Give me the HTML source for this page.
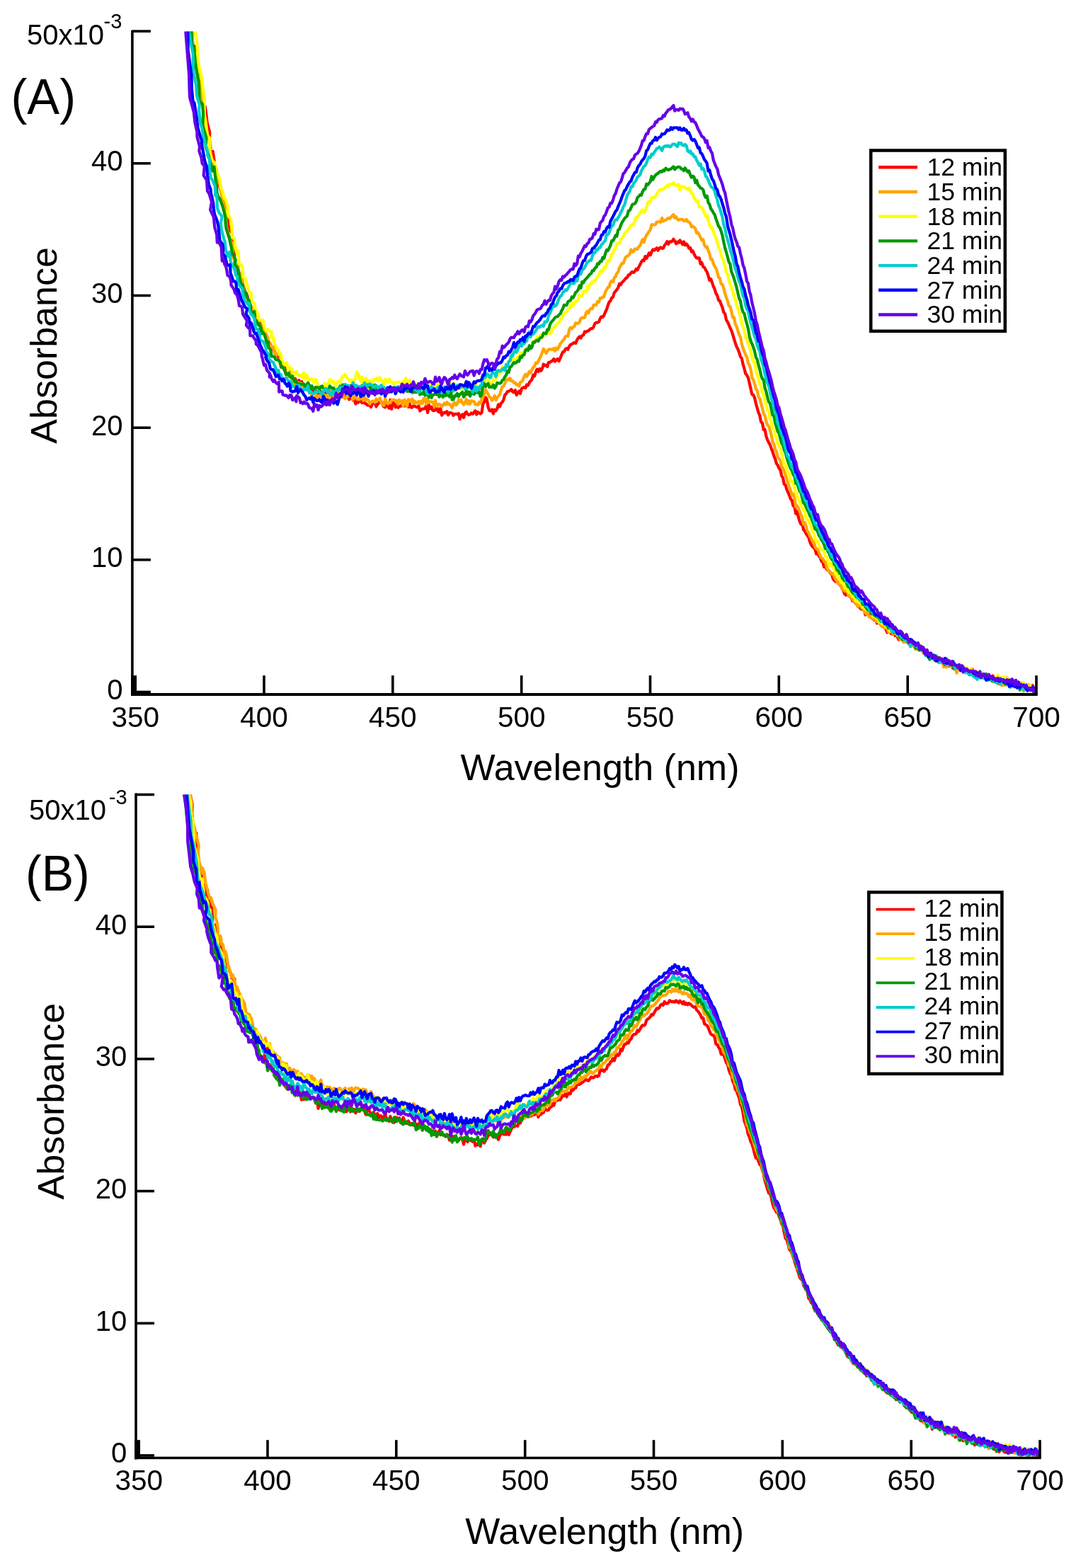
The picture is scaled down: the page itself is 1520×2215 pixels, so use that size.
<!DOCTYPE html>
<html><head><meta charset="utf-8"><title>Absorbance spectra</title>
<style>html,body{margin:0;padding:0;background:#fff;}svg{display:block;}</style>
</head><body>
<svg width="1520" height="2215" viewBox="0 0 1520 2215" font-family="'Liberation Sans', Arial, Helvetica, sans-serif" fill="#000">
<rect width="1520" height="2215" fill="#fff"/>
<clipPath id="clipA"><rect x="188" y="44.5" width="1278" height="937"/></clipPath>
<g clip-path="url(#clipA)" fill="none" stroke-width="4.2" stroke-linejoin="round" stroke-linecap="round">
<path d="M256.4 -20.3 L257.7 -14.1 L258.6 -13.0 L259.9 -14.8 L262.4 -20.1 L264.0 -12.9 L265.7 10.0 L267.0 23.8 L269.9 33.5 L270.5 46.8 L272.8 64.9 L277.0 66.1 L276.7 80.7 L279.9 98.0 L280.7 99.5 L282.7 118.3 L284.3 122.9 L288.2 137.5 L288.1 148.1 L289.8 150.4 L291.5 163.4 L292.7 173.9 L296.2 186.6 L296.0 196.2 L297.1 213.1 L300.7 213.8 L302.7 227.6 L302.9 230.8 L306.2 241.9 L307.7 249.3 L307.9 255.3 L309.2 260.7 L313.5 273.4 L315.0 282.3 L317.7 292.8 L317.3 301.0 L321.6 306.3 L322.4 318.3 L324.6 324.4 L327.9 330.3 L327.7 345.4 L329.4 349.8 L330.9 357.2 L331.7 373.0 L335.0 374.8 L335.4 377.9 L337.6 389.9 L338.6 395.9 L342.9 403.0 L344.0 404.6 L346.9 416.0 L347.7 413.7 L349.2 417.4 L350.7 423.7 L352.2 433.7 L356.6 438.2 L355.9 443.4 L359.2 442.0 L361.1 448.2 L362.2 447.4 L364.2 449.5 L367.5 457.6 L367.7 465.8 L369.5 466.5 L370.9 465.3 L374.2 474.2 L374.5 474.0 L377.9 480.4 L378.5 483.3 L380.7 484.0 L382.0 486.7 L383.8 490.6 L385.8 492.0 L386.2 493.5 L389.9 500.0 L390.5 500.2 L393.2 504.4 L394.0 505.4 L397.2 514.1 L399.3 515.9 L400.5 519.4 L402.0 518.8 L404.4 529.3 L406.0 528.6 L407.8 531.7 L409.4 527.5 L412.2 534.8 L412.6 534.6 L415.0 541.3 L417.1 534.8 L418.8 540.0 L420.7 543.2 L422.3 537.1 L424.2 542.4 L426.0 538.9 L427.8 543.0 L428.9 542.8 L431.4 547.6 L433.2 543.6 L435.0 542.0 L436.8 547.9 L438.7 546.9 L440.5 551.8 L442.3 550.3 L444.1 553.6 L445.9 551.7 L447.7 553.5 L449.6 556.5 L451.4 552.5 L453.2 553.0 L455.0 556.8 L456.8 555.5 L458.7 554.8 L460.5 554.7 L462.3 555.4 L464.1 557.7 L465.9 562.0 L467.7 552.6 L469.6 562.0 L471.4 559.5 L473.2 560.9 L475.0 557.9 L476.8 556.3 L478.7 556.2 L480.5 555.4 L482.3 555.1 L484.1 557.2 L485.9 561.1 L487.7 557.6 L489.6 561.4 L491.4 555.8 L493.2 564.4 L495.0 561.0 L496.8 560.4 L498.7 565.3 L500.5 562.9 L502.3 570.5 L504.1 567.7 L505.9 568.7 L507.8 566.1 L509.6 566.6 L511.4 569.1 L513.2 567.1 L515.0 569.4 L516.8 570.0 L518.7 572.2 L520.5 572.6 L522.3 570.7 L524.1 575.1 L525.9 570.5 L527.8 568.9 L529.6 569.4 L531.4 574.4 L533.2 571.3 L535.0 569.5 L536.8 566.0 L538.7 567.5 L540.5 571.6 L542.3 574.6 L544.1 575.4 L545.9 569.0 L547.8 573.4 L549.6 576.6 L551.4 564.7 L553.2 577.9 L555.0 568.6 L556.8 567.7 L558.7 575.4 L560.5 573.5 L562.3 575.8 L564.1 573.6 L565.9 573.9 L567.8 572.0 L569.6 570.7 L571.4 573.5 L573.2 566.9 L575.0 573.8 L576.8 574.8 L578.7 570.5 L580.5 575.5 L582.3 575.6 L584.1 573.3 L585.9 573.8 L587.8 574.9 L589.6 575.4 L591.4 573.3 L593.2 580.5 L595.0 578.8 L596.8 577.4 L598.7 577.7 L600.5 576.9 L602.3 572.3 L604.1 582.9 L605.9 571.9 L607.8 577.4 L609.6 574.8 L611.4 579.9 L613.2 580.2 L615.0 579.1 L616.9 573.4 L618.7 581.2 L620.5 582.3 L622.3 576.6 L624.1 586.7 L625.9 583.8 L627.8 582.4 L629.6 583.6 L631.4 581.1 L633.2 586.3 L635.0 583.2 L636.9 583.2 L638.7 583.7 L640.5 586.9 L642.3 584.8 L644.1 584.9 L645.9 585.1 L647.8 584.1 L649.6 592.2 L651.4 586.7 L653.2 585.5 L655.0 590.1 L656.9 583.6 L658.7 581.7 L660.5 585.0 L662.3 586.1 L664.1 585.3 L665.9 583.5 L667.8 584.8 L669.6 582.4 L671.4 580.2 L673.2 585.5 L675.0 582.0 L676.9 583.4 L678.7 584.6 L680.5 582.8 L682.3 570.7 L684.1 567.8 L685.9 561.4 L687.8 564.6 L689.6 575.3 L691.4 580.0 L693.2 580.6 L695.0 578.4 L696.9 584.5 L698.7 578.7 L700.5 580.3 L702.3 577.0 L704.1 571.3 L706.0 574.4 L707.8 569.8 L709.6 568.1 L711.4 564.6 L713.2 557.9 L715.0 556.2 L716.9 553.0 L718.7 552.7 L720.5 551.7 L722.3 550.0 L724.1 553.3 L726.0 554.3 L727.8 551.1 L729.6 558.1 L731.4 555.3 L733.2 552.5 L735.0 556.0 L736.9 548.9 L738.7 547.7 L740.5 547.1 L742.3 548.1 L744.1 543.4 L746.0 544.5 L747.8 540.3 L749.6 538.0 L751.4 536.3 L753.2 529.6 L755.0 531.5 L756.9 525.4 L758.7 521.8 L760.5 524.9 L762.3 520.9 L764.1 523.8 L766.0 520.8 L767.8 514.4 L769.6 516.4 L771.4 515.6 L773.2 518.1 L775.0 511.9 L776.9 511.8 L778.7 510.3 L780.5 509.7 L782.3 507.0 L784.1 510.6 L786.0 508.3 L787.8 507.0 L789.6 510.1 L791.4 506.0 L793.2 501.4 L795.0 497.3 L796.9 496.7 L798.7 493.2 L800.5 492.0 L802.3 493.8 L804.1 489.5 L806.0 486.8 L807.8 486.4 L809.6 484.9 L811.4 483.9 L813.2 485.1 L815.1 480.2 L816.9 477.3 L818.7 475.5 L820.5 477.6 L822.3 473.9 L824.1 473.4 L826.0 468.4 L827.8 469.1 L829.6 467.5 L831.4 467.5 L833.2 465.3 L835.1 464.0 L836.9 464.1 L838.7 461.3 L840.5 456.9 L842.3 455.5 L844.1 455.6 L846.0 454.6 L847.8 449.9 L849.6 447.3 L851.4 448.0 L853.2 445.5 L855.1 440.7 L856.9 437.3 L858.7 431.6 L860.5 426.8 L862.3 425.1 L864.1 420.8 L866.0 419.7 L867.8 413.3 L869.6 411.3 L871.4 409.2 L873.2 406.3 L875.1 400.8 L876.9 402.2 L878.7 398.6 L880.5 397.6 L882.3 395.2 L884.1 393.1 L886.0 391.9 L887.8 388.4 L889.6 388.2 L891.4 385.3 L893.2 384.0 L895.1 385.1 L896.9 383.3 L898.7 379.9 L900.5 381.3 L902.3 377.2 L904.2 373.8 L906.0 369.9 L907.8 367.4 L909.6 368.3 L911.4 362.1 L913.2 365.1 L915.1 361.5 L916.9 357.4 L918.7 360.4 L920.5 355.7 L922.3 352.5 L924.2 353.6 L926.0 351.9 L927.8 350.3 L929.6 353.7 L931.4 350.7 L933.2 349.3 L935.1 350.9 L936.9 350.6 L938.7 346.6 L940.5 344.5 L942.3 341.2 L944.2 344.8 L946.0 341.3 L947.8 341.6 L949.6 340.6 L951.4 337.8 L953.2 340.6 L955.1 344.4 L956.9 341.6 L958.7 343.0 L960.5 339.4 L962.3 342.1 L964.2 345.4 L966.0 341.4 L967.8 346.4 L969.6 344.6 L971.4 346.7 L973.2 350.7 L975.1 350.0 L976.9 355.7 L978.7 354.5 L980.5 358.6 L982.3 362.4 L984.2 364.7 L986.0 364.4 L987.8 364.3 L989.6 372.9 L991.4 371.1 L993.3 377.1 L995.1 377.7 L996.9 381.3 L998.7 384.2 L1000.5 389.4 L1002.3 395.9 L1004.2 394.3 L1006.0 399.2 L1007.8 404.7 L1009.6 408.7 L1011.4 414.4 L1013.3 417.5 L1015.1 424.3 L1016.9 425.0 L1018.7 430.0 L1020.5 434.4 L1022.3 441.1 L1024.2 443.2 L1026.0 452.1 L1027.8 454.7 L1029.6 458.7 L1031.4 463.2 L1033.3 467.2 L1035.1 472.4 L1036.9 478.6 L1038.7 484.5 L1040.5 489.6 L1042.3 493.1 L1044.2 497.9 L1046.0 504.0 L1047.8 506.1 L1049.6 514.7 L1051.4 520.7 L1053.3 527.9 L1055.1 530.0 L1056.9 533.4 L1058.7 541.2 L1060.5 549.0 L1062.3 557.0 L1064.2 557.8 L1066.0 561.9 L1067.8 569.8 L1069.6 576.1 L1071.4 582.7 L1073.3 587.0 L1075.1 596.3 L1076.9 597.5 L1078.7 607.0 L1080.5 606.6 L1082.3 616.2 L1084.2 621.5 L1086.0 625.2 L1087.8 628.2 L1089.6 633.4 L1091.4 638.0 L1093.3 643.9 L1095.1 648.6 L1096.9 654.8 L1098.7 657.3 L1100.5 661.3 L1102.4 663.9 L1104.2 672.4 L1106.0 675.0 L1107.8 684.0 L1109.6 685.3 L1111.4 691.7 L1113.3 695.6 L1115.1 699.9 L1116.9 704.8 L1118.7 706.8 L1120.5 714.5 L1122.4 715.6 L1124.2 725.6 L1126.0 722.4 L1127.8 730.2 L1129.6 736.3 L1131.4 740.5 L1133.3 739.8 L1135.1 748.2 L1136.9 750.3 L1138.7 753.9 L1140.5 756.7 L1142.4 759.4 L1144.2 765.6 L1146.0 769.6 L1147.8 772.5 L1149.6 773.6 L1151.4 776.0 L1153.3 782.6 L1155.1 779.6 L1156.9 785.6 L1158.7 787.7 L1160.5 792.8 L1162.4 794.6 L1164.2 800.8 L1166.0 800.5 L1167.8 804.0 L1169.6 805.7 L1171.4 806.8 L1173.3 809.8 L1175.1 811.7 L1176.9 817.8 L1178.7 820.1 L1180.5 821.6 L1182.4 822.2 L1184.2 822.4 L1186.0 825.7 L1187.8 827.9 L1189.6 829.8 L1191.5 834.7 L1193.3 839.3 L1195.1 840.6 L1196.9 838.4 L1198.7 841.2 L1200.5 843.2 L1202.4 843.4 L1204.2 849.0 L1206.0 848.9 L1207.8 851.0 L1209.6 853.1 L1211.5 853.4 L1213.3 855.3 L1215.1 859.3 L1216.9 860.4 L1218.7 861.1 L1220.5 859.9 L1222.4 868.6 L1224.2 866.7 L1226.0 868.4 L1227.8 867.5 L1229.6 870.9 L1231.5 872.9 L1233.3 874.2 L1235.1 876.1 L1236.9 873.9 L1238.7 880.4 L1240.5 878.9 L1242.4 880.0 L1244.2 882.3 L1246.0 884.1 L1247.8 885.5 L1249.6 885.6 L1251.5 889.0 L1253.3 893.5 L1255.1 891.9 L1256.9 891.2 L1258.7 895.1 L1260.5 895.6 L1262.4 894.4 L1264.2 897.9 L1266.0 895.5 L1267.8 899.9 L1269.6 903.6 L1271.5 898.9 L1273.3 900.6 L1275.1 901.2 L1276.9 906.9 L1278.7 903.7 L1280.5 905.7 L1282.4 906.4 L1284.2 909.9 L1286.0 910.8 L1287.8 908.3 L1289.6 906.5 L1291.5 912.2 L1293.3 913.1 L1295.1 914.5 L1296.9 911.3 L1298.7 915.7 L1300.6 918.4 L1302.4 913.7 L1304.2 918.0 L1306.0 917.7 L1307.8 923.8 L1309.6 923.0 L1311.5 922.9 L1313.3 922.5 L1315.1 926.0 L1316.9 927.1 L1318.7 926.7 L1320.6 931.3 L1322.4 928.1 L1324.2 932.7 L1326.0 934.9 L1327.8 931.9 L1329.6 934.4 L1331.5 937.1 L1333.3 932.2 L1335.1 934.4 L1336.9 934.1 L1338.7 938.0 L1340.6 941.1 L1342.4 935.3 L1344.2 938.0 L1346.0 943.9 L1347.8 939.2 L1349.6 942.1 L1351.5 943.1 L1353.3 940.0 L1355.1 944.7 L1356.9 944.2 L1358.7 943.7 L1360.6 943.1 L1362.4 948.6 L1364.2 947.9 L1366.0 946.3 L1367.8 946.8 L1369.6 949.7 L1371.5 951.2 L1373.3 945.2 L1375.1 952.8 L1376.9 949.3 L1378.7 948.7 L1380.6 953.3 L1382.4 954.8 L1384.2 956.1 L1386.0 952.1 L1387.8 954.6 L1389.7 957.2 L1391.5 955.7 L1393.3 959.5 L1395.1 959.7 L1396.9 953.9 L1398.7 955.9 L1400.6 960.2 L1402.4 954.4 L1404.2 960.8 L1406.0 960.2 L1407.8 957.2 L1409.7 965.0 L1411.5 958.5 L1413.3 960.2 L1415.1 961.5 L1416.9 959.8 L1418.7 962.5 L1420.6 963.6 L1422.4 957.1 L1424.2 964.6 L1426.0 966.8 L1427.8 966.4 L1429.7 965.9 L1431.5 961.2 L1433.3 967.7 L1435.1 964.5 L1436.9 964.6 L1438.7 966.0 L1440.6 967.8 L1442.4 965.4 L1444.2 965.0 L1446.0 970.2 L1447.8 971.4 L1449.7 967.5 L1451.5 970.5 L1453.3 970.3 L1455.1 974.8 L1456.9 971.9 L1458.7 968.2 L1460.6 972.4 L1462.4 978.5" stroke="#ff0000"/>
<path d="M255.3 -18.9 L257.7 -23.4 L257.4 -13.7 L260.1 -14.0 L262.2 -17.5 L263.4 -15.6 L265.4 17.8 L270.2 28.9 L269.2 36.9 L272.0 48.5 L271.7 55.9 L274.3 74.7 L277.7 76.3 L279.7 91.8 L278.8 104.5 L284.4 112.4 L284.5 127.7 L285.1 147.5 L288.2 150.4 L288.9 160.1 L289.9 175.1 L293.4 191.6 L295.9 197.9 L297.9 208.4 L296.9 211.8 L299.5 226.5 L302.1 231.3 L305.2 244.4 L307.3 253.0 L307.6 257.8 L308.7 255.2 L312.0 265.0 L312.7 273.6 L315.4 287.1 L317.9 294.6 L319.3 308.6 L319.4 315.2 L321.0 325.8 L322.5 334.2 L326.6 341.7 L328.9 344.1 L328.5 363.5 L330.8 365.6 L332.4 373.8 L335.0 374.4 L336.0 374.1 L337.7 383.9 L341.8 390.5 L343.2 401.3 L344.1 409.7 L347.1 415.4 L347.3 420.5 L349.8 422.0 L350.8 426.8 L352.7 428.5 L355.6 433.8 L355.6 434.8 L358.2 444.1 L360.1 447.8 L362.0 447.0 L364.1 449.7 L365.9 455.5 L367.1 461.2 L370.0 459.5 L372.1 463.6 L372.6 464.9 L375.3 470.2 L376.9 474.1 L378.2 476.5 L379.0 480.6 L382.2 488.1 L384.1 491.2 L386.7 489.8 L387.8 498.9 L389.3 498.6 L391.3 501.4 L393.2 499.7 L395.9 502.8 L395.5 514.5 L398.8 515.3 L401.3 521.7 L401.5 523.0 L405.2 526.9 L405.7 532.0 L407.6 531.1 L409.5 524.8 L411.7 531.8 L413.6 540.2 L415.1 545.9 L418.3 541.4 L418.3 540.2 L420.2 540.0 L422.2 544.9 L424.0 540.8 L425.5 542.0 L427.6 547.0 L429.6 546.1 L431.4 547.8 L433.2 551.1 L435.0 547.1 L436.8 551.2 L438.7 555.0 L440.5 559.2 L442.3 561.3 L444.1 564.9 L445.9 558.3 L447.7 562.3 L449.6 559.3 L451.4 560.9 L453.2 558.8 L455.0 559.7 L456.8 564.6 L458.7 558.0 L460.5 564.1 L462.3 557.7 L464.1 557.4 L465.9 562.6 L467.7 552.3 L469.6 556.0 L471.4 559.7 L473.2 560.9 L475.0 560.5 L476.8 558.7 L478.7 554.1 L480.5 560.9 L482.3 561.3 L484.1 555.0 L485.9 561.0 L487.7 563.2 L489.6 561.2 L491.4 556.4 L493.2 560.0 L495.0 559.7 L496.8 560.2 L498.7 564.4 L500.5 559.9 L502.3 559.4 L504.1 563.8 L505.9 563.3 L507.8 564.4 L509.6 559.2 L511.4 559.6 L513.2 565.9 L515.0 560.8 L516.8 565.1 L518.7 564.2 L520.5 565.4 L522.3 570.6 L524.1 568.3 L525.9 566.5 L527.8 566.9 L529.6 568.4 L531.4 563.4 L533.2 565.8 L535.0 564.4 L536.8 562.3 L538.7 569.5 L540.5 571.3 L542.3 572.9 L544.1 563.0 L545.9 568.4 L547.8 570.4 L549.6 568.1 L551.4 569.2 L553.2 565.2 L555.0 565.0 L556.8 564.6 L558.7 567.1 L560.5 565.7 L562.3 571.0 L564.1 564.8 L565.9 567.5 L567.8 566.1 L569.6 573.8 L571.4 564.7 L573.2 568.1 L575.0 573.9 L576.8 564.2 L578.7 565.7 L580.5 566.7 L582.3 563.6 L584.1 570.1 L585.9 566.6 L587.8 569.6 L589.6 568.3 L591.4 567.1 L593.2 570.5 L595.0 566.7 L596.8 569.9 L598.7 562.8 L600.5 563.6 L602.3 570.9 L604.1 562.5 L605.9 568.6 L607.8 567.3 L609.6 567.7 L611.4 567.8 L613.2 573.7 L615.0 565.6 L616.9 574.1 L618.7 571.1 L620.5 571.1 L622.3 572.0 L624.1 574.6 L625.9 572.3 L627.8 569.5 L629.6 571.7 L631.4 568.1 L633.2 571.3 L635.0 570.6 L636.9 573.1 L638.7 576.3 L640.5 569.9 L642.3 568.6 L644.1 572.3 L645.9 570.4 L647.8 564.7 L649.6 567.5 L651.4 564.7 L653.2 569.0 L655.0 571.5 L656.9 568.3 L658.7 564.0 L660.5 570.8 L662.3 566.2 L664.1 570.5 L665.9 566.2 L667.8 566.8 L669.6 567.1 L671.4 571.3 L673.2 570.7 L675.0 572.2 L676.9 567.9 L678.7 569.9 L680.5 564.1 L682.3 560.8 L684.1 557.1 L685.9 550.4 L687.8 553.7 L689.6 556.9 L691.4 561.1 L693.2 561.8 L695.0 565.8 L696.9 562.6 L698.7 558.9 L700.5 565.3 L702.3 561.6 L704.1 559.5 L706.0 557.0 L707.8 551.2 L709.6 546.5 L711.4 545.4 L713.2 541.9 L715.0 537.1 L716.9 535.5 L718.7 537.0 L720.5 534.1 L722.3 538.2 L724.1 537.9 L726.0 540.9 L727.8 540.4 L729.6 543.6 L731.4 543.1 L733.2 545.5 L735.0 540.0 L736.9 539.3 L738.7 536.6 L740.5 531.6 L742.3 528.8 L744.1 532.0 L746.0 528.3 L747.8 524.7 L749.6 526.7 L751.4 522.2 L753.2 518.9 L755.0 517.6 L756.9 512.4 L758.7 513.2 L760.5 509.9 L762.3 506.5 L764.1 502.6 L766.0 498.0 L767.8 492.8 L769.6 495.3 L771.4 499.1 L773.2 496.2 L775.0 493.5 L776.9 493.2 L778.7 493.5 L780.5 494.1 L782.3 492.1 L784.1 495.7 L786.0 491.4 L787.8 493.5 L789.6 489.8 L791.4 485.7 L793.2 483.5 L795.0 481.4 L796.9 479.2 L798.7 475.4 L800.5 474.6 L802.3 475.1 L804.1 465.6 L806.0 462.7 L807.8 464.3 L809.6 461.9 L811.4 461.2 L813.2 456.1 L815.1 456.9 L816.9 456.6 L818.7 455.0 L820.5 449.9 L822.3 448.6 L824.1 448.8 L826.0 448.6 L827.8 442.3 L829.6 439.7 L831.4 442.0 L833.2 437.5 L835.1 435.6 L836.9 436.2 L838.7 430.7 L840.5 431.0 L842.3 430.7 L844.1 426.0 L846.0 426.6 L847.8 421.1 L849.6 421.5 L851.4 419.3 L853.2 419.4 L855.1 412.3 L856.9 409.2 L858.7 406.1 L860.5 405.6 L862.3 398.8 L864.1 396.8 L866.0 398.4 L867.8 392.4 L869.6 390.7 L871.4 386.0 L873.2 384.4 L875.1 378.2 L876.9 375.3 L878.7 371.8 L880.5 372.2 L882.3 366.8 L884.1 363.0 L886.0 362.1 L887.8 360.7 L889.6 358.8 L891.4 352.6 L893.2 356.1 L895.1 355.0 L896.9 351.5 L898.7 351.6 L900.5 352.0 L902.3 348.5 L904.2 346.9 L906.0 342.3 L907.8 338.1 L909.6 342.3 L911.4 336.3 L913.2 332.5 L915.1 329.6 L916.9 326.9 L918.7 324.4 L920.5 317.4 L922.3 317.4 L924.2 317.5 L926.0 317.3 L927.8 313.5 L929.6 313.3 L931.4 313.0 L933.2 314.0 L935.1 307.8 L936.9 312.6 L938.7 311.4 L940.5 311.0 L942.3 309.2 L944.2 307.8 L946.0 309.0 L947.8 306.8 L949.6 304.8 L951.4 303.1 L953.2 307.9 L955.1 306.2 L956.9 309.5 L958.7 310.8 L960.5 309.9 L962.3 310.0 L964.2 309.9 L966.0 312.2 L967.8 311.9 L969.6 310.0 L971.4 313.0 L973.2 313.5 L975.1 315.7 L976.9 320.5 L978.7 319.7 L980.5 321.1 L982.3 322.8 L984.2 329.4 L986.0 328.5 L987.8 331.8 L989.6 335.6 L991.4 339.3 L993.3 338.5 L995.1 346.4 L996.9 349.0 L998.7 348.4 L1000.5 353.8 L1002.3 358.6 L1004.2 366.4 L1006.0 366.1 L1007.8 372.6 L1009.6 376.4 L1011.4 378.9 L1013.3 384.6 L1015.1 391.9 L1016.9 393.2 L1018.7 401.3 L1020.5 401.7 L1022.3 406.9 L1024.2 414.5 L1026.0 420.2 L1027.8 425.1 L1029.6 432.1 L1031.4 432.8 L1033.3 440.0 L1035.1 448.6 L1036.9 448.2 L1038.7 457.8 L1040.5 461.1 L1042.3 467.1 L1044.2 472.8 L1046.0 476.2 L1047.8 486.1 L1049.6 491.5 L1051.4 496.5 L1053.3 501.2 L1055.1 504.6 L1056.9 512.6 L1058.7 516.1 L1060.5 521.8 L1062.3 533.5 L1064.2 536.4 L1066.0 541.9 L1067.8 549.1 L1069.6 551.9 L1071.4 560.0 L1073.3 563.2 L1075.1 570.3 L1076.9 576.5 L1078.7 584.0 L1080.5 586.9 L1082.3 595.6 L1084.2 600.2 L1086.0 602.0 L1087.8 607.8 L1089.6 614.4 L1091.4 624.2 L1093.3 627.3 L1095.1 634.7 L1096.9 638.3 L1098.7 646.1 L1100.5 647.7 L1102.4 651.0 L1104.2 658.8 L1106.0 661.1 L1107.8 665.7 L1109.6 671.0 L1111.4 676.5 L1113.3 683.1 L1115.1 688.1 L1116.9 693.1 L1118.7 699.5 L1120.5 697.4 L1122.4 704.5 L1124.2 715.8 L1126.0 714.3 L1127.8 717.5 L1129.6 722.6 L1131.4 726.7 L1133.3 731.7 L1135.1 740.7 L1136.9 738.0 L1138.7 742.9 L1140.5 750.7 L1142.4 752.6 L1144.2 757.6 L1146.0 760.2 L1147.8 765.0 L1149.6 765.1 L1151.4 772.4 L1153.3 775.3 L1155.1 775.7 L1156.9 780.3 L1158.7 785.1 L1160.5 788.4 L1162.4 789.1 L1164.2 793.5 L1166.0 793.9 L1167.8 801.0 L1169.6 805.5 L1171.4 807.6 L1173.3 808.3 L1175.1 811.1 L1176.9 810.1 L1178.7 815.3 L1180.5 818.3 L1182.4 821.0 L1184.2 824.7 L1186.0 824.7 L1187.8 827.2 L1189.6 832.8 L1191.5 833.2 L1193.3 835.1 L1195.1 833.8 L1196.9 836.5 L1198.7 840.8 L1200.5 843.3 L1202.4 841.7 L1204.2 847.0 L1206.0 848.9 L1207.8 850.3 L1209.6 852.6 L1211.5 856.9 L1213.3 854.8 L1215.1 854.6 L1216.9 858.4 L1218.7 859.6 L1220.5 862.5 L1222.4 865.9 L1224.2 867.6 L1226.0 867.5 L1227.8 871.7 L1229.6 870.7 L1231.5 873.7 L1233.3 874.3 L1235.1 874.6 L1236.9 876.0 L1238.7 878.4 L1240.5 878.6 L1242.4 880.4 L1244.2 882.4 L1246.0 885.3 L1247.8 884.7 L1249.6 887.3 L1251.5 885.9 L1253.3 888.0 L1255.1 892.9 L1256.9 892.6 L1258.7 889.9 L1260.5 894.1 L1262.4 895.6 L1264.2 893.7 L1266.0 895.3 L1267.8 897.8 L1269.6 898.7 L1271.5 903.2 L1273.3 903.4 L1275.1 904.9 L1276.9 907.4 L1278.7 902.0 L1280.5 906.6 L1282.4 907.7 L1284.2 908.1 L1286.0 909.6 L1287.8 910.2 L1289.6 912.6 L1291.5 912.0 L1293.3 917.4 L1295.1 916.0 L1296.9 915.0 L1298.7 917.7 L1300.6 915.9 L1302.4 919.1 L1304.2 922.3 L1306.0 924.1 L1307.8 920.9 L1309.6 921.6 L1311.5 928.5 L1313.3 928.4 L1315.1 928.5 L1316.9 927.0 L1318.7 930.7 L1320.6 932.0 L1322.4 931.7 L1324.2 934.3 L1326.0 931.8 L1327.8 935.0 L1329.6 930.4 L1331.5 935.3 L1333.3 942.4 L1335.1 939.3 L1336.9 942.5 L1338.7 940.2 L1340.6 939.7 L1342.4 940.8 L1344.2 939.2 L1346.0 941.8 L1347.8 941.1 L1349.6 943.0 L1351.5 950.8 L1353.3 944.2 L1355.1 943.9 L1356.9 947.7 L1358.7 946.9 L1360.6 945.2 L1362.4 945.5 L1364.2 949.2 L1366.0 949.0 L1367.8 950.0 L1369.6 951.9 L1371.5 952.9 L1373.3 948.3 L1375.1 954.1 L1376.9 955.0 L1378.7 951.6 L1380.6 956.9 L1382.4 956.1 L1384.2 957.1 L1386.0 954.5 L1387.8 957.1 L1389.7 956.8 L1391.5 955.5 L1393.3 960.6 L1395.1 960.1 L1396.9 960.5 L1398.7 958.1 L1400.6 957.9 L1402.4 959.8 L1404.2 956.9 L1406.0 961.6 L1407.8 962.7 L1409.7 966.0 L1411.5 965.8 L1413.3 967.3 L1415.1 967.9 L1416.9 968.2 L1418.7 964.8 L1420.6 967.8 L1422.4 966.8 L1424.2 959.4 L1426.0 967.8 L1427.8 967.6 L1429.7 968.8 L1431.5 966.5 L1433.3 967.5 L1435.1 967.5 L1436.9 971.7 L1438.7 970.0 L1440.6 972.8 L1442.4 967.9 L1444.2 973.0 L1446.0 976.3 L1447.8 970.2 L1449.7 972.0 L1451.5 969.5 L1453.3 967.1 L1455.1 971.8 L1456.9 974.4 L1458.7 975.7 L1460.6 976.3 L1462.4 980.3" stroke="#ffa500"/>
<path d="M256.0 -13.2 L256.8 -6.7 L258.5 -12.3 L260.3 -21.2 L261.9 -18.7 L264.2 -13.7 L265.2 -15.8 L266.1 -9.2 L266.9 2.0 L271.3 30.0 L273.8 43.1 L275.3 42.7 L278.3 59.0 L278.6 68.5 L279.4 82.7 L282.5 101.2 L284.2 106.0 L286.0 119.6 L288.7 140.3 L288.6 161.4 L290.5 171.5 L293.1 191.4 L296.1 194.8 L296.0 214.6 L299.9 227.1 L300.7 227.6 L302.2 228.7 L303.4 229.9 L305.8 242.3 L306.2 241.7 L311.0 255.1 L311.5 265.3 L313.7 268.9 L314.3 270.7 L317.0 280.6 L318.5 281.6 L322.0 293.3 L321.2 302.4 L324.7 308.2 L325.9 308.3 L327.7 326.7 L327.8 335.4 L331.2 337.8 L332.7 350.4 L335.2 359.9 L336.3 353.9 L338.0 373.0 L340.9 374.2 L342.5 377.9 L343.6 391.1 L346.0 393.1 L348.2 398.1 L349.3 403.6 L351.2 410.9 L354.7 413.9 L354.9 421.8 L355.4 424.5 L359.4 429.1 L361.7 441.1 L362.7 439.9 L365.0 445.4 L364.6 451.7 L367.7 452.2 L369.6 451.9 L371.4 452.1 L373.1 460.3 L374.1 463.1 L376.7 467.7 L378.6 465.2 L380.7 468.2 L383.8 468.3 L382.9 476.5 L385.9 476.1 L386.7 482.9 L390.3 490.4 L391.4 492.4 L393.4 494.9 L395.0 500.1 L396.3 498.5 L397.8 508.3 L400.2 512.9 L402.3 515.6 L404.9 512.2 L406.7 520.5 L407.7 521.5 L409.7 519.0 L411.5 520.5 L413.2 524.4 L415.0 530.7 L416.3 528.5 L418.6 524.7 L420.0 528.7 L422.2 531.1 L424.1 530.3 L425.5 529.4 L427.7 533.7 L429.2 526.4 L431.4 535.8 L433.2 529.9 L435.0 533.7 L436.8 536.9 L438.7 535.5 L440.5 535.3 L442.3 538.7 L444.1 539.9 L445.9 535.6 L447.7 539.4 L449.6 545.0 L451.4 547.4 L453.2 546.2 L455.0 545.7 L456.8 547.7 L458.7 541.4 L460.5 546.7 L462.3 543.0 L464.1 542.4 L465.9 536.1 L467.7 537.2 L469.6 540.7 L471.4 538.7 L473.2 541.7 L475.0 545.6 L476.8 540.0 L478.7 537.9 L480.5 540.4 L482.3 535.4 L484.1 531.3 L485.9 531.8 L487.7 528.5 L489.6 533.1 L491.4 535.5 L493.2 536.7 L495.0 539.3 L496.8 536.6 L498.7 538.2 L500.5 539.6 L502.3 532.5 L504.1 525.2 L505.9 528.5 L507.8 534.7 L509.6 538.9 L511.4 532.0 L513.2 539.4 L515.0 539.6 L516.8 534.1 L518.7 541.0 L520.5 547.1 L522.3 537.5 L524.1 538.6 L525.9 540.3 L527.8 535.5 L529.6 535.8 L531.4 537.6 L533.2 533.6 L535.0 538.5 L536.8 533.8 L538.7 536.6 L540.5 539.4 L542.3 544.0 L544.1 535.5 L545.9 538.1 L547.8 539.6 L549.6 535.2 L551.4 537.4 L553.2 539.6 L555.0 540.3 L556.8 543.3 L558.7 540.8 L560.5 539.8 L562.3 540.0 L564.1 539.6 L565.9 542.3 L567.8 544.5 L569.6 538.1 L571.4 540.3 L573.2 534.0 L575.0 538.5 L576.8 541.9 L578.7 536.8 L580.5 543.3 L582.3 545.8 L584.1 540.2 L585.9 541.9 L587.8 543.2 L589.6 542.2 L591.4 543.8 L593.2 543.3 L595.0 547.3 L596.8 545.7 L598.7 544.0 L600.5 537.6 L602.3 544.1 L604.1 546.3 L605.9 547.2 L607.8 544.4 L609.6 548.1 L611.4 549.0 L613.2 545.4 L615.0 547.9 L616.9 547.4 L618.7 542.6 L620.5 547.5 L622.3 551.0 L624.1 549.0 L625.9 549.1 L627.8 551.0 L629.6 548.4 L631.4 546.6 L633.2 543.6 L635.0 540.1 L636.9 543.5 L638.7 553.0 L640.5 548.1 L642.3 541.7 L644.1 550.0 L645.9 544.0 L647.8 547.9 L649.6 550.0 L651.4 546.3 L653.2 548.1 L655.0 549.4 L656.9 541.7 L658.7 545.2 L660.5 548.5 L662.3 545.2 L664.1 543.2 L665.9 549.2 L667.8 546.1 L669.6 543.4 L671.4 542.5 L673.2 545.7 L675.0 548.8 L676.9 546.6 L678.7 549.2 L680.5 548.4 L682.3 541.1 L684.1 539.8 L685.9 536.4 L687.8 535.1 L689.6 535.1 L691.4 542.3 L693.2 544.9 L695.0 541.0 L696.9 536.5 L698.7 537.4 L700.5 535.9 L702.3 530.8 L704.1 527.5 L706.0 527.4 L707.8 526.2 L709.6 518.1 L711.4 523.0 L713.2 519.0 L715.0 518.1 L716.9 514.3 L718.7 510.8 L720.5 510.7 L722.3 508.9 L724.1 507.4 L726.0 507.0 L727.8 508.2 L729.6 505.1 L731.4 505.7 L733.2 503.0 L735.0 498.4 L736.9 500.1 L738.7 498.3 L740.5 498.7 L742.3 493.4 L744.1 495.5 L746.0 490.9 L747.8 489.0 L749.6 490.6 L751.4 487.6 L753.2 482.5 L755.0 480.6 L756.9 480.1 L758.7 476.3 L760.5 482.0 L762.3 474.7 L764.1 472.9 L766.0 477.7 L767.8 470.1 L769.6 471.0 L771.4 472.8 L773.2 470.2 L775.0 469.4 L776.9 471.3 L778.7 470.0 L780.5 464.8 L782.3 462.4 L784.1 461.5 L786.0 458.7 L787.8 456.7 L789.6 455.5 L791.4 451.6 L793.2 450.6 L795.0 446.6 L796.9 443.2 L798.7 442.2 L800.5 440.9 L802.3 437.6 L804.1 435.1 L806.0 434.3 L807.8 429.1 L809.6 432.2 L811.4 427.0 L813.2 425.6 L815.1 425.7 L816.9 422.8 L818.7 416.8 L820.5 419.0 L822.3 418.0 L824.1 412.3 L826.0 411.1 L827.8 412.3 L829.6 404.9 L831.4 408.6 L833.2 401.0 L835.1 400.9 L836.9 398.1 L838.7 396.9 L840.5 397.3 L842.3 393.5 L844.1 390.7 L846.0 389.0 L847.8 383.6 L849.6 382.3 L851.4 383.4 L853.2 378.1 L855.1 378.4 L856.9 373.2 L858.7 368.5 L860.5 369.0 L862.3 364.8 L864.1 359.3 L866.0 357.4 L867.8 352.3 L869.6 350.4 L871.4 344.6 L873.2 343.4 L875.1 343.7 L876.9 338.8 L878.7 336.4 L880.5 334.3 L882.3 330.3 L884.1 327.6 L886.0 326.0 L887.8 323.3 L889.6 321.3 L891.4 317.8 L893.2 317.4 L895.1 317.1 L896.9 312.3 L898.7 307.0 L900.5 307.4 L902.3 303.7 L904.2 301.1 L906.0 298.3 L907.8 296.5 L909.6 300.0 L911.4 298.3 L913.2 293.1 L915.1 286.2 L916.9 284.6 L918.7 284.9 L920.5 279.0 L922.3 278.7 L924.2 278.8 L926.0 277.7 L927.8 273.8 L929.6 271.1 L931.4 269.4 L933.2 267.7 L935.1 267.8 L936.9 267.1 L938.7 266.2 L940.5 263.9 L942.3 261.8 L944.2 264.1 L946.0 260.1 L947.8 260.4 L949.6 260.6 L951.4 258.3 L953.2 260.9 L955.1 262.1 L956.9 261.7 L958.7 260.5 L960.5 268.2 L962.3 263.2 L964.2 263.9 L966.0 264.4 L967.8 264.5 L969.6 266.2 L971.4 267.8 L973.2 265.6 L975.1 268.7 L976.9 272.9 L978.7 274.0 L980.5 279.7 L982.3 281.6 L984.2 285.4 L986.0 284.5 L987.8 292.6 L989.6 292.0 L991.4 293.0 L993.3 296.5 L995.1 301.0 L996.9 305.8 L998.7 303.7 L1000.5 311.0 L1002.3 317.5 L1004.2 321.8 L1006.0 321.1 L1007.8 327.2 L1009.6 331.3 L1011.4 337.6 L1013.3 340.9 L1015.1 349.8 L1016.9 352.6 L1018.7 359.6 L1020.5 365.2 L1022.3 368.9 L1024.2 375.6 L1026.0 385.2 L1027.8 387.3 L1029.6 396.2 L1031.4 401.5 L1033.3 406.2 L1035.1 411.6 L1036.9 418.3 L1038.7 423.0 L1040.5 430.2 L1042.3 436.3 L1044.2 441.5 L1046.0 447.8 L1047.8 456.5 L1049.6 461.8 L1051.4 466.2 L1053.3 476.6 L1055.1 479.2 L1056.9 486.0 L1058.7 490.7 L1060.5 495.7 L1062.3 505.4 L1064.2 511.0 L1066.0 511.6 L1067.8 523.3 L1069.6 529.4 L1071.4 535.3 L1073.3 542.1 L1075.1 546.1 L1076.9 554.3 L1078.7 557.6 L1080.5 565.8 L1082.3 571.9 L1084.2 579.4 L1086.0 582.1 L1087.8 591.3 L1089.6 596.5 L1091.4 605.1 L1093.3 607.2 L1095.1 614.3 L1096.9 619.1 L1098.7 627.3 L1100.5 629.5 L1102.4 634.4 L1104.2 640.6 L1106.0 649.1 L1107.8 654.8 L1109.6 656.9 L1111.4 661.9 L1113.3 668.0 L1115.1 669.0 L1116.9 680.2 L1118.7 679.4 L1120.5 683.5 L1122.4 689.5 L1124.2 695.0 L1126.0 700.4 L1127.8 705.8 L1129.6 708.5 L1131.4 713.8 L1133.3 716.9 L1135.1 720.5 L1136.9 723.7 L1138.7 732.9 L1140.5 733.9 L1142.4 735.0 L1144.2 741.3 L1146.0 745.7 L1147.8 751.2 L1149.6 753.7 L1151.4 760.2 L1153.3 765.6 L1155.1 764.6 L1156.9 770.0 L1158.7 773.6 L1160.5 775.5 L1162.4 777.9 L1164.2 779.3 L1166.0 785.9 L1167.8 786.7 L1169.6 793.2 L1171.4 799.5 L1173.3 795.7 L1175.1 799.9 L1176.9 801.4 L1178.7 805.0 L1180.5 811.1 L1182.4 810.1 L1184.2 816.0 L1186.0 817.7 L1187.8 822.6 L1189.6 820.5 L1191.5 824.6 L1193.3 831.1 L1195.1 827.6 L1196.9 832.9 L1198.7 837.1 L1200.5 834.5 L1202.4 837.2 L1204.2 842.9 L1206.0 840.7 L1207.8 847.2 L1209.6 849.3 L1211.5 849.5 L1213.3 850.9 L1215.1 852.4 L1216.9 853.1 L1218.7 857.7 L1220.5 859.1 L1222.4 860.1 L1224.2 862.2 L1226.0 860.2 L1227.8 863.4 L1229.6 862.1 L1231.5 866.8 L1233.3 870.9 L1235.1 870.4 L1236.9 871.9 L1238.7 873.6 L1240.5 874.9 L1242.4 878.7 L1244.2 876.4 L1246.0 881.5 L1247.8 882.1 L1249.6 880.0 L1251.5 885.3 L1253.3 886.1 L1255.1 886.3 L1256.9 891.5 L1258.7 888.0 L1260.5 889.9 L1262.4 892.9 L1264.2 893.3 L1266.0 894.6 L1267.8 897.7 L1269.6 896.1 L1271.5 899.4 L1273.3 898.6 L1275.1 900.3 L1276.9 900.1 L1278.7 902.6 L1280.5 900.8 L1282.4 900.8 L1284.2 905.8 L1286.0 909.2 L1287.8 906.5 L1289.6 910.0 L1291.5 913.4 L1293.3 912.8 L1295.1 913.3 L1296.9 911.1 L1298.7 910.6 L1300.6 913.5 L1302.4 915.9 L1304.2 915.0 L1306.0 920.4 L1307.8 918.4 L1309.6 923.4 L1311.5 924.1 L1313.3 925.4 L1315.1 925.5 L1316.9 925.3 L1318.7 929.3 L1320.6 925.0 L1322.4 927.3 L1324.2 929.8 L1326.0 930.8 L1327.8 929.2 L1329.6 933.5 L1331.5 932.3 L1333.3 935.4 L1335.1 933.4 L1336.9 934.6 L1338.7 936.4 L1340.6 935.1 L1342.4 935.8 L1344.2 937.5 L1346.0 938.7 L1347.8 938.9 L1349.6 940.6 L1351.5 939.0 L1353.3 940.8 L1355.1 939.9 L1356.9 942.9 L1358.7 940.6 L1360.6 943.0 L1362.4 946.8 L1364.2 946.6 L1366.0 943.2 L1367.8 949.8 L1369.6 946.5 L1371.5 944.4 L1373.3 951.0 L1375.1 948.3 L1376.9 952.2 L1378.7 952.0 L1380.6 956.8 L1382.4 956.3 L1384.2 949.1 L1386.0 954.3 L1387.8 951.9 L1389.7 953.5 L1391.5 954.2 L1393.3 955.4 L1395.1 954.4 L1396.9 957.3 L1398.7 958.2 L1400.6 958.8 L1402.4 962.4 L1404.2 957.4 L1406.0 957.4 L1407.8 958.1 L1409.7 953.4 L1411.5 958.6 L1413.3 957.6 L1415.1 958.4 L1416.9 956.4 L1418.7 957.3 L1420.6 961.9 L1422.4 957.2 L1424.2 958.5 L1426.0 963.1 L1427.8 962.4 L1429.7 966.2 L1431.5 963.3 L1433.3 969.0 L1435.1 966.0 L1436.9 963.4 L1438.7 964.3 L1440.6 968.6 L1442.4 963.7 L1444.2 964.3 L1446.0 964.0 L1447.8 968.0 L1449.7 969.9 L1451.5 971.7 L1453.3 969.1 L1455.1 968.2 L1456.9 971.1 L1458.7 971.2 L1460.6 975.3 L1462.4 975.6" stroke="#ffff00"/>
<path d="M255.1 -11.3 L256.6 -20.4 L258.7 -13.5 L260.6 -21.7 L262.8 -12.1 L262.6 3.3 L266.4 20.2 L269.4 34.6 L270.2 38.5 L271.0 61.8 L273.6 66.1 L275.1 78.9 L276.6 93.5 L279.3 109.4 L280.9 117.4 L281.7 142.6 L286.1 146.9 L287.1 161.7 L286.2 176.6 L289.5 188.0 L291.4 194.5 L290.7 207.6 L293.9 217.3 L298.0 232.1 L298.7 234.4 L300.5 241.6 L302.6 235.6 L304.3 251.7 L305.6 259.8 L306.6 273.0 L308.3 277.6 L310.7 281.4 L314.2 290.5 L316.1 297.2 L318.3 306.0 L318.6 315.3 L319.7 323.6 L323.9 335.5 L325.3 343.1 L326.6 348.2 L328.3 359.4 L329.3 358.7 L332.7 367.2 L331.8 375.4 L334.7 376.4 L337.6 386.7 L338.8 395.2 L341.6 403.0 L342.8 402.1 L343.5 412.1 L345.9 415.9 L346.2 412.0 L350.9 423.9 L351.6 424.0 L354.0 432.8 L354.2 439.4 L356.8 441.7 L359.4 439.9 L360.1 454.3 L362.3 452.7 L364.8 459.0 L366.1 457.3 L368.3 462.2 L369.9 471.3 L371.3 469.5 L374.0 473.2 L375.4 478.8 L377.8 487.2 L378.9 482.7 L379.1 490.6 L382.2 494.0 L383.5 503.4 L386.0 503.7 L387.8 503.9 L389.2 507.7 L391.4 508.2 L393.6 509.0 L396.0 511.8 L397.1 519.0 L398.7 518.0 L400.0 519.1 L402.1 523.2 L404.1 529.2 L405.8 528.8 L407.8 527.1 L409.0 530.9 L411.4 533.5 L413.1 531.3 L414.4 535.7 L416.6 539.4 L418.5 538.1 L420.6 545.4 L422.4 542.1 L424.0 542.2 L425.9 543.2 L427.7 542.6 L429.5 542.5 L431.4 548.5 L433.2 545.2 L435.0 540.6 L436.8 544.0 L438.7 548.6 L440.5 545.1 L442.3 549.2 L444.1 550.0 L445.9 546.8 L447.7 547.4 L449.6 547.4 L451.4 550.6 L453.2 546.0 L455.0 545.4 L456.8 548.7 L458.7 551.3 L460.5 548.9 L462.3 552.1 L464.1 550.2 L465.9 545.3 L467.7 547.4 L469.6 548.6 L471.4 548.2 L473.2 551.3 L475.0 551.2 L476.8 549.9 L478.7 549.4 L480.5 545.5 L482.3 550.5 L484.1 543.4 L485.9 547.9 L487.7 543.2 L489.6 552.0 L491.4 546.2 L493.2 550.8 L495.0 544.8 L496.8 547.3 L498.7 551.4 L500.5 549.7 L502.3 548.6 L504.1 548.3 L505.9 547.9 L507.8 546.3 L509.6 547.0 L511.4 550.4 L513.2 548.1 L515.0 547.6 L516.8 548.5 L518.7 543.7 L520.5 545.8 L522.3 544.6 L524.1 553.9 L525.9 547.8 L527.8 549.9 L529.6 543.7 L531.4 547.4 L533.2 549.4 L535.0 547.5 L536.8 552.1 L538.7 547.6 L540.5 549.0 L542.3 554.7 L544.1 554.1 L545.9 550.6 L547.8 550.1 L549.6 551.7 L551.4 553.2 L553.2 548.6 L555.0 548.6 L556.8 547.8 L558.7 555.5 L560.5 553.3 L562.3 550.1 L564.1 549.9 L565.9 553.0 L567.8 550.9 L569.6 550.0 L571.4 549.7 L573.2 551.4 L575.0 552.8 L576.8 552.7 L578.7 552.7 L580.5 551.5 L582.3 554.3 L584.1 554.5 L585.9 549.2 L587.8 554.3 L589.6 552.7 L591.4 551.6 L593.2 557.4 L595.0 555.8 L596.8 556.5 L598.7 553.0 L600.5 558.5 L602.3 557.6 L604.1 555.1 L605.9 561.1 L607.8 555.0 L609.6 561.9 L611.4 557.7 L613.2 557.4 L615.0 556.2 L616.9 557.5 L618.7 555.4 L620.5 560.7 L622.3 559.2 L624.1 555.4 L625.9 561.1 L627.8 556.2 L629.6 558.9 L631.4 555.8 L633.2 558.6 L635.0 560.5 L636.9 552.8 L638.7 564.6 L640.5 564.5 L642.3 558.8 L644.1 559.4 L645.9 555.8 L647.8 560.2 L649.6 557.0 L651.4 555.8 L653.2 553.8 L655.0 560.8 L656.9 558.5 L658.7 551.8 L660.5 557.2 L662.3 553.5 L664.1 559.7 L665.9 553.5 L667.8 555.9 L669.6 557.1 L671.4 555.1 L673.2 553.4 L675.0 554.8 L676.9 553.9 L678.7 560.1 L680.5 557.3 L682.3 543.1 L684.1 541.7 L685.9 546.3 L687.8 543.1 L689.6 541.8 L691.4 547.1 L693.2 546.6 L695.0 546.8 L696.9 543.7 L698.7 548.5 L700.5 545.9 L702.3 540.8 L704.1 541.4 L706.0 541.5 L707.8 540.8 L709.6 537.2 L711.4 536.2 L713.2 532.2 L715.0 530.2 L716.9 523.9 L718.7 526.0 L720.5 518.5 L722.3 517.6 L724.1 514.9 L726.0 511.9 L727.8 513.2 L729.6 511.8 L731.4 509.7 L733.2 510.5 L735.0 503.6 L736.9 505.0 L738.7 501.6 L740.5 501.2 L742.3 494.6 L744.1 493.3 L746.0 495.1 L747.8 488.2 L749.6 492.4 L751.4 490.8 L753.2 483.5 L755.0 484.0 L756.9 481.6 L758.7 480.5 L760.5 482.0 L762.3 478.0 L764.1 477.0 L766.0 475.6 L767.8 470.7 L769.6 470.8 L771.4 471.4 L773.2 465.6 L775.0 465.8 L776.9 458.4 L778.7 455.1 L780.5 453.1 L782.3 451.2 L784.1 448.5 L786.0 447.5 L787.8 447.1 L789.6 444.8 L791.4 443.6 L793.2 439.1 L795.0 436.1 L796.9 430.8 L798.7 431.3 L800.5 431.1 L802.3 426.2 L804.1 425.2 L806.0 424.4 L807.8 419.5 L809.6 420.7 L811.4 417.1 L813.2 413.1 L815.1 411.6 L816.9 409.0 L818.7 403.4 L820.5 406.8 L822.3 398.1 L824.1 399.4 L826.0 395.8 L827.8 393.9 L829.6 392.0 L831.4 389.7 L833.2 387.5 L835.1 386.5 L836.9 382.0 L838.7 382.4 L840.5 378.4 L842.3 377.7 L844.1 372.4 L846.0 372.9 L847.8 369.2 L849.6 369.4 L851.4 363.6 L853.2 365.2 L855.1 358.4 L856.9 353.1 L858.7 354.0 L860.5 350.5 L862.3 347.1 L864.1 340.2 L866.0 340.3 L867.8 336.7 L869.6 332.4 L871.4 333.7 L873.2 324.8 L875.1 323.7 L876.9 318.3 L878.7 314.2 L880.5 311.5 L882.3 308.5 L884.1 306.8 L886.0 305.1 L887.8 297.7 L889.6 297.3 L891.4 293.5 L893.2 288.9 L895.1 288.3 L896.9 287.5 L898.7 284.8 L900.5 279.0 L902.3 277.5 L904.2 275.2 L906.0 275.8 L907.8 270.5 L909.6 267.6 L911.4 267.0 L913.2 259.9 L915.1 261.1 L916.9 258.8 L918.7 256.4 L920.5 249.0 L922.3 253.8 L924.2 250.2 L926.0 247.5 L927.8 245.7 L929.6 245.0 L931.4 243.0 L933.2 241.8 L935.1 242.8 L936.9 240.2 L938.7 241.4 L940.5 237.6 L942.3 239.2 L944.2 240.3 L946.0 239.0 L947.8 238.6 L949.6 237.0 L951.4 235.4 L953.2 239.3 L955.1 237.3 L956.9 236.1 L958.7 235.7 L960.5 236.2 L962.3 238.6 L964.2 238.8 L966.0 241.1 L967.8 237.3 L969.6 240.1 L971.4 242.9 L973.2 241.5 L975.1 247.2 L976.9 250.7 L978.7 248.6 L980.5 250.1 L982.3 258.2 L984.2 254.6 L986.0 261.3 L987.8 263.1 L989.6 265.7 L991.4 266.1 L993.3 268.1 L995.1 275.5 L996.9 278.9 L998.7 276.7 L1000.5 286.2 L1002.3 288.6 L1004.2 295.2 L1006.0 297.2 L1007.8 300.7 L1009.6 303.1 L1011.4 309.1 L1013.3 314.4 L1015.1 319.7 L1016.9 321.7 L1018.7 326.6 L1020.5 332.7 L1022.3 341.9 L1024.2 350.4 L1026.0 356.3 L1027.8 362.8 L1029.6 370.0 L1031.4 372.7 L1033.3 384.0 L1035.1 388.2 L1036.9 393.5 L1038.7 399.5 L1040.5 405.6 L1042.3 413.6 L1044.2 421.5 L1046.0 425.3 L1047.8 435.1 L1049.6 440.8 L1051.4 442.9 L1053.3 451.1 L1055.1 457.4 L1056.9 464.3 L1058.7 475.2 L1060.5 481.6 L1062.3 485.6 L1064.2 490.6 L1066.0 495.8 L1067.8 504.7 L1069.6 507.6 L1071.4 515.2 L1073.3 522.0 L1075.1 530.1 L1076.9 535.1 L1078.7 536.7 L1080.5 547.8 L1082.3 553.0 L1084.2 561.0 L1086.0 567.8 L1087.8 569.7 L1089.6 577.8 L1091.4 586.4 L1093.3 587.5 L1095.1 597.7 L1096.9 603.5 L1098.7 609.4 L1100.5 611.9 L1102.4 619.8 L1104.2 626.0 L1106.0 628.8 L1107.8 635.3 L1109.6 639.5 L1111.4 646.4 L1113.3 652.3 L1115.1 657.4 L1116.9 662.0 L1118.7 664.8 L1120.5 670.2 L1122.4 673.1 L1124.2 682.9 L1126.0 683.2 L1127.8 688.2 L1129.6 694.1 L1131.4 695.5 L1133.3 703.7 L1135.1 710.6 L1136.9 712.1 L1138.7 716.2 L1140.5 720.4 L1142.4 723.6 L1144.2 728.8 L1146.0 731.1 L1147.8 736.5 L1149.6 741.1 L1151.4 747.3 L1153.3 748.4 L1155.1 751.0 L1156.9 756.8 L1158.7 758.1 L1160.5 762.9 L1162.4 765.3 L1164.2 769.4 L1166.0 775.2 L1167.8 773.6 L1169.6 779.2 L1171.4 781.8 L1173.3 787.2 L1175.1 790.6 L1176.9 790.8 L1178.7 797.9 L1180.5 798.1 L1182.4 805.4 L1184.2 806.0 L1186.0 809.9 L1187.8 809.6 L1189.6 816.2 L1191.5 818.6 L1193.3 820.5 L1195.1 820.4 L1196.9 826.5 L1198.7 829.4 L1200.5 829.8 L1202.4 834.3 L1204.2 837.0 L1206.0 838.9 L1207.8 838.6 L1209.6 843.1 L1211.5 844.6 L1213.3 845.0 L1215.1 848.1 L1216.9 848.8 L1218.7 853.9 L1220.5 853.6 L1222.4 856.8 L1224.2 859.3 L1226.0 862.0 L1227.8 862.7 L1229.6 860.5 L1231.5 867.2 L1233.3 867.0 L1235.1 869.1 L1236.9 870.4 L1238.7 871.3 L1240.5 870.9 L1242.4 875.0 L1244.2 877.7 L1246.0 876.6 L1247.8 878.5 L1249.6 879.6 L1251.5 882.4 L1253.3 883.6 L1255.1 887.2 L1256.9 886.6 L1258.7 888.8 L1260.5 887.9 L1262.4 893.5 L1264.2 891.8 L1266.0 892.0 L1267.8 894.0 L1269.6 896.8 L1271.5 900.6 L1273.3 899.2 L1275.1 903.7 L1276.9 903.4 L1278.7 902.0 L1280.5 903.2 L1282.4 908.0 L1284.2 905.8 L1286.0 907.3 L1287.8 908.2 L1289.6 908.0 L1291.5 912.0 L1293.3 915.3 L1295.1 911.7 L1296.9 916.8 L1298.7 918.6 L1300.6 915.7 L1302.4 914.6 L1304.2 918.4 L1306.0 921.0 L1307.8 923.3 L1309.6 922.5 L1311.5 927.6 L1313.3 931.7 L1315.1 924.8 L1316.9 926.0 L1318.7 930.2 L1320.6 932.8 L1322.4 926.7 L1324.2 930.3 L1326.0 928.7 L1327.8 934.4 L1329.6 933.3 L1331.5 932.6 L1333.3 936.1 L1335.1 938.8 L1336.9 930.5 L1338.7 934.0 L1340.6 935.9 L1342.4 938.7 L1344.2 939.3 L1346.0 939.1 L1347.8 944.9 L1349.6 941.5 L1351.5 940.7 L1353.3 939.8 L1355.1 938.9 L1356.9 943.5 L1358.7 945.6 L1360.6 941.7 L1362.4 948.2 L1364.2 945.2 L1366.0 949.8 L1367.8 947.9 L1369.6 953.2 L1371.5 951.4 L1373.3 949.3 L1375.1 950.6 L1376.9 950.1 L1378.7 951.9 L1380.6 952.5 L1382.4 951.4 L1384.2 957.4 L1386.0 957.5 L1387.8 957.3 L1389.7 957.0 L1391.5 953.6 L1393.3 951.9 L1395.1 960.4 L1396.9 959.2 L1398.7 959.9 L1400.6 961.3 L1402.4 962.3 L1404.2 958.7 L1406.0 963.3 L1407.8 961.8 L1409.7 965.0 L1411.5 963.4 L1413.3 963.7 L1415.1 964.3 L1416.9 960.5 L1418.7 962.4 L1420.6 966.5 L1422.4 960.1 L1424.2 962.0 L1426.0 968.2 L1427.8 965.0 L1429.7 963.3 L1431.5 967.7 L1433.3 969.7 L1435.1 968.7 L1436.9 970.0 L1438.7 965.2 L1440.6 974.7 L1442.4 968.4 L1444.2 968.4 L1446.0 973.0 L1447.8 973.2 L1449.7 971.6 L1451.5 973.3 L1453.3 974.5 L1455.1 975.5 L1456.9 972.2 L1458.7 975.2 L1460.6 977.6 L1462.4 979.1" stroke="#009900"/>
<path d="M254.9 -13.4 L257.0 -13.1 L258.8 -18.6 L260.2 -17.0 L261.7 3.5 L264.2 17.5 L265.0 41.8 L268.0 48.5 L269.5 60.8 L272.6 75.0 L272.9 97.1 L273.8 105.7 L277.0 120.1 L278.1 135.2 L281.8 148.5 L281.1 155.1 L283.2 174.6 L285.5 181.3 L287.3 192.7 L289.5 201.4 L293.7 215.4 L292.9 219.1 L296.3 225.7 L296.1 240.0 L297.9 251.7 L300.2 254.5 L303.8 263.2 L304.3 276.4 L306.2 275.1 L307.0 294.0 L309.3 300.4 L313.7 305.4 L311.8 315.6 L312.7 323.5 L316.5 338.8 L317.4 339.8 L318.9 352.2 L321.4 362.1 L324.2 356.1 L325.7 369.6 L327.3 373.8 L330.2 377.7 L332.3 384.4 L333.2 388.9 L335.4 390.6 L335.2 395.1 L338.8 404.0 L340.1 405.4 L342.0 407.1 L345.4 425.8 L345.9 425.6 L348.4 427.4 L349.6 429.6 L351.8 428.1 L351.8 437.0 L354.9 444.7 L357.0 445.6 L359.4 450.2 L360.3 457.9 L361.2 465.0 L364.3 465.0 L365.0 468.2 L366.8 470.8 L367.3 480.1 L371.3 482.1 L373.8 486.4 L375.7 491.7 L375.8 496.1 L379.0 500.5 L380.5 509.7 L382.3 509.1 L384.3 511.1 L386.1 512.1 L388.5 517.9 L388.6 517.3 L391.6 526.5 L393.2 523.0 L394.2 527.8 L396.9 529.2 L398.5 536.0 L400.4 534.4 L402.3 536.8 L404.1 533.9 L406.3 536.5 L407.6 538.1 L410.0 538.9 L411.7 541.3 L413.3 546.4 L415.0 546.2 L417.2 546.7 L418.6 544.3 L420.5 545.5 L422.3 544.1 L424.3 552.3 L425.9 549.5 L427.8 552.3 L430.1 550.1 L431.4 549.3 L433.2 550.3 L435.0 545.2 L436.8 554.8 L438.7 552.9 L440.5 554.7 L442.3 556.5 L444.1 555.0 L445.9 553.0 L447.7 554.5 L449.6 552.9 L451.4 553.4 L453.2 554.9 L455.0 557.2 L456.8 553.7 L458.7 549.6 L460.5 549.2 L462.3 553.5 L464.1 551.3 L465.9 556.0 L467.7 557.7 L469.6 553.0 L471.4 557.7 L473.2 557.0 L475.0 550.1 L476.8 551.2 L478.7 551.6 L480.5 547.4 L482.3 547.2 L484.1 548.5 L485.9 546.6 L487.7 543.1 L489.6 547.9 L491.4 544.3 L493.2 545.6 L495.0 547.8 L496.8 545.9 L498.7 540.6 L500.5 547.8 L502.3 544.1 L504.1 544.9 L505.9 546.5 L507.8 548.5 L509.6 547.9 L511.4 544.2 L513.2 546.3 L515.0 540.7 L516.8 546.4 L518.7 545.1 L520.5 543.9 L522.3 542.2 L524.1 543.6 L525.9 544.2 L527.8 547.3 L529.6 545.8 L531.4 544.4 L533.2 546.2 L535.0 550.0 L536.8 546.2 L538.7 544.0 L540.5 552.5 L542.3 547.0 L544.1 548.5 L545.9 549.4 L547.8 548.9 L549.6 549.0 L551.4 550.5 L553.2 548.8 L555.0 549.9 L556.8 547.2 L558.7 554.0 L560.5 546.8 L562.3 546.1 L564.1 546.5 L565.9 549.6 L567.8 548.5 L569.6 550.0 L571.4 547.2 L573.2 550.1 L575.0 547.8 L576.8 546.6 L578.7 549.9 L580.5 548.6 L582.3 548.1 L584.1 548.7 L585.9 549.4 L587.8 551.2 L589.6 552.6 L591.4 554.2 L593.2 552.5 L595.0 549.9 L596.8 548.7 L598.7 547.8 L600.5 545.8 L602.3 553.5 L604.1 556.3 L605.9 550.6 L607.8 552.0 L609.6 545.8 L611.4 551.1 L613.2 549.6 L615.0 550.0 L616.9 549.4 L618.7 546.9 L620.5 548.3 L622.3 548.3 L624.1 555.3 L625.9 552.6 L627.8 546.7 L629.6 547.3 L631.4 546.3 L633.2 554.7 L635.0 543.0 L636.9 550.1 L638.7 551.4 L640.5 552.5 L642.3 550.9 L644.1 548.3 L645.9 544.4 L647.8 545.7 L649.6 546.8 L651.4 547.2 L653.2 545.4 L655.0 544.9 L656.9 549.2 L658.7 547.3 L660.5 547.9 L662.3 547.2 L664.1 547.2 L665.9 544.9 L667.8 554.4 L669.6 546.7 L671.4 546.2 L673.2 552.8 L675.0 547.1 L676.9 549.8 L678.7 544.6 L680.5 543.8 L682.3 531.9 L684.1 534.0 L685.9 532.8 L687.8 528.2 L689.6 529.1 L691.4 532.8 L693.2 533.5 L695.0 526.9 L696.9 526.8 L698.7 527.1 L700.5 532.1 L702.3 524.2 L704.1 523.2 L706.0 524.6 L707.8 523.3 L709.6 521.3 L711.4 520.3 L713.2 523.3 L715.0 514.9 L716.9 517.5 L718.7 510.4 L720.5 510.1 L722.3 502.2 L724.1 503.0 L726.0 497.2 L727.8 494.6 L729.6 497.8 L731.4 493.8 L733.2 489.1 L735.0 484.5 L736.9 489.0 L738.7 484.8 L740.5 485.5 L742.3 482.3 L744.1 481.5 L746.0 473.3 L747.8 468.7 L749.6 476.2 L751.4 469.4 L753.2 472.0 L755.0 469.8 L756.9 467.3 L758.7 463.7 L760.5 461.3 L762.3 462.3 L764.1 460.7 L766.0 459.3 L767.8 460.9 L769.6 454.3 L771.4 455.1 L773.2 453.7 L775.0 445.5 L776.9 442.6 L778.7 437.9 L780.5 434.2 L782.3 429.4 L784.1 432.7 L786.0 431.1 L787.8 426.7 L789.6 421.8 L791.4 418.7 L793.2 417.7 L795.0 413.2 L796.9 411.8 L798.7 409.1 L800.5 410.3 L802.3 407.2 L804.1 404.0 L806.0 399.7 L807.8 398.9 L809.6 400.6 L811.4 400.0 L813.2 393.9 L815.1 397.0 L816.9 389.3 L818.7 387.7 L820.5 387.0 L822.3 381.9 L824.1 380.3 L826.0 377.6 L827.8 373.9 L829.6 370.3 L831.4 369.6 L833.2 367.7 L835.1 367.8 L836.9 361.1 L838.7 357.1 L840.5 357.2 L842.3 352.4 L844.1 353.1 L846.0 350.3 L847.8 349.7 L849.6 345.8 L851.4 344.4 L853.2 341.6 L855.1 340.0 L856.9 331.0 L858.7 331.5 L860.5 328.6 L862.3 323.3 L864.1 319.7 L866.0 318.3 L867.8 312.9 L869.6 310.3 L871.4 310.8 L873.2 307.1 L875.1 304.4 L876.9 300.1 L878.7 297.1 L880.5 292.1 L882.3 289.3 L884.1 282.7 L886.0 275.7 L887.8 272.9 L889.6 270.2 L891.4 263.7 L893.2 263.9 L895.1 258.9 L896.9 257.0 L898.7 254.6 L900.5 249.9 L902.3 248.7 L904.2 247.1 L906.0 241.5 L907.8 238.4 L909.6 234.8 L911.4 234.0 L913.2 230.5 L915.1 224.7 L916.9 221.6 L918.7 222.5 L920.5 217.7 L922.3 218.6 L924.2 215.2 L926.0 212.6 L927.8 210.0 L929.6 209.2 L931.4 207.6 L933.2 210.1 L935.1 212.7 L936.9 208.0 L938.7 206.7 L940.5 206.0 L942.3 206.8 L944.2 205.6 L946.0 207.7 L947.8 206.9 L949.6 204.2 L951.4 203.6 L953.2 203.6 L955.1 205.4 L956.9 207.1 L958.7 201.6 L960.5 203.2 L962.3 202.2 L964.2 205.1 L966.0 205.7 L967.8 203.9 L969.6 205.7 L971.4 213.0 L973.2 214.9 L975.1 213.2 L976.9 217.4 L978.7 217.3 L980.5 221.3 L982.3 221.4 L984.2 226.7 L986.0 229.6 L987.8 233.5 L989.6 231.6 L991.4 239.2 L993.3 238.0 L995.1 241.5 L996.9 248.9 L998.7 250.6 L1000.5 254.5 L1002.3 259.4 L1004.2 263.1 L1006.0 265.1 L1007.8 266.1 L1009.6 270.2 L1011.4 276.7 L1013.3 282.1 L1015.1 290.5 L1016.9 294.1 L1018.7 301.0 L1020.5 306.6 L1022.3 317.1 L1024.2 322.5 L1026.0 332.8 L1027.8 338.2 L1029.6 345.0 L1031.4 352.3 L1033.3 358.5 L1035.1 364.0 L1036.9 372.6 L1038.7 379.5 L1040.5 384.4 L1042.3 391.7 L1044.2 398.1 L1046.0 401.4 L1047.8 410.3 L1049.6 418.2 L1051.4 421.5 L1053.3 431.3 L1055.1 437.3 L1056.9 438.9 L1058.7 448.9 L1060.5 456.0 L1062.3 462.2 L1064.2 468.6 L1066.0 475.7 L1067.8 478.3 L1069.6 487.3 L1071.4 492.6 L1073.3 496.4 L1075.1 508.1 L1076.9 512.3 L1078.7 519.6 L1080.5 528.3 L1082.3 535.7 L1084.2 541.1 L1086.0 545.8 L1087.8 553.6 L1089.6 562.3 L1091.4 568.2 L1093.3 577.5 L1095.1 583.4 L1096.9 587.5 L1098.7 598.8 L1100.5 599.9 L1102.4 607.2 L1104.2 613.8 L1106.0 618.1 L1107.8 626.8 L1109.6 632.8 L1111.4 641.3 L1113.3 646.0 L1115.1 647.4 L1116.9 654.6 L1118.7 660.2 L1120.5 662.9 L1122.4 666.3 L1124.2 674.4 L1126.0 676.2 L1127.8 683.2 L1129.6 686.7 L1131.4 694.1 L1133.3 696.2 L1135.1 700.1 L1136.9 706.0 L1138.7 708.4 L1140.5 711.8 L1142.4 717.8 L1144.2 721.3 L1146.0 723.9 L1147.8 727.8 L1149.6 735.3 L1151.4 740.4 L1153.3 742.1 L1155.1 744.8 L1156.9 746.9 L1158.7 754.0 L1160.5 757.3 L1162.4 760.9 L1164.2 763.5 L1166.0 766.7 L1167.8 767.8 L1169.6 776.1 L1171.4 777.6 L1173.3 781.7 L1175.1 787.0 L1176.9 782.9 L1178.7 793.0 L1180.5 795.3 L1182.4 798.4 L1184.2 802.5 L1186.0 802.9 L1187.8 804.1 L1189.6 809.3 L1191.5 813.4 L1193.3 813.3 L1195.1 819.8 L1196.9 822.2 L1198.7 822.5 L1200.5 826.8 L1202.4 829.3 L1204.2 832.1 L1206.0 833.9 L1207.8 838.9 L1209.6 839.4 L1211.5 844.9 L1213.3 843.7 L1215.1 847.3 L1216.9 849.4 L1218.7 846.9 L1220.5 851.8 L1222.4 854.6 L1224.2 856.6 L1226.0 857.5 L1227.8 861.5 L1229.6 861.9 L1231.5 862.2 L1233.3 866.7 L1235.1 865.0 L1236.9 869.0 L1238.7 869.1 L1240.5 869.3 L1242.4 871.1 L1244.2 877.3 L1246.0 877.3 L1247.8 876.9 L1249.6 880.6 L1251.5 879.7 L1253.3 880.7 L1255.1 881.4 L1256.9 885.3 L1258.7 888.3 L1260.5 893.1 L1262.4 890.2 L1264.2 891.3 L1266.0 894.4 L1267.8 896.7 L1269.6 895.2 L1271.5 895.8 L1273.3 900.4 L1275.1 897.9 L1276.9 903.3 L1278.7 902.5 L1280.5 904.8 L1282.4 905.8 L1284.2 904.0 L1286.0 913.6 L1287.8 907.6 L1289.6 908.8 L1291.5 912.2 L1293.3 907.6 L1295.1 912.7 L1296.9 914.5 L1298.7 916.5 L1300.6 916.8 L1302.4 917.6 L1304.2 919.3 L1306.0 921.7 L1307.8 926.6 L1309.6 925.4 L1311.5 923.9 L1313.3 926.5 L1315.1 928.8 L1316.9 930.8 L1318.7 925.2 L1320.6 929.2 L1322.4 926.0 L1324.2 930.6 L1326.0 936.2 L1327.8 935.5 L1329.6 932.7 L1331.5 932.2 L1333.3 935.9 L1335.1 936.7 L1336.9 938.2 L1338.7 939.4 L1340.6 938.3 L1342.4 935.2 L1344.2 937.3 L1346.0 938.1 L1347.8 938.9 L1349.6 944.6 L1351.5 940.2 L1353.3 943.0 L1355.1 944.4 L1356.9 944.7 L1358.7 944.8 L1360.6 942.7 L1362.4 947.1 L1364.2 950.4 L1366.0 946.6 L1367.8 951.8 L1369.6 948.6 L1371.5 953.3 L1373.3 948.7 L1375.1 955.6 L1376.9 956.6 L1378.7 957.5 L1380.6 959.8 L1382.4 954.7 L1384.2 948.2 L1386.0 952.3 L1387.8 954.0 L1389.7 958.2 L1391.5 959.2 L1393.3 956.0 L1395.1 961.1 L1396.9 957.3 L1398.7 957.7 L1400.6 960.2 L1402.4 957.9 L1404.2 962.3 L1406.0 963.4 L1407.8 964.7 L1409.7 963.9 L1411.5 963.2 L1413.3 966.2 L1415.1 964.0 L1416.9 963.1 L1418.7 961.0 L1420.6 963.5 L1422.4 964.8 L1424.2 966.9 L1426.0 970.6 L1427.8 970.8 L1429.7 966.7 L1431.5 967.3 L1433.3 967.0 L1435.1 964.9 L1436.9 972.1 L1438.7 965.8 L1440.6 971.1 L1442.4 969.6 L1444.2 970.2 L1446.0 974.6 L1447.8 970.5 L1449.7 973.4 L1451.5 971.3 L1453.3 973.4 L1455.1 974.7 L1456.9 974.7 L1458.7 972.2 L1460.6 976.3 L1462.4 979.1" stroke="#00cccc"/>
<path d="M256.1 -16.0 L255.7 -10.3 L258.4 -8.2 L260.8 -17.1 L262.9 -32.8 L262.8 3.3 L265.3 32.6 L265.6 70.6 L270.4 105.9 L270.9 125.3 L272.7 144.9 L274.4 144.9 L278.3 168.8 L278.5 172.9 L279.5 180.6 L283.3 194.1 L284.7 197.6 L285.8 208.8 L286.8 213.3 L289.5 228.5 L291.8 234.2 L293.0 247.2 L294.9 260.4 L297.7 268.3 L297.8 271.9 L301.2 286.5 L301.9 294.4 L302.9 302.3 L306.7 311.7 L308.5 320.2 L308.8 323.5 L310.6 339.9 L314.3 344.8 L315.2 350.0 L315.1 358.6 L317.8 362.0 L320.9 374.2 L322.3 374.9 L325.1 373.9 L325.6 385.6 L328.3 393.3 L329.6 397.4 L331.5 397.3 L333.4 399.5 L335.1 417.1 L336.6 408.8 L339.9 419.4 L340.3 422.1 L341.3 424.2 L345.4 432.1 L345.7 433.3 L349.1 436.4 L347.5 443.5 L351.8 449.6 L353.2 460.7 L354.7 456.0 L358.0 465.7 L358.2 467.7 L360.5 471.3 L362.0 470.6 L364.9 479.4 L365.1 480.2 L368.0 488.5 L369.6 491.5 L369.4 492.0 L376.3 502.9 L375.2 504.6 L377.1 509.4 L379.0 511.4 L380.2 513.3 L381.9 521.0 L383.9 522.4 L385.7 522.2 L387.7 526.5 L389.8 532.1 L391.4 530.7 L393.3 529.8 L395.1 535.5 L396.9 535.4 L398.7 538.3 L400.5 535.8 L402.8 541.8 L403.6 541.8 L405.9 545.7 L407.9 541.1 L409.5 543.7 L410.6 552.4 L413.2 553.7 L415.0 552.5 L416.9 552.7 L419.1 546.1 L421.2 554.9 L422.1 551.8 L424.1 550.1 L426.8 553.2 L427.6 554.6 L430.0 558.6 L431.4 560.0 L433.2 565.0 L435.0 563.4 L436.8 562.2 L438.7 563.7 L440.5 560.7 L442.3 568.6 L444.1 563.0 L445.9 564.8 L447.7 566.2 L449.6 565.9 L451.4 564.3 L453.2 567.5 L455.0 568.6 L456.8 559.8 L458.7 563.6 L460.5 565.7 L462.3 564.9 L464.1 566.0 L465.9 569.1 L467.7 566.3 L469.6 567.2 L471.4 569.7 L473.2 567.9 L475.0 567.1 L476.8 571.4 L478.7 564.5 L480.5 556.1 L482.3 560.0 L484.1 549.4 L485.9 553.6 L487.7 545.9 L489.6 555.9 L491.4 547.5 L493.2 555.2 L495.0 559.5 L496.8 554.5 L498.7 556.0 L500.5 553.9 L502.3 554.8 L504.1 558.0 L505.9 549.8 L507.8 552.3 L509.6 560.3 L511.4 554.2 L513.2 558.7 L515.0 556.5 L516.8 552.3 L518.7 553.5 L520.5 559.7 L522.3 553.6 L524.1 555.1 L525.9 555.6 L527.8 551.8 L529.6 552.7 L531.4 554.4 L533.2 552.9 L535.0 552.9 L536.8 554.5 L538.7 556.5 L540.5 551.9 L542.3 552.6 L544.1 559.7 L545.9 554.0 L547.8 547.4 L549.6 552.0 L551.4 546.2 L553.2 553.5 L555.0 547.8 L556.8 548.5 L558.7 556.3 L560.5 549.3 L562.3 550.9 L564.1 550.9 L565.9 553.6 L567.8 552.6 L569.6 553.9 L571.4 547.0 L573.2 549.6 L575.0 545.9 L576.8 548.5 L578.7 548.5 L580.5 553.2 L582.3 548.7 L584.1 546.6 L585.9 547.5 L587.8 545.0 L589.6 546.0 L591.4 545.5 L593.2 548.2 L595.0 546.2 L596.8 547.4 L598.7 549.2 L600.5 542.7 L602.3 546.0 L604.1 545.0 L605.9 553.4 L607.8 553.8 L609.6 551.6 L611.4 551.2 L613.2 549.3 L615.0 553.8 L616.9 553.6 L618.7 552.2 L620.5 553.3 L622.3 545.0 L624.1 548.3 L625.9 551.9 L627.8 554.0 L629.6 547.0 L631.4 549.1 L633.2 549.4 L635.0 545.2 L636.9 550.1 L638.7 545.6 L640.5 542.4 L642.3 549.3 L644.1 550.3 L645.9 546.5 L647.8 548.3 L649.6 543.3 L651.4 543.3 L653.2 544.2 L655.0 545.2 L656.9 544.7 L658.7 538.8 L660.5 546.5 L662.3 540.2 L664.1 543.1 L665.9 548.6 L667.8 544.1 L669.6 539.3 L671.4 541.1 L673.2 538.8 L675.0 537.7 L676.9 538.0 L678.7 537.4 L680.5 535.9 L682.3 529.5 L684.1 529.8 L685.9 519.9 L687.8 519.4 L689.6 516.0 L691.4 523.7 L693.2 521.0 L695.0 523.2 L696.9 518.6 L698.7 521.8 L700.5 516.3 L702.3 515.0 L704.1 512.6 L706.0 512.8 L707.8 512.0 L709.6 509.2 L711.4 504.3 L713.2 505.4 L715.0 502.4 L716.9 501.7 L718.7 496.7 L720.5 497.7 L722.3 494.1 L724.1 490.6 L726.0 483.8 L727.8 490.8 L729.6 486.8 L731.4 483.1 L733.2 483.4 L735.0 479.7 L736.9 480.6 L738.7 476.8 L740.5 482.3 L742.3 474.6 L744.1 475.1 L746.0 471.2 L747.8 471.0 L749.6 471.9 L751.4 466.9 L753.2 461.2 L755.0 461.5 L756.9 458.1 L758.7 455.8 L760.5 454.5 L762.3 452.4 L764.1 449.6 L766.0 446.8 L767.8 445.9 L769.6 446.4 L771.4 442.8 L773.2 441.3 L775.0 436.9 L776.9 435.7 L778.7 430.2 L780.5 429.0 L782.3 423.9 L784.1 419.5 L786.0 417.7 L787.8 412.9 L789.6 411.4 L791.4 407.7 L793.2 408.0 L795.0 403.5 L796.9 400.6 L798.7 399.6 L800.5 399.4 L802.3 397.6 L804.1 397.9 L806.0 394.8 L807.8 395.1 L809.6 396.3 L811.4 391.5 L813.2 390.0 L815.1 389.9 L816.9 384.3 L818.7 379.9 L820.5 378.4 L822.3 372.6 L824.1 368.2 L826.0 367.9 L827.8 362.4 L829.6 359.3 L831.4 358.7 L833.2 357.7 L835.1 356.2 L836.9 351.0 L838.7 350.5 L840.5 348.1 L842.3 346.4 L844.1 342.9 L846.0 339.1 L847.8 338.8 L849.6 332.0 L851.4 331.6 L853.2 327.1 L855.1 327.4 L856.9 322.6 L858.7 320.1 L860.5 321.0 L862.3 312.8 L864.1 309.3 L866.0 305.8 L867.8 302.2 L869.6 298.5 L871.4 296.6 L873.2 291.7 L875.1 287.3 L876.9 283.1 L878.7 277.8 L880.5 273.7 L882.3 269.4 L884.1 267.7 L886.0 263.2 L887.8 260.2 L889.6 256.9 L891.4 255.8 L893.2 250.6 L895.1 247.1 L896.9 243.5 L898.7 243.5 L900.5 237.2 L902.3 234.1 L904.2 232.1 L906.0 228.3 L907.8 225.8 L909.6 224.0 L911.4 220.4 L913.2 212.8 L915.1 211.3 L916.9 206.6 L918.7 202.5 L920.5 202.7 L922.3 198.5 L924.2 198.1 L926.0 193.9 L927.8 198.0 L929.6 195.3 L931.4 193.7 L933.2 193.2 L935.1 189.2 L936.9 189.6 L938.7 189.1 L940.5 186.9 L942.3 183.4 L944.2 184.4 L946.0 183.7 L947.8 180.2 L949.6 182.9 L951.4 180.4 L953.2 180.6 L955.1 180.3 L956.9 180.3 L958.7 183.0 L960.5 180.4 L962.3 183.6 L964.2 183.8 L966.0 181.2 L967.8 184.0 L969.6 183.6 L971.4 188.4 L973.2 187.3 L975.1 191.8 L976.9 196.8 L978.7 198.3 L980.5 196.9 L982.3 199.2 L984.2 204.2 L986.0 209.0 L987.8 208.3 L989.6 216.1 L991.4 217.0 L993.3 221.2 L995.1 225.5 L996.9 227.7 L998.7 230.6 L1000.5 241.6 L1002.3 240.3 L1004.2 247.5 L1006.0 253.2 L1007.8 255.2 L1009.6 260.7 L1011.4 266.2 L1013.3 267.9 L1015.1 275.4 L1016.9 277.6 L1018.7 281.6 L1020.5 288.0 L1022.3 293.2 L1024.2 301.5 L1026.0 306.2 L1027.8 318.3 L1029.6 324.9 L1031.4 331.1 L1033.3 338.9 L1035.1 347.2 L1036.9 355.6 L1038.7 361.7 L1040.5 372.6 L1042.3 376.3 L1044.2 385.6 L1046.0 392.3 L1047.8 397.8 L1049.6 405.2 L1051.4 408.4 L1053.3 417.4 L1055.1 422.8 L1056.9 431.3 L1058.7 436.1 L1060.5 441.6 L1062.3 451.0 L1064.2 452.1 L1066.0 460.7 L1067.8 469.5 L1069.6 473.4 L1071.4 482.1 L1073.3 482.0 L1075.1 492.6 L1076.9 499.6 L1078.7 503.7 L1080.5 514.7 L1082.3 517.8 L1084.2 526.6 L1086.0 533.8 L1087.8 540.9 L1089.6 546.2 L1091.4 553.3 L1093.3 561.0 L1095.1 565.9 L1096.9 577.2 L1098.7 581.8 L1100.5 585.9 L1102.4 596.1 L1104.2 603.8 L1106.0 607.8 L1107.8 613.4 L1109.6 617.3 L1111.4 624.8 L1113.3 633.8 L1115.1 638.2 L1116.9 640.5 L1118.7 648.3 L1120.5 650.1 L1122.4 658.6 L1124.2 667.3 L1126.0 667.8 L1127.8 675.1 L1129.6 677.1 L1131.4 682.4 L1133.3 688.6 L1135.1 694.5 L1136.9 695.0 L1138.7 701.9 L1140.5 704.5 L1142.4 703.6 L1144.2 715.0 L1146.0 719.3 L1147.8 716.6 L1149.6 725.0 L1151.4 731.1 L1153.3 735.2 L1155.1 735.1 L1156.9 740.6 L1158.7 745.1 L1160.5 749.6 L1162.4 753.7 L1164.2 757.2 L1166.0 762.3 L1167.8 762.8 L1169.6 769.4 L1171.4 772.6 L1173.3 774.6 L1175.1 779.1 L1176.9 778.1 L1178.7 784.4 L1180.5 791.8 L1182.4 793.0 L1184.2 795.4 L1186.0 799.7 L1187.8 801.6 L1189.6 803.2 L1191.5 809.3 L1193.3 813.8 L1195.1 813.6 L1196.9 819.4 L1198.7 820.5 L1200.5 822.5 L1202.4 824.2 L1204.2 831.7 L1206.0 834.1 L1207.8 831.7 L1209.6 835.6 L1211.5 836.9 L1213.3 842.1 L1215.1 841.9 L1216.9 845.6 L1218.7 846.3 L1220.5 846.8 L1222.4 853.5 L1224.2 853.0 L1226.0 853.5 L1227.8 855.2 L1229.6 858.2 L1231.5 861.9 L1233.3 861.4 L1235.1 866.5 L1236.9 868.5 L1238.7 867.8 L1240.5 870.0 L1242.4 869.9 L1244.2 873.2 L1246.0 871.6 L1247.8 873.8 L1249.6 881.0 L1251.5 879.3 L1253.3 881.2 L1255.1 880.8 L1256.9 884.4 L1258.7 884.7 L1260.5 882.5 L1262.4 887.9 L1264.2 888.5 L1266.0 891.1 L1267.8 894.7 L1269.6 895.3 L1271.5 893.1 L1273.3 895.1 L1275.1 897.8 L1276.9 900.3 L1278.7 901.4 L1280.5 899.9 L1282.4 903.2 L1284.2 904.8 L1286.0 902.9 L1287.8 903.8 L1289.6 906.0 L1291.5 907.3 L1293.3 909.3 L1295.1 910.4 L1296.9 909.1 L1298.7 914.2 L1300.6 916.2 L1302.4 917.4 L1304.2 914.6 L1306.0 922.5 L1307.8 923.6 L1309.6 920.7 L1311.5 928.2 L1313.3 925.6 L1315.1 922.8 L1316.9 929.3 L1318.7 926.1 L1320.6 926.8 L1322.4 933.6 L1324.2 933.5 L1326.0 930.4 L1327.8 931.0 L1329.6 931.9 L1331.5 933.6 L1333.3 936.4 L1335.1 929.8 L1336.9 936.9 L1338.7 936.9 L1340.6 935.8 L1342.4 938.1 L1344.2 938.9 L1346.0 934.3 L1347.8 937.1 L1349.6 939.8 L1351.5 940.6 L1353.3 940.2 L1355.1 942.9 L1356.9 947.1 L1358.7 942.4 L1360.6 943.5 L1362.4 947.0 L1364.2 946.1 L1366.0 946.2 L1367.8 947.8 L1369.6 949.2 L1371.5 947.8 L1373.3 948.6 L1375.1 951.0 L1376.9 951.9 L1378.7 954.0 L1380.6 950.3 L1382.4 955.2 L1384.2 952.3 L1386.0 953.7 L1387.8 954.2 L1389.7 952.2 L1391.5 956.2 L1393.3 960.8 L1395.1 958.3 L1396.9 959.5 L1398.7 955.7 L1400.6 956.6 L1402.4 959.4 L1404.2 957.6 L1406.0 958.9 L1407.8 960.6 L1409.7 961.2 L1411.5 962.4 L1413.3 962.0 L1415.1 962.0 L1416.9 960.0 L1418.7 964.1 L1420.6 963.0 L1422.4 965.5 L1424.2 965.0 L1426.0 969.9 L1427.8 964.5 L1429.7 968.9 L1431.5 963.3 L1433.3 970.3 L1435.1 968.5 L1436.9 971.3 L1438.7 963.5 L1440.6 971.5 L1442.4 969.0 L1444.2 968.7 L1446.0 967.4 L1447.8 969.4 L1449.7 973.4 L1451.5 975.7 L1453.3 973.4 L1455.1 972.4 L1456.9 974.7 L1458.7 970.7 L1460.6 975.4 L1462.4 976.0" stroke="#0000ff"/>
<path d="M253.5 -12.2 L256.5 -46.4 L259.6 -17.5 L261.5 8.1 L262.1 42.2 L263.7 62.8 L267.1 105.9 L267.5 124.2 L268.1 137.8 L270.8 147.5 L273.8 158.3 L275.3 172.8 L278.4 186.6 L278.4 193.3 L282.0 206.8 L281.4 213.5 L284.3 222.0 L285.7 231.0 L288.7 234.7 L287.7 247.9 L292.0 254.6 L293.0 269.9 L295.5 273.7 L299.0 285.2 L297.1 296.3 L301.8 306.6 L302.1 309.2 L303.2 320.8 L306.2 331.3 L306.8 342.7 L309.1 341.6 L312.6 349.2 L313.8 368.7 L315.1 364.7 L317.4 373.6 L317.4 369.8 L320.3 381.6 L321.4 388.9 L324.4 390.8 L326.3 396.8 L326.5 402.7 L330.7 408.9 L332.2 414.1 L332.9 413.2 L335.7 419.1 L337.2 426.0 L338.0 432.0 L340.5 432.6 L342.0 434.8 L343.1 443.8 L346.5 449.2 L348.9 453.1 L347.9 459.6 L351.1 463.3 L353.0 461.5 L353.4 474.1 L357.2 474.3 L358.3 476.7 L361.6 481.3 L361.9 486.3 L364.0 487.6 L366.1 491.6 L369.3 497.8 L370.0 504.8 L369.9 503.1 L373.0 515.9 L375.0 514.8 L377.1 523.2 L380.9 527.4 L380.7 532.6 L382.1 530.1 L383.8 535.3 L385.9 538.9 L387.6 536.7 L389.4 540.2 L391.4 542.1 L393.9 539.8 L394.2 553.6 L397.1 552.3 L398.6 552.4 L399.5 557.5 L402.3 558.6 L404.1 558.4 L405.6 559.5 L407.8 562.0 L409.4 558.1 L411.6 558.4 L413.3 565.2 L415.0 563.8 L416.6 561.9 L418.4 567.3 L419.2 558.9 L422.9 562.0 L424.6 569.0 L425.9 568.2 L427.8 570.2 L429.5 567.6 L431.4 570.0 L433.2 569.5 L435.0 570.7 L436.8 575.7 L438.7 576.7 L440.5 576.8 L442.3 580.9 L444.1 570.0 L445.9 574.0 L447.7 572.0 L449.6 579.2 L451.4 572.9 L453.2 574.5 L455.0 573.7 L456.8 570.5 L458.7 568.0 L460.5 571.9 L462.3 571.7 L464.1 566.4 L465.9 572.0 L467.7 565.2 L469.6 567.3 L471.4 563.7 L473.2 563.7 L475.0 555.2 L476.8 562.0 L478.7 557.5 L480.5 557.3 L482.3 559.1 L484.1 554.4 L485.9 551.0 L487.7 550.2 L489.6 550.2 L491.4 549.7 L493.2 553.4 L495.0 554.7 L496.8 545.2 L498.7 548.1 L500.5 551.2 L502.3 551.1 L504.1 550.3 L505.9 548.5 L507.8 550.5 L509.6 552.6 L511.4 548.6 L513.2 554.7 L515.0 547.4 L516.8 551.8 L518.7 551.6 L520.5 555.3 L522.3 555.9 L524.1 553.4 L525.9 553.7 L527.8 554.9 L529.6 557.9 L531.4 551.7 L533.2 555.6 L535.0 553.8 L536.8 550.8 L538.7 553.2 L540.5 549.6 L542.3 554.0 L544.1 551.9 L545.9 556.4 L547.8 549.3 L549.6 554.0 L551.4 549.9 L553.2 549.6 L555.0 548.2 L556.8 551.4 L558.7 548.1 L560.5 550.7 L562.3 547.8 L564.1 548.9 L565.9 550.0 L567.8 542.6 L569.6 544.0 L571.4 544.9 L573.2 544.8 L575.0 542.8 L576.8 545.4 L578.7 547.0 L580.5 543.6 L582.3 543.4 L584.1 539.3 L585.9 545.9 L587.8 546.6 L589.6 548.8 L591.4 541.8 L593.2 546.9 L595.0 539.9 L596.8 541.8 L598.7 539.9 L600.5 534.8 L602.3 539.0 L604.1 540.5 L605.9 539.3 L607.8 538.6 L609.6 539.8 L611.4 542.1 L613.2 542.6 L615.0 532.6 L616.9 538.7 L618.7 537.5 L620.5 533.1 L622.3 539.9 L624.1 542.3 L625.9 536.1 L627.8 533.0 L629.6 534.8 L631.4 538.8 L633.2 544.3 L635.0 536.0 L636.9 535.4 L638.7 533.2 L640.5 534.5 L642.3 529.6 L644.1 533.4 L645.9 535.1 L647.8 531.6 L649.6 528.4 L651.4 530.6 L653.2 531.5 L655.0 532.5 L656.9 523.9 L658.7 528.3 L660.5 529.9 L662.3 527.1 L664.1 524.9 L665.9 524.2 L667.8 523.7 L669.6 530.5 L671.4 525.2 L673.2 524.3 L675.0 524.6 L676.9 527.7 L678.7 522.0 L680.5 522.1 L682.3 514.0 L684.1 508.1 L685.9 509.4 L687.8 508.1 L689.6 512.7 L691.4 516.4 L693.2 513.8 L695.0 512.8 L696.9 513.8 L698.7 520.2 L700.5 513.2 L702.3 507.1 L704.1 505.4 L706.0 496.7 L707.8 498.5 L709.6 488.6 L711.4 491.0 L713.2 489.6 L715.0 487.1 L716.9 485.4 L718.7 483.3 L720.5 478.7 L722.3 476.5 L724.1 476.9 L726.0 477.0 L727.8 473.3 L729.6 472.0 L731.4 468.1 L733.2 471.6 L735.0 468.9 L736.9 466.4 L738.7 465.8 L740.5 469.0 L742.3 462.0 L744.1 460.9 L746.0 461.5 L747.8 453.3 L749.6 454.9 L751.4 451.6 L753.2 445.9 L755.0 444.1 L756.9 441.1 L758.7 437.7 L760.5 436.8 L762.3 436.5 L764.1 435.1 L766.0 431.3 L767.8 429.8 L769.6 424.8 L771.4 429.9 L773.2 426.3 L775.0 424.2 L776.9 424.5 L778.7 417.9 L780.5 415.0 L782.3 413.3 L784.1 404.6 L786.0 408.3 L787.8 403.8 L789.6 397.6 L791.4 395.2 L793.2 396.1 L795.0 390.5 L796.9 391.4 L798.7 389.0 L800.5 387.7 L802.3 385.4 L804.1 383.4 L806.0 380.9 L807.8 380.2 L809.6 380.5 L811.4 372.5 L813.2 375.2 L815.1 372.6 L816.9 361.6 L818.7 362.8 L820.5 357.8 L822.3 355.1 L824.1 351.2 L826.0 347.1 L827.8 348.0 L829.6 344.0 L831.4 343.1 L833.2 337.8 L835.1 337.6 L836.9 335.9 L838.7 329.9 L840.5 330.8 L842.3 323.7 L844.1 324.7 L846.0 324.3 L847.8 315.1 L849.6 313.0 L851.4 311.2 L853.2 305.7 L855.1 303.6 L856.9 298.7 L858.7 293.5 L860.5 292.7 L862.3 286.8 L864.1 287.1 L866.0 282.5 L867.8 276.2 L869.6 273.5 L871.4 267.3 L873.2 263.0 L875.1 258.4 L876.9 257.1 L878.7 251.8 L880.5 245.4 L882.3 243.8 L884.1 240.6 L886.0 237.2 L887.8 235.8 L889.6 230.5 L891.4 227.1 L893.2 225.1 L895.1 224.3 L896.9 219.0 L898.7 217.8 L900.5 216.6 L902.3 214.0 L904.2 209.6 L906.0 205.1 L907.8 198.5 L909.6 198.7 L911.4 192.9 L913.2 188.9 L915.1 189.0 L916.9 182.9 L918.7 181.3 L920.5 179.8 L922.3 178.7 L924.2 177.5 L926.0 172.1 L927.8 172.9 L929.6 169.2 L931.4 168.1 L933.2 167.9 L935.1 167.2 L936.9 163.0 L938.7 164.1 L940.5 159.9 L942.3 157.8 L944.2 155.1 L946.0 154.5 L947.8 153.4 L949.6 151.2 L951.4 149.0 L953.2 156.6 L955.1 155.0 L956.9 154.8 L958.7 155.8 L960.5 153.5 L962.3 154.1 L964.2 153.7 L966.0 156.1 L967.8 161.3 L969.6 160.1 L971.4 159.3 L973.2 165.0 L975.1 167.6 L976.9 171.4 L978.7 168.5 L980.5 172.1 L982.3 173.1 L984.2 177.6 L986.0 182.1 L987.8 185.2 L989.6 188.8 L991.4 192.7 L993.3 193.5 L995.1 195.9 L996.9 201.2 L998.7 198.8 L1000.5 208.9 L1002.3 208.2 L1004.2 213.5 L1006.0 216.4 L1007.8 226.3 L1009.6 230.7 L1011.4 235.3 L1013.3 238.5 L1015.1 246.7 L1016.9 251.1 L1018.7 255.8 L1020.5 260.6 L1022.3 267.8 L1024.2 272.4 L1026.0 282.2 L1027.8 291.0 L1029.6 299.8 L1031.4 306.2 L1033.3 317.2 L1035.1 322.1 L1036.9 330.7 L1038.7 337.7 L1040.5 341.6 L1042.3 347.8 L1044.2 349.8 L1046.0 358.5 L1047.8 365.1 L1049.6 374.7 L1051.4 378.7 L1053.3 387.7 L1055.1 397.3 L1056.9 400.4 L1058.7 411.7 L1060.5 417.0 L1062.3 427.5 L1064.2 434.9 L1066.0 442.7 L1067.8 453.1 L1069.6 458.4 L1071.4 467.7 L1073.3 475.5 L1075.1 483.0 L1076.9 490.5 L1078.7 495.2 L1080.5 505.8 L1082.3 511.7 L1084.2 519.3 L1086.0 524.9 L1087.8 531.4 L1089.6 537.7 L1091.4 546.5 L1093.3 553.3 L1095.1 558.8 L1096.9 564.8 L1098.7 573.3 L1100.5 575.9 L1102.4 584.6 L1104.2 590.3 L1106.0 596.6 L1107.8 603.5 L1109.6 607.5 L1111.4 614.3 L1113.3 621.2 L1115.1 626.8 L1116.9 633.4 L1118.7 637.1 L1120.5 641.6 L1122.4 649.3 L1124.2 652.7 L1126.0 662.0 L1127.8 665.8 L1129.6 668.9 L1131.4 672.8 L1133.3 677.7 L1135.1 682.7 L1136.9 688.5 L1138.7 692.1 L1140.5 695.0 L1142.4 699.9 L1144.2 705.5 L1146.0 709.2 L1147.8 713.7 L1149.6 716.6 L1151.4 723.3 L1153.3 727.4 L1155.1 727.0 L1156.9 734.9 L1158.7 739.7 L1160.5 742.9 L1162.4 744.6 L1164.2 747.5 L1166.0 751.4 L1167.8 757.1 L1169.6 761.6 L1171.4 761.8 L1173.3 768.0 L1175.1 768.3 L1176.9 773.3 L1178.7 777.4 L1180.5 781.2 L1182.4 784.2 L1184.2 786.4 L1186.0 789.1 L1187.8 794.6 L1189.6 797.1 L1191.5 802.9 L1193.3 804.4 L1195.1 807.8 L1196.9 809.2 L1198.7 811.6 L1200.5 817.3 L1202.4 815.8 L1204.2 819.6 L1206.0 824.0 L1207.8 828.1 L1209.6 828.9 L1211.5 830.8 L1213.3 833.1 L1215.1 837.2 L1216.9 834.6 L1218.7 837.2 L1220.5 841.1 L1222.4 842.9 L1224.2 845.9 L1226.0 847.5 L1227.8 849.8 L1229.6 852.1 L1231.5 854.2 L1233.3 855.7 L1235.1 857.1 L1236.9 860.3 L1238.7 861.4 L1240.5 866.2 L1242.4 866.6 L1244.2 866.0 L1246.0 871.7 L1247.8 872.2 L1249.6 871.8 L1251.5 874.8 L1253.3 873.6 L1255.1 877.0 L1256.9 878.6 L1258.7 882.4 L1260.5 886.6 L1262.4 886.3 L1264.2 885.9 L1266.0 888.4 L1267.8 891.3 L1269.6 892.6 L1271.5 891.3 L1273.3 892.3 L1275.1 895.0 L1276.9 899.3 L1278.7 899.1 L1280.5 896.1 L1282.4 901.8 L1284.2 907.0 L1286.0 906.5 L1287.8 906.0 L1289.6 908.9 L1291.5 909.6 L1293.3 911.7 L1295.1 911.2 L1296.9 908.1 L1298.7 917.0 L1300.6 912.7 L1302.4 917.7 L1304.2 915.6 L1306.0 917.5 L1307.8 924.8 L1309.6 918.1 L1311.5 924.6 L1313.3 923.6 L1315.1 927.4 L1316.9 925.1 L1318.7 925.8 L1320.6 931.1 L1322.4 927.9 L1324.2 929.3 L1326.0 931.2 L1327.8 929.4 L1329.6 931.9 L1331.5 930.9 L1333.3 935.8 L1335.1 934.4 L1336.9 931.7 L1338.7 933.9 L1340.6 933.2 L1342.4 939.1 L1344.2 934.5 L1346.0 938.6 L1347.8 937.5 L1349.6 939.3 L1351.5 940.3 L1353.3 943.3 L1355.1 939.3 L1356.9 941.4 L1358.7 940.1 L1360.6 949.5 L1362.4 944.2 L1364.2 947.1 L1366.0 945.2 L1367.8 947.6 L1369.6 948.6 L1371.5 947.7 L1373.3 948.0 L1375.1 948.6 L1376.9 948.2 L1378.7 954.1 L1380.6 954.2 L1382.4 952.7 L1384.2 949.0 L1386.0 957.0 L1387.8 953.1 L1389.7 952.0 L1391.5 954.0 L1393.3 956.5 L1395.1 955.4 L1396.9 952.7 L1398.7 956.8 L1400.6 958.1 L1402.4 956.9 L1404.2 957.9 L1406.0 961.6 L1407.8 958.6 L1409.7 957.9 L1411.5 960.7 L1413.3 958.8 L1415.1 961.5 L1416.9 960.2 L1418.7 961.2 L1420.6 963.6 L1422.4 960.4 L1424.2 962.5 L1426.0 960.4 L1427.8 964.3 L1429.7 959.3 L1431.5 963.4 L1433.3 967.5 L1435.1 960.9 L1436.9 966.3 L1438.7 967.4 L1440.6 966.2 L1442.4 966.5 L1444.2 969.4 L1446.0 969.1 L1447.8 969.7 L1449.7 968.2 L1451.5 972.0 L1453.3 972.2 L1455.1 972.0 L1456.9 973.6 L1458.7 973.0 L1460.6 977.0 L1462.4 971.9" stroke="#6600e8"/>
</g>
<line x1="186.9" y1="42.7" x2="186.9" y2="983" stroke="#000" stroke-width="3.6"/>
<line x1="185.1" y1="981" x2="1465.7" y2="981" stroke="#000" stroke-width="4.2"/>
<line x1="186.9" y1="977.5" x2="212.9" y2="977.5" stroke="#000" stroke-width="3.6"/>
<line x1="186.9" y1="790.8" x2="212.9" y2="790.8" stroke="#000" stroke-width="3.6"/>
<line x1="186.9" y1="604.2" x2="212.9" y2="604.2" stroke="#000" stroke-width="3.6"/>
<line x1="186.9" y1="417.5" x2="212.9" y2="417.5" stroke="#000" stroke-width="3.6"/>
<line x1="186.9" y1="230.8" x2="212.9" y2="230.8" stroke="#000" stroke-width="3.6"/>
<line x1="186.9" y1="44.1" x2="212.9" y2="44.1" stroke="#000" stroke-width="3.6"/>
<rect x="185.1" y="954.2" width="7.9" height="26.799999999999955" fill="#000"/>
<line x1="373.0" y1="954.2" x2="373.0" y2="981" stroke="#000" stroke-width="3.6"/>
<line x1="554.8" y1="954.2" x2="554.8" y2="981" stroke="#000" stroke-width="3.6"/>
<line x1="736.7" y1="954.2" x2="736.7" y2="981" stroke="#000" stroke-width="3.6"/>
<line x1="918.5" y1="954.2" x2="918.5" y2="981" stroke="#000" stroke-width="3.6"/>
<line x1="1100.3" y1="954.2" x2="1100.3" y2="981" stroke="#000" stroke-width="3.6"/>
<line x1="1282.2" y1="954.2" x2="1282.2" y2="981" stroke="#000" stroke-width="3.6"/>
<line x1="1464.0" y1="954.2" x2="1464.0" y2="981" stroke="#000" stroke-width="3.6"/>
<text x="173.5" y="988.0" font-size="40" text-anchor="end">0</text>
<text x="173.5" y="801.3" font-size="40" text-anchor="end">10</text>
<text x="173.5" y="614.7" font-size="40" text-anchor="end">20</text>
<text x="173.5" y="428.0" font-size="40" text-anchor="end">30</text>
<text x="173.5" y="241.3" font-size="40" text-anchor="end">40</text>
<text x="38" y="63" font-size="40">50x10</text>
<text x="146.5" y="39.5" font-size="29">-3</text>
<text x="191.2" y="1027" font-size="40.5" text-anchor="middle">350</text>
<text x="373.0" y="1027" font-size="40.5" text-anchor="middle">400</text>
<text x="554.8" y="1027" font-size="40.5" text-anchor="middle">450</text>
<text x="736.7" y="1027" font-size="40.5" text-anchor="middle">500</text>
<text x="918.5" y="1027" font-size="40.5" text-anchor="middle">550</text>
<text x="1100.3" y="1027" font-size="40.5" text-anchor="middle">600</text>
<text x="1282.2" y="1027" font-size="40.5" text-anchor="middle">650</text>
<text x="1464.0" y="1027" font-size="40.5" text-anchor="middle">700</text>
<text x="847.5" y="1101.7" font-size="52" text-anchor="middle">Wavelength (nm)</text>
<text transform="translate(79.9,487.9) rotate(-90)" x="0" y="0" font-size="52" text-anchor="middle">Absorbance</text>
<text x="15.5" y="161.4" font-size="70.5" textLength="91.5" lengthAdjust="spacingAndGlyphs">(A)</text>
<rect x="1230.2" y="212.5" width="189.6" height="255.3" fill="#fff" stroke="#000" stroke-width="4.5"/>
<line x1="1241" y1="236.3" x2="1296" y2="236.3" stroke="#ff0000" stroke-width="4.4"/>
<text x="1309.5" y="248.1" font-size="35.5">12 min</text>
<line x1="1241" y1="271.0" x2="1296" y2="271.0" stroke="#ffa500" stroke-width="4.4"/>
<text x="1309.5" y="282.8" font-size="35.5">15 min</text>
<line x1="1241" y1="305.7" x2="1296" y2="305.7" stroke="#ffff00" stroke-width="4.4"/>
<text x="1309.5" y="317.5" font-size="35.5">18 min</text>
<line x1="1241" y1="340.4" x2="1296" y2="340.4" stroke="#009900" stroke-width="4.4"/>
<text x="1309.5" y="352.2" font-size="35.5">21 min</text>
<line x1="1241" y1="375.1" x2="1296" y2="375.1" stroke="#00cccc" stroke-width="4.4"/>
<text x="1309.5" y="386.9" font-size="35.5">24 min</text>
<line x1="1241" y1="409.8" x2="1296" y2="409.8" stroke="#0000ff" stroke-width="4.4"/>
<text x="1309.5" y="421.6" font-size="35.5">27 min</text>
<line x1="1241" y1="444.5" x2="1296" y2="444.5" stroke="#6600e8" stroke-width="4.4"/>
<text x="1309.5" y="456.3" font-size="35.5">30 min</text>
<clipPath id="clipB"><rect x="193" y="1122.5" width="1278" height="935"/></clipPath>
<g clip-path="url(#clipB)" fill="none" stroke-width="4.2" stroke-linejoin="round" stroke-linecap="round">
<path d="M255.0 1063.5 L256.9 1062.4 L258.6 1061.9 L261.2 1062.6 L262.1 1084.1 L263.9 1095.6 L268.6 1108.7 L267.4 1117.5 L271.5 1136.3 L271.1 1149.1 L274.4 1176.4 L277.5 1176.9 L277.0 1202.3 L278.1 1209.5 L280.6 1222.8 L281.3 1223.3 L284.6 1237.9 L284.7 1246.3 L287.5 1250.7 L290.3 1261.2 L290.5 1263.1 L292.3 1267.5 L294.5 1270.2 L296.4 1278.2 L299.2 1282.5 L299.7 1292.8 L301.0 1312.2 L304.8 1306.5 L306.7 1317.1 L307.8 1325.5 L309.1 1334.0 L311.4 1338.4 L314.0 1333.9 L315.6 1348.6 L316.5 1348.9 L316.7 1353.4 L319.0 1368.9 L322.1 1370.6 L324.3 1370.4 L325.8 1374.3 L328.5 1385.4 L331.5 1382.9 L330.2 1400.1 L333.1 1399.1 L334.4 1405.1 L337.2 1409.8 L338.3 1411.7 L340.7 1418.8 L342.1 1417.4 L343.2 1421.4 L345.9 1424.2 L348.2 1436.0 L349.4 1434.5 L351.9 1439.5 L353.6 1440.6 L354.1 1445.2 L357.4 1454.1 L357.3 1459.4 L358.4 1463.4 L361.2 1478.9 L363.8 1480.1 L365.7 1489.4 L367.5 1492.1 L369.2 1494.1 L371.4 1496.5 L372.8 1494.2 L376.3 1478.7 L378.2 1481.4 L375.5 1501.9 L380.4 1503.7 L382.6 1505.3 L384.5 1513.1 L385.2 1510.8 L388.4 1519.1 L389.6 1515.1 L392.2 1519.0 L393.3 1526.6 L395.1 1521.1 L396.9 1524.9 L398.3 1525.7 L400.7 1528.7 L402.5 1534.1 L403.4 1535.1 L406.1 1538.6 L407.7 1536.2 L409.4 1536.4 L411.3 1534.4 L413.2 1540.0 L415.3 1536.7 L416.9 1547.7 L418.9 1539.1 L420.1 1544.1 L422.2 1544.6 L423.5 1543.3 L426.1 1553.8 L427.7 1545.9 L429.4 1553.1 L431.4 1548.1 L433.2 1549.7 L435.0 1543.4 L436.8 1547.8 L438.7 1552.2 L440.5 1550.1 L442.3 1550.9 L444.1 1550.5 L445.9 1553.3 L447.7 1553.7 L449.6 1566.0 L451.4 1555.6 L453.2 1557.7 L455.0 1562.4 L456.8 1560.7 L458.7 1564.5 L460.5 1558.5 L462.3 1559.6 L464.1 1558.5 L465.9 1560.3 L467.7 1569.2 L469.6 1564.1 L471.4 1557.1 L473.2 1565.9 L475.0 1569.0 L476.8 1565.5 L478.7 1567.5 L480.5 1568.3 L482.3 1568.8 L484.1 1564.4 L485.9 1566.2 L487.7 1565.6 L489.6 1570.4 L491.4 1564.5 L493.2 1560.9 L495.0 1570.5 L496.8 1565.8 L498.7 1567.2 L500.5 1567.0 L502.3 1572.4 L504.1 1567.8 L505.9 1568.1 L507.8 1570.1 L509.6 1567.1 L511.4 1564.0 L513.2 1561.3 L515.0 1569.3 L516.8 1574.7 L518.7 1566.2 L520.5 1568.1 L522.3 1570.3 L524.1 1573.2 L525.9 1574.9 L527.8 1571.0 L529.6 1575.6 L531.4 1579.6 L533.2 1572.8 L535.0 1578.8 L536.8 1576.1 L538.7 1576.4 L540.5 1581.1 L542.3 1580.0 L544.1 1571.8 L545.9 1581.8 L547.8 1580.6 L549.6 1583.8 L551.4 1576.9 L553.2 1584.0 L555.0 1580.9 L556.8 1585.8 L558.7 1578.2 L560.5 1579.0 L562.3 1581.8 L564.1 1579.2 L565.9 1586.0 L567.8 1585.9 L569.6 1578.5 L571.4 1583.7 L573.2 1587.0 L575.0 1586.3 L576.8 1583.4 L578.7 1586.7 L580.5 1587.9 L582.3 1586.8 L584.1 1589.5 L585.9 1585.3 L587.8 1593.3 L589.6 1588.2 L591.4 1593.8 L593.2 1584.4 L595.0 1591.2 L596.8 1593.6 L598.7 1593.9 L600.5 1591.1 L602.3 1596.6 L604.1 1596.6 L605.9 1595.7 L607.8 1598.4 L609.6 1600.0 L611.4 1597.4 L613.2 1599.8 L615.0 1597.5 L616.9 1602.6 L618.7 1602.0 L620.5 1597.0 L622.3 1603.2 L624.1 1599.1 L625.9 1603.1 L627.8 1603.6 L629.6 1605.4 L631.4 1603.6 L633.2 1603.5 L635.0 1610.7 L636.9 1603.3 L638.7 1605.2 L640.5 1610.2 L642.3 1605.1 L644.1 1606.1 L645.9 1611.3 L647.8 1611.2 L649.6 1608.5 L651.4 1606.8 L653.2 1609.4 L655.0 1616.6 L656.9 1608.7 L658.7 1610.7 L660.5 1613.1 L662.3 1609.6 L664.1 1610.4 L665.9 1611.6 L667.8 1612.7 L669.6 1610.8 L671.4 1618.7 L673.2 1615.7 L675.0 1617.4 L676.9 1613.4 L678.7 1619.4 L680.5 1609.7 L682.3 1608.5 L684.1 1614.7 L685.9 1610.8 L687.8 1608.1 L689.6 1604.3 L691.4 1603.0 L693.2 1600.3 L695.0 1603.4 L696.9 1606.5 L698.7 1601.8 L700.5 1603.8 L702.3 1605.8 L704.1 1609.9 L706.0 1604.6 L707.8 1601.8 L709.6 1600.9 L711.4 1602.4 L713.2 1602.5 L715.0 1602.7 L716.9 1594.6 L718.7 1603.0 L720.5 1599.1 L722.3 1594.9 L724.1 1591.5 L726.0 1592.1 L727.8 1590.7 L729.6 1590.3 L731.4 1590.8 L733.2 1581.6 L735.0 1586.6 L736.9 1580.1 L738.7 1580.5 L740.5 1575.3 L742.3 1578.4 L744.1 1575.1 L746.0 1577.4 L747.8 1576.9 L749.6 1576.8 L751.4 1575.6 L753.2 1573.5 L755.0 1574.9 L756.9 1571.4 L758.7 1571.0 L760.5 1578.0 L762.3 1572.1 L764.1 1574.4 L766.0 1572.0 L767.8 1571.6 L769.6 1565.0 L771.4 1567.8 L773.2 1568.5 L775.0 1568.2 L776.9 1563.7 L778.7 1563.7 L780.5 1559.2 L782.3 1561.6 L784.1 1556.2 L786.0 1552.1 L787.8 1554.5 L789.6 1550.1 L791.4 1553.8 L793.2 1550.4 L795.0 1547.5 L796.9 1548.2 L798.7 1545.0 L800.5 1549.5 L802.3 1543.7 L804.1 1545.5 L806.0 1544.9 L807.8 1536.5 L809.6 1540.0 L811.4 1537.2 L813.2 1537.1 L815.1 1532.0 L816.9 1531.6 L818.7 1531.8 L820.5 1530.5 L822.3 1529.2 L824.1 1527.9 L826.0 1526.4 L827.8 1524.7 L829.6 1526.0 L831.4 1526.7 L833.2 1524.3 L835.1 1521.4 L836.9 1522.3 L838.7 1522.4 L840.5 1520.3 L842.3 1519.8 L844.1 1520.8 L846.0 1519.6 L847.8 1511.0 L849.6 1512.6 L851.4 1511.3 L853.2 1513.5 L855.1 1511.1 L856.9 1509.9 L858.7 1504.3 L860.5 1504.1 L862.3 1500.3 L864.1 1499.0 L866.0 1495.3 L867.8 1498.4 L869.6 1492.9 L871.4 1488.8 L873.2 1491.1 L875.1 1488.8 L876.9 1482.0 L878.7 1484.4 L880.5 1479.2 L882.3 1475.2 L884.1 1475.0 L886.0 1472.4 L887.8 1473.6 L889.6 1468.9 L891.4 1467.9 L893.2 1463.5 L895.1 1461.4 L896.9 1461.0 L898.7 1460.2 L900.5 1455.4 L902.3 1457.1 L904.2 1453.7 L906.0 1450.6 L907.8 1448.1 L909.6 1448.8 L911.4 1447.4 L913.2 1441.3 L915.1 1439.5 L916.9 1438.2 L918.7 1436.3 L920.5 1432.9 L922.3 1434.0 L924.2 1430.6 L926.0 1427.3 L927.8 1424.3 L929.6 1425.0 L931.4 1423.4 L933.2 1419.6 L935.1 1418.5 L936.9 1420.0 L938.7 1415.0 L940.5 1417.2 L942.3 1417.7 L944.2 1416.6 L946.0 1413.3 L947.8 1414.4 L949.6 1415.4 L951.4 1414.5 L953.2 1415.7 L955.1 1413.4 L956.9 1415.1 L958.7 1416.6 L960.5 1413.8 L962.3 1415.4 L964.2 1418.0 L966.0 1414.9 L967.8 1418.9 L969.6 1417.0 L971.4 1419.4 L973.2 1417.1 L975.1 1418.5 L976.9 1420.3 L978.7 1421.9 L980.5 1423.0 L982.3 1422.1 L984.2 1427.0 L986.0 1428.5 L987.8 1431.0 L989.6 1433.9 L991.4 1438.3 L993.3 1437.8 L995.1 1446.3 L996.9 1447.3 L998.7 1448.7 L1000.5 1451.7 L1002.3 1456.6 L1004.2 1460.8 L1006.0 1461.8 L1007.8 1462.7 L1009.6 1465.6 L1011.4 1475.0 L1013.3 1475.5 L1015.1 1479.4 L1016.9 1481.9 L1018.7 1489.3 L1020.5 1489.7 L1022.3 1489.7 L1024.2 1495.9 L1026.0 1501.2 L1027.8 1503.6 L1029.6 1511.2 L1031.4 1516.4 L1033.3 1519.2 L1035.1 1527.6 L1036.9 1531.0 L1038.7 1539.0 L1040.5 1540.8 L1042.3 1546.0 L1044.2 1551.0 L1046.0 1560.4 L1047.8 1563.4 L1049.6 1572.2 L1051.4 1583.8 L1053.3 1588.6 L1055.1 1593.5 L1056.9 1602.5 L1058.7 1606.2 L1060.5 1612.8 L1062.3 1616.1 L1064.2 1622.5 L1066.0 1630.0 L1067.8 1636.0 L1069.6 1634.6 L1071.4 1640.2 L1073.3 1645.3 L1075.1 1646.5 L1076.9 1652.6 L1078.7 1658.8 L1080.5 1667.9 L1082.3 1673.2 L1084.2 1680.2 L1086.0 1685.6 L1087.8 1685.7 L1089.6 1691.7 L1091.4 1700.6 L1093.3 1706.3 L1095.1 1708.8 L1096.9 1712.5 L1098.7 1712.6 L1100.5 1718.2 L1102.4 1722.6 L1104.2 1728.8 L1106.0 1732.3 L1107.8 1741.1 L1109.6 1749.3 L1111.4 1751.2 L1113.3 1757.6 L1115.1 1765.1 L1116.9 1766.7 L1118.7 1770.5 L1120.5 1775.8 L1122.4 1781.4 L1124.2 1787.7 L1126.0 1792.7 L1127.8 1797.6 L1129.6 1804.1 L1131.4 1807.0 L1133.3 1808.2 L1135.1 1815.6 L1136.9 1818.6 L1138.7 1822.1 L1140.5 1824.6 L1142.4 1834.3 L1144.2 1835.9 L1146.0 1840.4 L1147.8 1838.2 L1149.6 1847.8 L1151.4 1849.9 L1153.3 1852.0 L1155.1 1854.7 L1156.9 1854.6 L1158.7 1860.8 L1160.5 1863.3 L1162.4 1862.9 L1164.2 1868.3 L1166.0 1871.5 L1167.8 1871.1 L1169.6 1877.1 L1171.4 1877.7 L1173.3 1881.6 L1175.1 1880.2 L1176.9 1886.9 L1178.7 1889.0 L1180.5 1891.4 L1182.4 1896.5 L1184.2 1899.9 L1186.0 1896.3 L1187.8 1903.1 L1189.6 1901.6 L1191.5 1905.5 L1193.3 1907.5 L1195.1 1907.3 L1196.9 1916.0 L1198.7 1915.7 L1200.5 1917.1 L1202.4 1921.2 L1204.2 1924.4 L1206.0 1926.5 L1207.8 1926.9 L1209.6 1927.8 L1211.5 1928.4 L1213.3 1929.2 L1215.1 1929.6 L1216.9 1935.8 L1218.7 1936.9 L1220.5 1938.9 L1222.4 1940.0 L1224.2 1943.7 L1226.0 1941.9 L1227.8 1941.8 L1229.6 1944.9 L1231.5 1946.3 L1233.3 1951.1 L1235.1 1955.0 L1236.9 1951.5 L1238.7 1954.5 L1240.5 1956.8 L1242.4 1956.0 L1244.2 1957.8 L1246.0 1960.1 L1247.8 1959.9 L1249.6 1962.9 L1251.5 1965.8 L1253.3 1967.8 L1255.1 1968.1 L1256.9 1966.9 L1258.7 1970.9 L1260.5 1967.1 L1262.4 1970.8 L1264.2 1974.7 L1266.0 1977.3 L1267.8 1976.2 L1269.6 1975.1 L1271.5 1979.2 L1273.3 1978.0 L1275.1 1977.7 L1276.9 1985.1 L1278.7 1986.5 L1280.5 1985.9 L1282.4 1988.2 L1284.2 1986.4 L1286.0 1989.9 L1287.8 1995.2 L1289.6 1991.9 L1291.5 1997.3 L1293.3 1995.7 L1295.1 2001.1 L1296.9 2003.4 L1298.7 2004.2 L1300.6 2007.0 L1302.4 2005.5 L1304.2 2008.6 L1306.0 2008.2 L1307.8 2009.9 L1309.6 2013.4 L1311.5 2010.3 L1313.3 2008.9 L1315.1 2012.3 L1316.9 2018.9 L1318.7 2013.7 L1320.6 2016.3 L1322.4 2015.8 L1324.2 2012.6 L1326.0 2016.2 L1327.8 2015.8 L1329.6 2018.0 L1331.5 2016.2 L1333.3 2020.9 L1335.1 2018.7 L1336.9 2018.4 L1338.7 2020.7 L1340.6 2024.5 L1342.4 2022.9 L1344.2 2024.4 L1346.0 2027.3 L1347.8 2024.3 L1349.6 2030.4 L1351.5 2027.1 L1353.3 2028.8 L1355.1 2031.5 L1356.9 2031.7 L1358.7 2024.9 L1360.6 2035.4 L1362.4 2032.5 L1364.2 2031.0 L1366.0 2037.2 L1367.8 2031.9 L1369.6 2035.5 L1371.5 2033.9 L1373.3 2038.6 L1375.1 2035.0 L1376.9 2041.4 L1378.7 2036.4 L1380.6 2038.8 L1382.4 2041.0 L1384.2 2035.7 L1386.0 2041.9 L1387.8 2038.4 L1389.7 2039.3 L1391.5 2039.2 L1393.3 2039.4 L1395.1 2043.2 L1396.9 2046.3 L1398.7 2044.2 L1400.6 2041.7 L1402.4 2045.8 L1404.2 2047.3 L1406.0 2044.3 L1407.8 2044.0 L1409.7 2049.8 L1411.5 2050.9 L1413.3 2044.5 L1415.1 2044.7 L1416.9 2048.5 L1418.7 2051.1 L1420.6 2051.6 L1422.4 2051.6 L1424.2 2051.8 L1426.0 2049.7 L1427.8 2052.1 L1429.7 2048.4 L1431.5 2051.9 L1433.3 2051.0 L1435.1 2048.5 L1436.9 2050.1 L1438.7 2054.7 L1440.6 2052.0 L1442.4 2055.6 L1444.2 2054.7 L1446.0 2052.3 L1447.8 2053.5 L1449.7 2050.5 L1451.5 2055.0 L1453.3 2056.8 L1455.1 2053.3 L1456.9 2052.2 L1458.7 2055.7 L1460.6 2057.4 L1462.4 2056.2 L1464.2 2053.0 L1466.0 2058.6 L1467.8 2055.1" stroke="#ff0000"/>
<path d="M255.8 1070.0 L257.6 1061.7 L258.3 1055.7 L259.5 1058.3 L261.5 1068.6 L264.5 1091.2 L268.2 1103.0 L269.8 1116.4 L269.3 1130.6 L269.6 1143.0 L272.0 1157.8 L275.8 1173.9 L277.4 1181.2 L280.7 1194.5 L279.9 1203.8 L281.3 1217.2 L285.9 1233.7 L285.9 1226.0 L288.8 1233.6 L289.9 1244.4 L292.3 1255.2 L293.7 1257.1 L293.7 1261.2 L296.2 1269.0 L298.0 1268.0 L300.4 1276.4 L304.6 1285.2 L304.2 1295.9 L305.9 1299.8 L307.8 1310.3 L307.6 1322.8 L311.6 1322.3 L313.1 1334.5 L314.7 1334.0 L318.2 1351.7 L318.4 1343.8 L319.7 1348.3 L322.1 1362.6 L323.1 1365.2 L325.4 1373.2 L327.3 1379.9 L328.7 1376.9 L331.8 1387.7 L332.8 1398.2 L334.8 1394.0 L338.7 1405.2 L338.6 1403.5 L340.5 1408.7 L341.8 1411.3 L344.6 1415.8 L345.9 1419.6 L347.0 1433.4 L349.6 1431.9 L352.8 1433.6 L352.8 1442.9 L354.9 1438.0 L357.2 1448.4 L357.8 1452.5 L361.5 1454.0 L363.0 1457.5 L364.3 1462.9 L366.3 1462.2 L368.6 1466.0 L368.9 1471.1 L371.2 1470.5 L373.1 1473.4 L374.8 1466.4 L376.9 1476.5 L378.6 1477.3 L381.0 1473.9 L382.1 1481.8 L383.7 1487.9 L385.8 1485.4 L387.7 1489.3 L389.3 1488.8 L390.7 1491.4 L392.9 1492.6 L395.3 1494.3 L395.7 1499.2 L398.5 1503.3 L400.3 1501.2 L402.3 1504.8 L404.8 1502.4 L406.2 1511.0 L407.9 1510.1 L409.4 1508.7 L411.0 1512.1 L413.2 1514.0 L415.0 1510.9 L418.0 1514.7 L418.9 1520.6 L420.2 1513.2 L423.0 1517.8 L424.0 1526.0 L425.7 1516.6 L428.0 1520.5 L429.5 1521.4 L431.4 1525.6 L433.2 1521.4 L435.0 1518.3 L436.8 1519.1 L438.7 1523.6 L440.5 1520.2 L442.3 1531.1 L444.1 1523.4 L445.9 1529.7 L447.7 1529.7 L449.6 1530.7 L451.4 1531.2 L453.2 1525.6 L455.0 1532.2 L456.8 1534.7 L458.7 1535.8 L460.5 1535.5 L462.3 1535.4 L464.1 1537.9 L465.9 1535.7 L467.7 1540.5 L469.6 1540.0 L471.4 1537.1 L473.2 1537.9 L475.0 1540.8 L476.8 1541.6 L478.7 1537.3 L480.5 1537.4 L482.3 1541.9 L484.1 1542.5 L485.9 1538.7 L487.7 1537.1 L489.6 1541.8 L491.4 1545.6 L493.2 1537.9 L495.0 1539.4 L496.8 1536.7 L498.7 1543.7 L500.5 1539.8 L502.3 1536.4 L504.1 1536.9 L505.9 1537.5 L507.8 1538.9 L509.6 1539.8 L511.4 1542.4 L513.2 1538.5 L515.0 1543.3 L516.8 1539.3 L518.7 1546.4 L520.5 1546.6 L522.3 1547.9 L524.1 1541.9 L525.9 1546.2 L527.8 1549.1 L529.6 1554.9 L531.4 1552.0 L533.2 1552.9 L535.0 1551.6 L536.8 1556.8 L538.7 1553.0 L540.5 1558.8 L542.3 1556.3 L544.1 1552.5 L545.9 1558.2 L547.8 1558.5 L549.6 1555.4 L551.4 1559.7 L553.2 1554.3 L555.0 1559.4 L556.8 1552.0 L558.7 1560.4 L560.5 1555.2 L562.3 1560.2 L564.1 1560.6 L565.9 1560.8 L567.8 1557.0 L569.6 1560.0 L571.4 1561.3 L573.2 1563.2 L575.0 1561.2 L576.8 1561.5 L578.7 1566.6 L580.5 1564.1 L582.3 1566.7 L584.1 1558.8 L585.9 1561.0 L587.8 1566.0 L589.6 1564.1 L591.4 1565.2 L593.2 1570.8 L595.0 1573.3 L596.8 1571.2 L598.7 1568.6 L600.5 1567.0 L602.3 1569.4 L604.1 1580.7 L605.9 1573.0 L607.8 1572.0 L609.6 1575.2 L611.4 1579.2 L613.2 1578.2 L615.0 1581.1 L616.9 1578.5 L618.7 1577.4 L620.5 1576.5 L622.3 1578.8 L624.1 1579.4 L625.9 1577.5 L627.8 1582.6 L629.6 1585.0 L631.4 1582.8 L633.2 1581.4 L635.0 1585.4 L636.9 1585.3 L638.7 1583.2 L640.5 1588.6 L642.3 1589.7 L644.1 1584.0 L645.9 1584.9 L647.8 1592.4 L649.6 1589.0 L651.4 1592.9 L653.2 1591.0 L655.0 1588.9 L656.9 1586.7 L658.7 1586.1 L660.5 1590.0 L662.3 1590.6 L664.1 1587.5 L665.9 1587.6 L667.8 1587.9 L669.6 1586.2 L671.4 1588.8 L673.2 1589.1 L675.0 1594.2 L676.9 1589.9 L678.7 1587.5 L680.5 1586.3 L682.3 1591.1 L684.1 1591.8 L685.9 1588.9 L687.8 1578.2 L689.6 1578.2 L691.4 1575.7 L693.2 1578.7 L695.0 1581.2 L696.9 1583.5 L698.7 1583.5 L700.5 1575.5 L702.3 1583.8 L704.1 1578.4 L706.0 1582.4 L707.8 1583.3 L709.6 1575.0 L711.4 1579.0 L713.2 1578.2 L715.0 1576.0 L716.9 1578.4 L718.7 1578.4 L720.5 1569.5 L722.3 1574.3 L724.1 1575.3 L726.0 1578.1 L727.8 1580.7 L729.6 1578.9 L731.4 1578.5 L733.2 1575.8 L735.0 1578.0 L736.9 1570.1 L738.7 1573.1 L740.5 1579.5 L742.3 1578.1 L744.1 1576.7 L746.0 1576.4 L747.8 1576.9 L749.6 1573.4 L751.4 1574.2 L753.2 1570.7 L755.0 1570.7 L756.9 1571.0 L758.7 1568.8 L760.5 1573.8 L762.3 1569.9 L764.1 1568.3 L766.0 1569.2 L767.8 1567.2 L769.6 1561.7 L771.4 1562.1 L773.2 1561.4 L775.0 1562.0 L776.9 1559.9 L778.7 1554.4 L780.5 1554.3 L782.3 1552.7 L784.1 1554.9 L786.0 1552.4 L787.8 1551.5 L789.6 1549.8 L791.4 1544.5 L793.2 1540.6 L795.0 1542.1 L796.9 1540.8 L798.7 1541.8 L800.5 1541.7 L802.3 1537.5 L804.1 1535.8 L806.0 1536.5 L807.8 1535.0 L809.6 1534.8 L811.4 1532.1 L813.2 1527.3 L815.1 1529.7 L816.9 1525.0 L818.7 1526.7 L820.5 1520.8 L822.3 1524.9 L824.1 1523.1 L826.0 1519.9 L827.8 1521.6 L829.6 1518.0 L831.4 1517.7 L833.2 1513.4 L835.1 1513.8 L836.9 1516.5 L838.7 1515.1 L840.5 1513.6 L842.3 1512.4 L844.1 1510.6 L846.0 1509.2 L847.8 1505.4 L849.6 1507.2 L851.4 1502.2 L853.2 1501.9 L855.1 1500.4 L856.9 1497.6 L858.7 1496.6 L860.5 1494.7 L862.3 1492.6 L864.1 1489.5 L866.0 1490.2 L867.8 1486.5 L869.6 1487.0 L871.4 1479.8 L873.2 1480.2 L875.1 1477.4 L876.9 1475.5 L878.7 1471.5 L880.5 1469.7 L882.3 1465.7 L884.1 1461.9 L886.0 1468.1 L887.8 1462.8 L889.6 1459.2 L891.4 1456.6 L893.2 1456.1 L895.1 1452.0 L896.9 1448.8 L898.7 1450.3 L900.5 1446.6 L902.3 1443.2 L904.2 1440.5 L906.0 1436.9 L907.8 1433.4 L909.6 1435.0 L911.4 1433.1 L913.2 1432.4 L915.1 1429.7 L916.9 1427.4 L918.7 1422.0 L920.5 1421.2 L922.3 1421.2 L924.2 1419.7 L926.0 1417.4 L927.8 1415.3 L929.6 1413.5 L931.4 1410.0 L933.2 1407.4 L935.1 1407.2 L936.9 1406.2 L938.7 1406.2 L940.5 1405.7 L942.3 1403.9 L944.2 1399.8 L946.0 1400.3 L947.8 1401.5 L949.6 1397.5 L951.4 1400.4 L953.2 1397.3 L955.1 1399.9 L956.9 1397.3 L958.7 1401.4 L960.5 1396.9 L962.3 1401.9 L964.2 1404.1 L966.0 1401.8 L967.8 1403.7 L969.6 1403.3 L971.4 1404.4 L973.2 1408.2 L975.1 1405.5 L976.9 1411.3 L978.7 1412.3 L980.5 1410.5 L982.3 1413.2 L984.2 1419.0 L986.0 1421.0 L987.8 1421.6 L989.6 1421.6 L991.4 1423.1 L993.3 1425.9 L995.1 1433.0 L996.9 1432.8 L998.7 1434.6 L1000.5 1442.0 L1002.3 1442.1 L1004.2 1449.1 L1006.0 1450.6 L1007.8 1454.0 L1009.6 1453.8 L1011.4 1459.5 L1013.3 1464.1 L1015.1 1467.5 L1016.9 1471.5 L1018.7 1475.9 L1020.5 1478.3 L1022.3 1486.2 L1024.2 1488.8 L1026.0 1492.7 L1027.8 1497.7 L1029.6 1505.9 L1031.4 1504.3 L1033.3 1512.2 L1035.1 1522.3 L1036.9 1523.3 L1038.7 1531.8 L1040.5 1533.0 L1042.3 1540.9 L1044.2 1542.9 L1046.0 1548.3 L1047.8 1558.4 L1049.6 1561.9 L1051.4 1569.3 L1053.3 1576.9 L1055.1 1589.5 L1056.9 1590.7 L1058.7 1597.9 L1060.5 1601.2 L1062.3 1606.4 L1064.2 1611.8 L1066.0 1618.2 L1067.8 1624.2 L1069.6 1627.3 L1071.4 1633.8 L1073.3 1636.7 L1075.1 1641.6 L1076.9 1649.9 L1078.7 1658.3 L1080.5 1662.8 L1082.3 1667.8 L1084.2 1670.6 L1086.0 1677.8 L1087.8 1681.2 L1089.6 1686.8 L1091.4 1692.1 L1093.3 1698.0 L1095.1 1704.5 L1096.9 1708.7 L1098.7 1711.9 L1100.5 1712.3 L1102.4 1720.7 L1104.2 1725.8 L1106.0 1731.4 L1107.8 1735.5 L1109.6 1739.3 L1111.4 1747.7 L1113.3 1750.9 L1115.1 1762.5 L1116.9 1763.0 L1118.7 1769.2 L1120.5 1774.0 L1122.4 1779.5 L1124.2 1782.2 L1126.0 1791.5 L1127.8 1788.4 L1129.6 1798.4 L1131.4 1802.9 L1133.3 1805.9 L1135.1 1813.5 L1136.9 1815.6 L1138.7 1818.4 L1140.5 1824.4 L1142.4 1829.1 L1144.2 1830.6 L1146.0 1837.6 L1147.8 1837.6 L1149.6 1839.2 L1151.4 1844.6 L1153.3 1848.9 L1155.1 1853.1 L1156.9 1852.8 L1158.7 1858.7 L1160.5 1863.7 L1162.4 1863.8 L1164.2 1867.9 L1166.0 1868.2 L1167.8 1873.3 L1169.6 1871.3 L1171.4 1875.7 L1173.3 1876.6 L1175.1 1881.5 L1176.9 1882.2 L1178.7 1887.7 L1180.5 1891.9 L1182.4 1893.5 L1184.2 1893.8 L1186.0 1894.6 L1187.8 1902.4 L1189.6 1904.2 L1191.5 1902.8 L1193.3 1908.1 L1195.1 1911.4 L1196.9 1908.0 L1198.7 1911.6 L1200.5 1915.8 L1202.4 1919.5 L1204.2 1920.8 L1206.0 1922.6 L1207.8 1927.3 L1209.6 1923.8 L1211.5 1926.3 L1213.3 1928.5 L1215.1 1935.5 L1216.9 1934.4 L1218.7 1933.9 L1220.5 1938.7 L1222.4 1933.9 L1224.2 1940.5 L1226.0 1939.2 L1227.8 1940.1 L1229.6 1945.5 L1231.5 1948.7 L1233.3 1945.1 L1235.1 1948.4 L1236.9 1951.1 L1238.7 1948.9 L1240.5 1950.0 L1242.4 1953.5 L1244.2 1957.2 L1246.0 1955.8 L1247.8 1960.0 L1249.6 1959.8 L1251.5 1962.1 L1253.3 1965.4 L1255.1 1963.4 L1256.9 1965.2 L1258.7 1969.5 L1260.5 1970.2 L1262.4 1969.5 L1264.2 1969.2 L1266.0 1973.0 L1267.8 1974.4 L1269.6 1973.8 L1271.5 1978.7 L1273.3 1977.7 L1275.1 1980.5 L1276.9 1979.4 L1278.7 1985.9 L1280.5 1984.4 L1282.4 1985.4 L1284.2 1987.5 L1286.0 1987.9 L1287.8 1989.1 L1289.6 1993.4 L1291.5 1994.7 L1293.3 1993.5 L1295.1 1997.2 L1296.9 1999.4 L1298.7 2003.1 L1300.6 2001.0 L1302.4 2002.1 L1304.2 2003.8 L1306.0 2010.7 L1307.8 2002.0 L1309.6 2008.2 L1311.5 2009.6 L1313.3 2010.1 L1315.1 2012.5 L1316.9 2012.5 L1318.7 2010.6 L1320.6 2015.2 L1322.4 2008.9 L1324.2 2012.5 L1326.0 2013.3 L1327.8 2019.1 L1329.6 2015.1 L1331.5 2014.8 L1333.3 2019.7 L1335.1 2020.7 L1336.9 2020.0 L1338.7 2017.7 L1340.6 2020.8 L1342.4 2020.7 L1344.2 2024.6 L1346.0 2023.6 L1347.8 2026.9 L1349.6 2026.3 L1351.5 2024.3 L1353.3 2023.7 L1355.1 2031.8 L1356.9 2025.7 L1358.7 2025.4 L1360.6 2031.6 L1362.4 2033.4 L1364.2 2032.5 L1366.0 2033.1 L1367.8 2031.1 L1369.6 2031.5 L1371.5 2033.4 L1373.3 2033.3 L1375.1 2034.6 L1376.9 2032.9 L1378.7 2034.2 L1380.6 2035.7 L1382.4 2040.7 L1384.2 2038.3 L1386.0 2037.3 L1387.8 2039.3 L1389.7 2041.9 L1391.5 2040.5 L1393.3 2042.4 L1395.1 2041.1 L1396.9 2046.2 L1398.7 2042.4 L1400.6 2036.5 L1402.4 2043.9 L1404.2 2042.0 L1406.0 2039.2 L1407.8 2042.2 L1409.7 2040.7 L1411.5 2047.6 L1413.3 2044.5 L1415.1 2045.3 L1416.9 2045.2 L1418.7 2046.8 L1420.6 2044.3 L1422.4 2046.5 L1424.2 2051.5 L1426.0 2048.1 L1427.8 2049.7 L1429.7 2050.8 L1431.5 2045.0 L1433.3 2052.8 L1435.1 2048.8 L1436.9 2049.1 L1438.7 2048.2 L1440.6 2052.6 L1442.4 2051.7 L1444.2 2050.6 L1446.0 2049.9 L1447.8 2051.0 L1449.7 2053.8 L1451.5 2052.3 L1453.3 2052.5 L1455.1 2051.4 L1456.9 2047.9 L1458.7 2052.8 L1460.6 2054.0 L1462.4 2053.0 L1464.2 2053.7 L1466.0 2055.9 L1467.8 2051.8" stroke="#ffa500"/>
<path d="M255.9 1069.5 L256.2 1061.2 L258.6 1059.6 L261.6 1059.9 L261.0 1083.4 L263.4 1107.8 L265.6 1121.1 L270.2 1133.8 L270.2 1153.3 L272.7 1157.7 L273.3 1175.1 L274.5 1194.0 L277.6 1208.1 L279.8 1213.8 L280.0 1228.1 L282.7 1241.0 L285.1 1241.6 L286.2 1249.9 L287.5 1257.1 L287.9 1265.1 L292.0 1271.4 L293.7 1275.4 L294.6 1287.7 L296.7 1285.6 L297.1 1293.0 L301.2 1306.9 L302.5 1310.7 L303.2 1317.0 L307.2 1325.5 L308.1 1335.2 L309.3 1339.4 L313.6 1347.6 L313.7 1355.3 L315.0 1351.0 L315.4 1354.9 L318.1 1369.2 L320.1 1369.9 L321.4 1383.0 L324.1 1391.0 L325.9 1384.8 L328.2 1389.9 L330.1 1395.4 L330.5 1401.6 L333.3 1402.0 L334.3 1404.1 L336.9 1412.2 L340.0 1407.4 L341.7 1421.1 L342.0 1424.4 L344.1 1430.6 L346.7 1432.9 L348.2 1436.8 L349.8 1435.5 L352.4 1442.1 L353.4 1448.0 L355.3 1449.8 L356.5 1452.6 L359.1 1460.4 L360.5 1460.3 L362.1 1460.0 L363.5 1456.9 L365.5 1464.8 L367.7 1469.3 L369.6 1472.0 L371.4 1472.6 L373.0 1472.0 L375.0 1477.9 L376.6 1475.7 L379.1 1473.8 L382.6 1479.8 L382.6 1487.0 L384.1 1483.1 L385.6 1488.9 L387.5 1492.1 L389.2 1493.7 L391.4 1498.2 L392.9 1493.9 L395.1 1501.8 L396.7 1507.7 L399.2 1504.7 L400.2 1502.8 L402.4 1513.9 L404.3 1505.1 L404.7 1516.7 L407.3 1514.4 L409.4 1514.3 L411.4 1516.1 L412.8 1515.3 L415.6 1520.9 L416.7 1520.0 L418.6 1519.4 L420.6 1519.1 L421.9 1516.1 L423.8 1522.7 L425.8 1519.8 L428.9 1524.4 L429.7 1526.0 L431.4 1527.5 L433.2 1525.7 L435.0 1519.1 L436.8 1525.6 L438.7 1532.5 L440.5 1528.0 L442.3 1531.9 L444.1 1529.4 L445.9 1535.7 L447.7 1527.3 L449.6 1534.5 L451.4 1534.4 L453.2 1536.6 L455.0 1538.8 L456.8 1539.2 L458.7 1534.7 L460.5 1545.4 L462.3 1540.6 L464.1 1538.1 L465.9 1547.2 L467.7 1542.1 L469.6 1543.5 L471.4 1546.0 L473.2 1547.1 L475.0 1544.5 L476.8 1544.4 L478.7 1541.9 L480.5 1546.3 L482.3 1542.8 L484.1 1548.4 L485.9 1548.8 L487.7 1545.1 L489.6 1540.5 L491.4 1545.3 L493.2 1546.1 L495.0 1543.5 L496.8 1544.1 L498.7 1546.8 L500.5 1548.4 L502.3 1546.2 L504.1 1544.5 L505.9 1545.7 L507.8 1543.4 L509.6 1550.7 L511.4 1551.1 L513.2 1541.3 L515.0 1546.2 L516.8 1553.1 L518.7 1554.1 L520.5 1557.0 L522.3 1555.3 L524.1 1552.1 L525.9 1554.0 L527.8 1557.8 L529.6 1556.5 L531.4 1550.5 L533.2 1554.7 L535.0 1549.5 L536.8 1559.8 L538.7 1557.5 L540.5 1557.6 L542.3 1559.4 L544.1 1551.2 L545.9 1556.1 L547.8 1556.3 L549.6 1558.8 L551.4 1558.3 L553.2 1559.5 L555.0 1560.1 L556.8 1554.4 L558.7 1556.7 L560.5 1563.2 L562.3 1559.0 L564.1 1560.8 L565.9 1565.0 L567.8 1562.6 L569.6 1569.6 L571.4 1561.5 L573.2 1562.6 L575.0 1558.7 L576.8 1567.5 L578.7 1564.3 L580.5 1568.6 L582.3 1568.5 L584.1 1575.1 L585.9 1568.6 L587.8 1568.7 L589.6 1567.7 L591.4 1571.9 L593.2 1565.6 L595.0 1569.8 L596.8 1568.5 L598.7 1569.9 L600.5 1576.1 L602.3 1571.1 L604.1 1575.1 L605.9 1578.1 L607.8 1570.9 L609.6 1577.3 L611.4 1572.7 L613.2 1580.6 L615.0 1576.1 L616.9 1582.8 L618.7 1580.4 L620.5 1580.5 L622.3 1585.5 L624.1 1582.5 L625.9 1586.5 L627.8 1585.1 L629.6 1586.9 L631.4 1582.1 L633.2 1585.5 L635.0 1585.4 L636.9 1588.3 L638.7 1588.4 L640.5 1590.3 L642.3 1588.4 L644.1 1585.0 L645.9 1586.9 L647.8 1591.2 L649.6 1586.1 L651.4 1587.1 L653.2 1589.1 L655.0 1589.7 L656.9 1590.5 L658.7 1586.0 L660.5 1588.9 L662.3 1584.3 L664.1 1586.8 L665.9 1591.5 L667.8 1587.3 L669.6 1589.3 L671.4 1595.7 L673.2 1589.7 L675.0 1590.0 L676.9 1582.3 L678.7 1589.5 L680.5 1591.2 L682.3 1587.0 L684.1 1588.6 L685.9 1594.2 L687.8 1581.1 L689.6 1577.3 L691.4 1575.4 L693.2 1572.5 L695.0 1578.6 L696.9 1581.6 L698.7 1580.4 L700.5 1578.8 L702.3 1575.0 L704.1 1575.8 L706.0 1582.2 L707.8 1571.3 L709.6 1570.5 L711.4 1573.5 L713.2 1569.1 L715.0 1567.8 L716.9 1567.7 L718.7 1569.2 L720.5 1570.0 L722.3 1570.5 L724.1 1569.2 L726.0 1570.8 L727.8 1566.0 L729.6 1558.5 L731.4 1564.5 L733.2 1558.9 L735.0 1564.6 L736.9 1564.1 L738.7 1559.6 L740.5 1562.0 L742.3 1562.4 L744.1 1561.7 L746.0 1558.0 L747.8 1560.2 L749.6 1555.1 L751.4 1558.2 L753.2 1550.5 L755.0 1554.6 L756.9 1555.0 L758.7 1550.6 L760.5 1547.3 L762.3 1548.4 L764.1 1549.9 L766.0 1549.2 L767.8 1548.2 L769.6 1545.7 L771.4 1540.1 L773.2 1539.7 L775.0 1542.8 L776.9 1541.2 L778.7 1537.7 L780.5 1540.1 L782.3 1533.0 L784.1 1533.0 L786.0 1531.2 L787.8 1529.4 L789.6 1524.5 L791.4 1524.7 L793.2 1524.6 L795.0 1523.1 L796.9 1525.0 L798.7 1520.3 L800.5 1514.0 L802.3 1514.3 L804.1 1513.6 L806.0 1515.7 L807.8 1514.0 L809.6 1513.5 L811.4 1511.9 L813.2 1508.0 L815.1 1507.4 L816.9 1507.2 L818.7 1510.7 L820.5 1507.8 L822.3 1505.0 L824.1 1504.3 L826.0 1502.4 L827.8 1502.3 L829.6 1499.0 L831.4 1495.6 L833.2 1500.8 L835.1 1497.4 L836.9 1494.6 L838.7 1494.3 L840.5 1492.3 L842.3 1492.1 L844.1 1491.4 L846.0 1492.4 L847.8 1483.0 L849.6 1487.0 L851.4 1482.8 L853.2 1483.6 L855.1 1478.8 L856.9 1477.4 L858.7 1476.7 L860.5 1477.8 L862.3 1470.0 L864.1 1471.0 L866.0 1470.2 L867.8 1467.1 L869.6 1463.4 L871.4 1464.1 L873.2 1459.4 L875.1 1457.7 L876.9 1454.4 L878.7 1452.4 L880.5 1448.7 L882.3 1446.3 L884.1 1446.4 L886.0 1444.7 L887.8 1443.5 L889.6 1438.4 L891.4 1440.5 L893.2 1438.8 L895.1 1434.9 L896.9 1428.5 L898.7 1431.5 L900.5 1426.1 L902.3 1428.2 L904.2 1426.8 L906.0 1421.2 L907.8 1418.7 L909.6 1415.1 L911.4 1415.6 L913.2 1412.5 L915.1 1410.7 L916.9 1408.1 L918.7 1410.3 L920.5 1406.7 L922.3 1407.5 L924.2 1402.9 L926.0 1404.4 L927.8 1398.5 L929.6 1398.5 L931.4 1396.9 L933.2 1393.9 L935.1 1393.4 L936.9 1391.4 L938.7 1391.8 L940.5 1389.5 L942.3 1391.5 L944.2 1389.1 L946.0 1387.5 L947.8 1385.4 L949.6 1384.8 L951.4 1386.0 L953.2 1385.2 L955.1 1384.5 L956.9 1385.8 L958.7 1389.2 L960.5 1387.0 L962.3 1388.2 L964.2 1391.3 L966.0 1387.8 L967.8 1388.2 L969.6 1389.0 L971.4 1390.5 L973.2 1391.5 L975.1 1393.8 L976.9 1395.8 L978.7 1399.0 L980.5 1402.0 L982.3 1400.8 L984.2 1407.6 L986.0 1405.1 L987.8 1410.7 L989.6 1412.1 L991.4 1414.6 L993.3 1416.6 L995.1 1416.6 L996.9 1419.7 L998.7 1424.4 L1000.5 1426.0 L1002.3 1431.6 L1004.2 1432.2 L1006.0 1435.1 L1007.8 1440.4 L1009.6 1443.1 L1011.4 1448.5 L1013.3 1451.7 L1015.1 1453.8 L1016.9 1460.3 L1018.7 1462.7 L1020.5 1467.8 L1022.3 1475.8 L1024.2 1480.3 L1026.0 1482.0 L1027.8 1488.1 L1029.6 1493.7 L1031.4 1499.5 L1033.3 1506.8 L1035.1 1510.3 L1036.9 1513.2 L1038.7 1520.0 L1040.5 1524.6 L1042.3 1532.4 L1044.2 1533.9 L1046.0 1539.3 L1047.8 1545.6 L1049.6 1554.4 L1051.4 1561.4 L1053.3 1566.4 L1055.1 1570.9 L1056.9 1579.4 L1058.7 1586.5 L1060.5 1592.1 L1062.3 1597.6 L1064.2 1601.9 L1066.0 1609.9 L1067.8 1617.8 L1069.6 1618.8 L1071.4 1626.3 L1073.3 1632.7 L1075.1 1638.0 L1076.9 1639.9 L1078.7 1652.3 L1080.5 1655.6 L1082.3 1661.8 L1084.2 1664.4 L1086.0 1671.9 L1087.8 1675.0 L1089.6 1683.6 L1091.4 1689.4 L1093.3 1695.4 L1095.1 1699.3 L1096.9 1703.7 L1098.7 1708.9 L1100.5 1710.9 L1102.4 1717.7 L1104.2 1720.5 L1106.0 1726.6 L1107.8 1730.7 L1109.6 1737.2 L1111.4 1737.4 L1113.3 1747.5 L1115.1 1754.9 L1116.9 1758.4 L1118.7 1761.9 L1120.5 1770.8 L1122.4 1771.1 L1124.2 1779.1 L1126.0 1784.9 L1127.8 1788.3 L1129.6 1796.9 L1131.4 1797.7 L1133.3 1805.4 L1135.1 1811.0 L1136.9 1813.5 L1138.7 1818.7 L1140.5 1820.1 L1142.4 1825.2 L1144.2 1830.2 L1146.0 1834.2 L1147.8 1838.7 L1149.6 1840.0 L1151.4 1845.8 L1153.3 1845.4 L1155.1 1851.5 L1156.9 1854.0 L1158.7 1858.5 L1160.5 1858.2 L1162.4 1859.6 L1164.2 1863.8 L1166.0 1866.1 L1167.8 1870.2 L1169.6 1872.4 L1171.4 1874.3 L1173.3 1872.3 L1175.1 1882.0 L1176.9 1884.7 L1178.7 1885.8 L1180.5 1888.5 L1182.4 1890.7 L1184.2 1892.6 L1186.0 1895.2 L1187.8 1897.2 L1189.6 1903.4 L1191.5 1901.0 L1193.3 1904.8 L1195.1 1904.8 L1196.9 1910.0 L1198.7 1912.5 L1200.5 1910.9 L1202.4 1919.1 L1204.2 1919.1 L1206.0 1923.2 L1207.8 1923.7 L1209.6 1921.1 L1211.5 1924.0 L1213.3 1929.5 L1215.1 1925.8 L1216.9 1935.1 L1218.7 1934.5 L1220.5 1934.3 L1222.4 1935.6 L1224.2 1939.2 L1226.0 1935.5 L1227.8 1941.6 L1229.6 1939.2 L1231.5 1945.5 L1233.3 1946.9 L1235.1 1947.2 L1236.9 1946.5 L1238.7 1948.8 L1240.5 1952.3 L1242.4 1952.7 L1244.2 1953.3 L1246.0 1956.8 L1247.8 1958.4 L1249.6 1961.7 L1251.5 1958.9 L1253.3 1961.6 L1255.1 1960.8 L1256.9 1965.4 L1258.7 1963.3 L1260.5 1967.1 L1262.4 1968.6 L1264.2 1968.7 L1266.0 1968.8 L1267.8 1970.5 L1269.6 1975.1 L1271.5 1976.3 L1273.3 1974.9 L1275.1 1980.4 L1276.9 1977.5 L1278.7 1980.8 L1280.5 1982.9 L1282.4 1984.1 L1284.2 1985.5 L1286.0 1985.1 L1287.8 1990.3 L1289.6 1988.2 L1291.5 1991.0 L1293.3 1992.7 L1295.1 1994.3 L1296.9 1997.8 L1298.7 1998.7 L1300.6 1997.8 L1302.4 2002.1 L1304.2 2002.4 L1306.0 2004.2 L1307.8 2003.1 L1309.6 2001.1 L1311.5 2008.0 L1313.3 2003.5 L1315.1 2007.5 L1316.9 2009.9 L1318.7 2009.6 L1320.6 2010.6 L1322.4 2010.4 L1324.2 2011.6 L1326.0 2008.7 L1327.8 2012.6 L1329.6 2010.8 L1331.5 2009.4 L1333.3 2016.1 L1335.1 2019.6 L1336.9 2016.9 L1338.7 2016.4 L1340.6 2018.2 L1342.4 2020.6 L1344.2 2017.8 L1346.0 2020.6 L1347.8 2020.2 L1349.6 2020.2 L1351.5 2022.7 L1353.3 2019.2 L1355.1 2023.9 L1356.9 2028.8 L1358.7 2032.2 L1360.6 2027.6 L1362.4 2029.8 L1364.2 2026.0 L1366.0 2029.7 L1367.8 2029.8 L1369.6 2029.8 L1371.5 2033.6 L1373.3 2034.3 L1375.1 2033.1 L1376.9 2030.1 L1378.7 2031.5 L1380.6 2034.9 L1382.4 2032.9 L1384.2 2035.7 L1386.0 2035.2 L1387.8 2036.9 L1389.7 2035.5 L1391.5 2040.1 L1393.3 2040.7 L1395.1 2037.1 L1396.9 2040.7 L1398.7 2038.8 L1400.6 2038.9 L1402.4 2036.3 L1404.2 2041.0 L1406.0 2038.7 L1407.8 2038.6 L1409.7 2041.4 L1411.5 2046.9 L1413.3 2041.2 L1415.1 2041.6 L1416.9 2044.8 L1418.7 2045.2 L1420.6 2040.4 L1422.4 2048.0 L1424.2 2045.1 L1426.0 2040.8 L1427.8 2046.4 L1429.7 2048.6 L1431.5 2044.4 L1433.3 2045.9 L1435.1 2050.6 L1436.9 2046.7 L1438.7 2050.8 L1440.6 2050.8 L1442.4 2048.8 L1444.2 2047.5 L1446.0 2046.0 L1447.8 2046.5 L1449.7 2049.0 L1451.5 2050.2 L1453.3 2045.9 L1455.1 2053.7 L1456.9 2051.0 L1458.7 2049.4 L1460.6 2052.4 L1462.4 2050.0 L1464.2 2052.4 L1466.0 2052.2 L1467.8 2050.3" stroke="#ffff00"/>
<path d="M254.5 1060.1 L258.0 1074.1 L259.4 1096.1 L259.3 1113.5 L260.9 1120.8 L263.6 1151.3 L265.4 1166.7 L268.3 1177.9 L270.3 1196.1 L270.6 1210.0 L270.3 1223.9 L273.3 1227.3 L277.6 1234.5 L280.5 1251.3 L280.5 1251.2 L282.1 1268.5 L283.6 1277.4 L285.7 1272.9 L286.6 1286.9 L288.5 1288.2 L291.6 1303.6 L294.2 1306.4 L294.0 1307.6 L295.6 1318.4 L298.4 1325.1 L299.3 1335.2 L302.3 1346.2 L304.2 1339.3 L306.3 1351.3 L307.9 1369.5 L309.6 1363.9 L311.3 1367.0 L313.2 1374.4 L316.2 1376.0 L316.3 1388.6 L319.2 1390.2 L319.7 1398.5 L323.9 1404.2 L324.0 1410.2 L325.9 1405.8 L327.3 1413.8 L329.3 1410.5 L330.6 1425.5 L332.9 1423.9 L335.8 1429.4 L336.5 1430.3 L339.2 1433.8 L341.1 1443.0 L342.5 1442.8 L343.8 1445.3 L347.1 1449.2 L346.4 1451.9 L349.6 1457.2 L351.3 1455.2 L353.0 1458.8 L355.9 1458.5 L358.0 1464.6 L358.2 1468.7 L360.4 1467.7 L363.3 1474.5 L364.4 1481.8 L365.9 1483.6 L366.3 1488.0 L371.1 1497.7 L370.7 1498.5 L373.1 1501.0 L375.1 1499.0 L376.5 1502.4 L378.1 1512.5 L380.6 1508.2 L382.1 1509.8 L384.1 1511.9 L386.0 1509.5 L387.3 1513.3 L387.1 1518.8 L390.9 1524.3 L392.4 1515.4 L395.2 1533.1 L396.9 1526.2 L398.4 1528.8 L400.4 1524.0 L402.3 1531.1 L403.8 1533.7 L406.0 1537.9 L408.0 1534.9 L409.5 1532.8 L411.1 1536.3 L412.8 1543.8 L415.0 1540.5 L416.1 1547.0 L418.7 1546.5 L420.5 1547.5 L422.3 1546.7 L424.1 1545.5 L426.0 1546.2 L427.8 1551.2 L429.5 1548.4 L431.4 1550.6 L433.2 1553.5 L435.0 1550.9 L436.8 1552.4 L438.7 1550.6 L440.5 1550.0 L442.3 1550.6 L444.1 1552.8 L445.9 1558.4 L447.7 1557.1 L449.6 1558.6 L451.4 1555.6 L453.2 1557.7 L455.0 1566.0 L456.8 1564.2 L458.7 1564.2 L460.5 1562.1 L462.3 1564.6 L464.1 1562.4 L465.9 1568.2 L467.7 1569.9 L469.6 1567.5 L471.4 1563.6 L473.2 1563.8 L475.0 1570.1 L476.8 1563.5 L478.7 1563.9 L480.5 1566.7 L482.3 1569.4 L484.1 1566.7 L485.9 1571.0 L487.7 1563.2 L489.6 1564.0 L491.4 1563.1 L493.2 1567.4 L495.0 1569.2 L496.8 1565.4 L498.7 1569.9 L500.5 1568.5 L502.3 1568.2 L504.1 1566.5 L505.9 1569.7 L507.8 1566.4 L509.6 1567.8 L511.4 1565.8 L513.2 1568.1 L515.0 1569.5 L516.8 1570.2 L518.7 1574.3 L520.5 1574.9 L522.3 1574.5 L524.1 1576.5 L525.9 1573.1 L527.8 1580.9 L529.6 1574.4 L531.4 1581.8 L533.2 1581.3 L535.0 1582.2 L536.8 1582.2 L538.7 1582.2 L540.5 1583.6 L542.3 1582.3 L544.1 1580.0 L545.9 1582.9 L547.8 1581.7 L549.6 1581.1 L551.4 1582.2 L553.2 1582.0 L555.0 1585.7 L556.8 1578.4 L558.7 1580.6 L560.5 1584.2 L562.3 1582.1 L564.1 1580.8 L565.9 1585.0 L567.8 1587.1 L569.6 1588.4 L571.4 1582.9 L573.2 1584.8 L575.0 1586.3 L576.8 1587.6 L578.7 1588.7 L580.5 1589.4 L582.3 1588.1 L584.1 1586.6 L585.9 1587.7 L587.8 1596.1 L589.6 1594.4 L591.4 1592.7 L593.2 1589.8 L595.0 1591.5 L596.8 1596.8 L598.7 1589.6 L600.5 1591.6 L602.3 1596.0 L604.1 1592.4 L605.9 1598.9 L607.8 1595.0 L609.6 1604.3 L611.4 1597.3 L613.2 1602.9 L615.0 1599.8 L616.9 1605.7 L618.7 1601.4 L620.5 1601.7 L622.3 1601.1 L624.1 1599.4 L625.9 1603.6 L627.8 1604.4 L629.6 1603.4 L631.4 1602.5 L633.2 1606.5 L635.0 1606.2 L636.9 1606.4 L638.7 1613.5 L640.5 1608.0 L642.3 1610.6 L644.1 1604.1 L645.9 1613.3 L647.8 1609.5 L649.6 1608.1 L651.4 1607.4 L653.2 1609.7 L655.0 1607.4 L656.9 1606.9 L658.7 1609.7 L660.5 1605.4 L662.3 1610.1 L664.1 1609.1 L665.9 1608.0 L667.8 1610.4 L669.6 1609.7 L671.4 1610.0 L673.2 1609.6 L675.0 1606.2 L676.9 1617.1 L678.7 1612.6 L680.5 1609.2 L682.3 1610.7 L684.1 1611.7 L685.9 1609.1 L687.8 1600.0 L689.6 1596.9 L691.4 1600.8 L693.2 1602.1 L695.0 1603.9 L696.9 1598.2 L698.7 1603.4 L700.5 1607.1 L702.3 1602.5 L704.1 1602.5 L706.0 1599.2 L707.8 1593.1 L709.6 1600.3 L711.4 1599.7 L713.2 1596.3 L715.0 1592.5 L716.9 1594.0 L718.7 1596.6 L720.5 1596.6 L722.3 1591.0 L724.1 1590.9 L726.0 1589.0 L727.8 1584.7 L729.6 1581.4 L731.4 1584.5 L733.2 1579.2 L735.0 1579.8 L736.9 1583.1 L738.7 1577.0 L740.5 1573.1 L742.3 1575.9 L744.1 1572.9 L746.0 1577.7 L747.8 1572.9 L749.6 1572.6 L751.4 1571.4 L753.2 1570.6 L755.0 1564.9 L756.9 1569.7 L758.7 1570.2 L760.5 1564.7 L762.3 1567.1 L764.1 1560.8 L766.0 1561.5 L767.8 1560.4 L769.6 1560.5 L771.4 1557.3 L773.2 1553.0 L775.0 1557.7 L776.9 1548.7 L778.7 1547.9 L780.5 1546.8 L782.3 1541.8 L784.1 1542.6 L786.0 1542.8 L787.8 1545.3 L789.6 1541.7 L791.4 1539.4 L793.2 1537.8 L795.0 1529.9 L796.9 1534.7 L798.7 1535.5 L800.5 1530.1 L802.3 1531.6 L804.1 1527.1 L806.0 1530.1 L807.8 1525.8 L809.6 1526.2 L811.4 1524.4 L813.2 1525.0 L815.1 1521.0 L816.9 1518.4 L818.7 1517.6 L820.5 1514.5 L822.3 1515.1 L824.1 1510.2 L826.0 1509.7 L827.8 1514.3 L829.6 1511.0 L831.4 1510.0 L833.2 1507.4 L835.1 1508.0 L836.9 1503.6 L838.7 1506.6 L840.5 1504.6 L842.3 1504.9 L844.1 1503.0 L846.0 1500.5 L847.8 1494.0 L849.6 1498.0 L851.4 1493.9 L853.2 1491.8 L855.1 1490.8 L856.9 1492.0 L858.7 1490.9 L860.5 1484.9 L862.3 1480.3 L864.1 1479.8 L866.0 1478.6 L867.8 1476.6 L869.6 1475.0 L871.4 1471.2 L873.2 1469.8 L875.1 1468.5 L876.9 1462.0 L878.7 1462.3 L880.5 1461.3 L882.3 1457.0 L884.1 1454.3 L886.0 1455.6 L887.8 1455.2 L889.6 1446.8 L891.4 1449.1 L893.2 1445.9 L895.1 1438.7 L896.9 1440.2 L898.7 1437.0 L900.5 1440.6 L902.3 1438.3 L904.2 1431.3 L906.0 1432.5 L907.8 1426.3 L909.6 1424.8 L911.4 1426.2 L913.2 1422.5 L915.1 1420.9 L916.9 1413.9 L918.7 1413.1 L920.5 1410.8 L922.3 1413.0 L924.2 1411.1 L926.0 1408.9 L927.8 1407.3 L929.6 1403.4 L931.4 1404.6 L933.2 1403.4 L935.1 1400.0 L936.9 1399.6 L938.7 1400.0 L940.5 1394.8 L942.3 1395.6 L944.2 1394.9 L946.0 1393.4 L947.8 1390.5 L949.6 1391.1 L951.4 1390.3 L953.2 1391.7 L955.1 1392.9 L956.9 1389.8 L958.7 1390.5 L960.5 1395.5 L962.3 1394.2 L964.2 1395.3 L966.0 1393.2 L967.8 1397.2 L969.6 1394.6 L971.4 1397.8 L973.2 1396.7 L975.1 1399.1 L976.9 1400.6 L978.7 1405.3 L980.5 1407.4 L982.3 1405.8 L984.2 1409.3 L986.0 1416.6 L987.8 1411.4 L989.6 1413.7 L991.4 1418.5 L993.3 1418.0 L995.1 1424.3 L996.9 1427.8 L998.7 1430.1 L1000.5 1432.7 L1002.3 1436.0 L1004.2 1439.2 L1006.0 1442.7 L1007.8 1445.2 L1009.6 1448.3 L1011.4 1455.7 L1013.3 1457.6 L1015.1 1457.1 L1016.9 1464.1 L1018.7 1469.5 L1020.5 1474.5 L1022.3 1476.8 L1024.2 1480.6 L1026.0 1486.4 L1027.8 1493.6 L1029.6 1497.8 L1031.4 1500.2 L1033.3 1508.8 L1035.1 1512.8 L1036.9 1514.5 L1038.7 1522.6 L1040.5 1528.8 L1042.3 1533.0 L1044.2 1540.8 L1046.0 1544.4 L1047.8 1552.6 L1049.6 1556.7 L1051.4 1565.6 L1053.3 1571.1 L1055.1 1579.2 L1056.9 1585.3 L1058.7 1590.6 L1060.5 1596.6 L1062.3 1600.8 L1064.2 1607.1 L1066.0 1612.7 L1067.8 1616.4 L1069.6 1621.3 L1071.4 1629.5 L1073.3 1634.3 L1075.1 1640.8 L1076.9 1644.1 L1078.7 1653.1 L1080.5 1659.9 L1082.3 1663.3 L1084.2 1670.6 L1086.0 1676.1 L1087.8 1679.9 L1089.6 1684.7 L1091.4 1694.3 L1093.3 1696.5 L1095.1 1701.9 L1096.9 1704.5 L1098.7 1707.7 L1100.5 1712.4 L1102.4 1721.6 L1104.2 1722.7 L1106.0 1729.8 L1107.8 1734.6 L1109.6 1738.8 L1111.4 1744.5 L1113.3 1750.5 L1115.1 1756.4 L1116.9 1761.8 L1118.7 1767.0 L1120.5 1770.9 L1122.4 1777.3 L1124.2 1783.1 L1126.0 1789.7 L1127.8 1791.3 L1129.6 1799.7 L1131.4 1801.3 L1133.3 1807.9 L1135.1 1811.5 L1136.9 1817.4 L1138.7 1821.9 L1140.5 1822.7 L1142.4 1831.2 L1144.2 1830.7 L1146.0 1836.2 L1147.8 1841.9 L1149.6 1845.7 L1151.4 1851.9 L1153.3 1851.5 L1155.1 1856.2 L1156.9 1859.1 L1158.7 1859.7 L1160.5 1864.5 L1162.4 1866.3 L1164.2 1868.3 L1166.0 1869.4 L1167.8 1874.2 L1169.6 1875.6 L1171.4 1879.0 L1173.3 1881.4 L1175.1 1880.2 L1176.9 1882.9 L1178.7 1892.6 L1180.5 1890.1 L1182.4 1895.0 L1184.2 1896.6 L1186.0 1901.1 L1187.8 1900.4 L1189.6 1901.5 L1191.5 1905.1 L1193.3 1907.8 L1195.1 1912.0 L1196.9 1911.2 L1198.7 1917.4 L1200.5 1917.4 L1202.4 1916.7 L1204.2 1923.2 L1206.0 1924.7 L1207.8 1926.2 L1209.6 1926.9 L1211.5 1931.3 L1213.3 1931.4 L1215.1 1933.4 L1216.9 1936.3 L1218.7 1935.2 L1220.5 1939.6 L1222.4 1940.1 L1224.2 1941.5 L1226.0 1943.7 L1227.8 1943.0 L1229.6 1946.5 L1231.5 1950.0 L1233.3 1948.6 L1235.1 1951.4 L1236.9 1953.3 L1238.7 1952.7 L1240.5 1958.6 L1242.4 1954.1 L1244.2 1956.6 L1246.0 1961.8 L1247.8 1963.3 L1249.6 1962.3 L1251.5 1964.4 L1253.3 1967.1 L1255.1 1968.1 L1256.9 1969.2 L1258.7 1971.0 L1260.5 1971.6 L1262.4 1973.8 L1264.2 1972.8 L1266.0 1976.3 L1267.8 1975.7 L1269.6 1977.8 L1271.5 1980.8 L1273.3 1979.3 L1275.1 1980.0 L1276.9 1982.0 L1278.7 1986.9 L1280.5 1988.8 L1282.4 1988.3 L1284.2 1990.7 L1286.0 1993.0 L1287.8 1992.0 L1289.6 1993.2 L1291.5 1998.1 L1293.3 2003.5 L1295.1 2000.0 L1296.9 2000.4 L1298.7 1999.7 L1300.6 2005.6 L1302.4 2002.4 L1304.2 2004.7 L1306.0 2006.0 L1307.8 2007.1 L1309.6 2015.6 L1311.5 2012.7 L1313.3 2006.6 L1315.1 2008.3 L1316.9 2013.3 L1318.7 2011.6 L1320.6 2016.6 L1322.4 2016.0 L1324.2 2016.9 L1326.0 2018.2 L1327.8 2019.9 L1329.6 2017.2 L1331.5 2018.2 L1333.3 2017.8 L1335.1 2025.9 L1336.9 2023.3 L1338.7 2021.0 L1340.6 2021.9 L1342.4 2022.8 L1344.2 2025.9 L1346.0 2023.3 L1347.8 2020.3 L1349.6 2023.8 L1351.5 2026.0 L1353.3 2025.1 L1355.1 2034.6 L1356.9 2034.6 L1358.7 2031.3 L1360.6 2030.6 L1362.4 2031.2 L1364.2 2033.9 L1366.0 2039.5 L1367.8 2032.0 L1369.6 2034.2 L1371.5 2036.1 L1373.3 2039.2 L1375.1 2038.7 L1376.9 2035.5 L1378.7 2037.9 L1380.6 2040.4 L1382.4 2038.6 L1384.2 2041.1 L1386.0 2040.1 L1387.8 2039.0 L1389.7 2041.2 L1391.5 2042.0 L1393.3 2043.2 L1395.1 2041.5 L1396.9 2043.2 L1398.7 2043.3 L1400.6 2042.2 L1402.4 2045.6 L1404.2 2042.4 L1406.0 2043.0 L1407.8 2050.4 L1409.7 2048.7 L1411.5 2047.2 L1413.3 2045.7 L1415.1 2048.4 L1416.9 2046.7 L1418.7 2049.0 L1420.6 2048.5 L1422.4 2050.0 L1424.2 2050.8 L1426.0 2051.5 L1427.8 2049.1 L1429.7 2048.7 L1431.5 2047.2 L1433.3 2046.7 L1435.1 2050.1 L1436.9 2051.8 L1438.7 2053.9 L1440.6 2051.0 L1442.4 2055.9 L1444.2 2052.3 L1446.0 2051.7 L1447.8 2051.6 L1449.7 2052.3 L1451.5 2057.2 L1453.3 2050.8 L1455.1 2051.9 L1456.9 2052.5 L1458.7 2055.0 L1460.6 2054.4 L1462.4 2049.9 L1464.2 2056.3 L1466.0 2058.7 L1467.8 2053.4" stroke="#009900"/>
<path d="M254.7 1066.0 L256.9 1064.8 L258.5 1072.8 L260.2 1086.1 L262.5 1098.1 L263.2 1110.1 L265.2 1127.6 L267.9 1148.5 L269.5 1158.5 L270.1 1180.2 L273.8 1195.2 L275.9 1208.2 L278.1 1221.5 L278.8 1235.0 L279.4 1240.0 L283.2 1253.0 L284.2 1256.9 L284.8 1255.3 L288.1 1265.2 L288.7 1268.3 L292.0 1283.6 L292.5 1277.6 L295.9 1292.3 L298.2 1292.6 L299.2 1303.6 L301.4 1316.0 L301.0 1322.0 L302.2 1328.6 L307.0 1336.0 L308.4 1338.1 L309.7 1345.3 L312.1 1351.0 L315.0 1358.7 L315.1 1363.4 L317.4 1365.7 L320.1 1377.2 L320.2 1380.3 L321.6 1391.4 L324.1 1391.3 L324.9 1392.3 L326.7 1405.8 L328.3 1411.1 L331.4 1412.7 L333.1 1412.4 L334.8 1414.1 L336.6 1427.3 L338.9 1420.9 L340.2 1432.7 L342.3 1440.8 L344.9 1436.2 L346.8 1435.7 L348.3 1446.6 L349.3 1448.5 L351.3 1454.2 L353.2 1448.2 L355.2 1453.7 L356.3 1450.1 L357.9 1458.6 L359.6 1462.6 L362.1 1466.3 L364.2 1464.7 L365.6 1468.0 L366.5 1472.2 L369.8 1475.5 L371.8 1484.6 L373.2 1487.2 L375.5 1486.5 L377.4 1489.5 L378.5 1494.5 L380.7 1490.1 L383.5 1499.6 L384.1 1502.2 L386.0 1498.7 L386.6 1505.0 L389.6 1507.1 L391.3 1505.1 L392.6 1512.9 L395.0 1517.4 L396.8 1514.1 L398.6 1517.8 L400.7 1517.4 L402.8 1526.5 L404.1 1521.2 L404.4 1527.8 L405.5 1528.2 L409.3 1520.5 L411.3 1530.4 L413.1 1527.0 L414.2 1532.4 L416.7 1538.0 L418.1 1535.8 L420.6 1530.5 L422.5 1533.7 L424.0 1534.1 L426.1 1539.8 L427.5 1540.4 L429.3 1528.4 L431.4 1535.7 L433.2 1536.8 L435.0 1541.8 L436.8 1538.6 L438.7 1544.4 L440.5 1545.2 L442.3 1539.0 L444.1 1542.4 L445.9 1543.1 L447.7 1541.3 L449.6 1545.2 L451.4 1542.8 L453.2 1546.9 L455.0 1548.0 L456.8 1552.0 L458.7 1554.5 L460.5 1551.9 L462.3 1552.5 L464.1 1549.4 L465.9 1558.8 L467.7 1558.1 L469.6 1552.7 L471.4 1550.9 L473.2 1554.2 L475.0 1551.4 L476.8 1557.7 L478.7 1553.5 L480.5 1550.3 L482.3 1552.3 L484.1 1549.5 L485.9 1553.8 L487.7 1554.9 L489.6 1555.6 L491.4 1551.7 L493.2 1553.5 L495.0 1558.7 L496.8 1554.9 L498.7 1554.2 L500.5 1548.9 L502.3 1553.1 L504.1 1554.1 L505.9 1559.1 L507.8 1550.6 L509.6 1552.7 L511.4 1549.3 L513.2 1548.3 L515.0 1555.7 L516.8 1551.1 L518.7 1556.6 L520.5 1555.2 L522.3 1550.6 L524.1 1557.4 L525.9 1556.0 L527.8 1550.9 L529.6 1563.3 L531.4 1567.1 L533.2 1557.8 L535.0 1559.5 L536.8 1562.2 L538.7 1558.9 L540.5 1564.7 L542.3 1559.4 L544.1 1559.7 L545.9 1568.9 L547.8 1566.2 L549.6 1565.5 L551.4 1567.0 L553.2 1565.1 L555.0 1563.4 L556.8 1563.2 L558.7 1561.8 L560.5 1559.3 L562.3 1566.9 L564.1 1563.4 L565.9 1568.6 L567.8 1571.4 L569.6 1568.6 L571.4 1569.4 L573.2 1566.8 L575.0 1567.1 L576.8 1568.9 L578.7 1568.6 L580.5 1572.7 L582.3 1569.3 L584.1 1576.3 L585.9 1570.8 L587.8 1575.5 L589.6 1575.8 L591.4 1573.9 L593.2 1577.4 L595.0 1573.9 L596.8 1580.3 L598.7 1580.8 L600.5 1579.6 L602.3 1577.4 L604.1 1585.1 L605.9 1577.5 L607.8 1580.3 L609.6 1582.4 L611.4 1584.3 L613.2 1582.4 L615.0 1581.2 L616.9 1583.1 L618.7 1580.4 L620.5 1579.5 L622.3 1588.0 L624.1 1588.1 L625.9 1586.3 L627.8 1589.5 L629.6 1589.2 L631.4 1586.1 L633.2 1586.0 L635.0 1590.5 L636.9 1586.2 L638.7 1590.8 L640.5 1592.6 L642.3 1596.0 L644.1 1595.8 L645.9 1591.7 L647.8 1594.4 L649.6 1598.6 L651.4 1592.7 L653.2 1588.8 L655.0 1588.9 L656.9 1593.0 L658.7 1589.9 L660.5 1588.2 L662.3 1592.8 L664.1 1590.9 L665.9 1594.2 L667.8 1595.9 L669.6 1590.8 L671.4 1592.9 L673.2 1590.9 L675.0 1595.2 L676.9 1587.5 L678.7 1593.2 L680.5 1594.0 L682.3 1589.9 L684.1 1590.8 L685.9 1590.2 L687.8 1584.4 L689.6 1577.2 L691.4 1578.7 L693.2 1585.0 L695.0 1583.6 L696.9 1583.6 L698.7 1580.6 L700.5 1582.1 L702.3 1577.5 L704.1 1586.8 L706.0 1582.0 L707.8 1578.1 L709.6 1579.6 L711.4 1575.0 L713.2 1573.6 L715.0 1573.9 L716.9 1577.5 L718.7 1577.6 L720.5 1574.7 L722.3 1570.5 L724.1 1574.8 L726.0 1578.9 L727.8 1569.6 L729.6 1568.2 L731.4 1568.3 L733.2 1565.5 L735.0 1562.1 L736.9 1566.7 L738.7 1560.3 L740.5 1560.6 L742.3 1563.0 L744.1 1563.8 L746.0 1561.7 L747.8 1555.6 L749.6 1559.1 L751.4 1560.5 L753.2 1557.1 L755.0 1560.2 L756.9 1557.0 L758.7 1557.6 L760.5 1557.3 L762.3 1552.6 L764.1 1552.8 L766.0 1551.7 L767.8 1551.0 L769.6 1546.9 L771.4 1545.2 L773.2 1546.0 L775.0 1547.0 L776.9 1539.0 L778.7 1540.8 L780.5 1542.3 L782.3 1541.4 L784.1 1534.2 L786.0 1532.4 L787.8 1532.3 L789.6 1530.9 L791.4 1531.1 L793.2 1527.7 L795.0 1524.8 L796.9 1524.3 L798.7 1523.6 L800.5 1524.2 L802.3 1524.3 L804.1 1521.9 L806.0 1522.1 L807.8 1516.2 L809.6 1517.3 L811.4 1511.5 L813.2 1514.8 L815.1 1513.0 L816.9 1510.1 L818.7 1509.9 L820.5 1509.0 L822.3 1508.5 L824.1 1506.3 L826.0 1506.7 L827.8 1506.6 L829.6 1502.7 L831.4 1501.8 L833.2 1499.4 L835.1 1499.3 L836.9 1500.7 L838.7 1498.7 L840.5 1495.0 L842.3 1495.7 L844.1 1491.5 L846.0 1492.3 L847.8 1487.0 L849.6 1486.7 L851.4 1485.4 L853.2 1484.8 L855.1 1479.0 L856.9 1478.8 L858.7 1476.7 L860.5 1476.8 L862.3 1475.0 L864.1 1472.8 L866.0 1468.8 L867.8 1468.5 L869.6 1465.9 L871.4 1460.6 L873.2 1459.2 L875.1 1459.1 L876.9 1454.3 L878.7 1453.2 L880.5 1448.7 L882.3 1447.5 L884.1 1443.9 L886.0 1445.9 L887.8 1442.6 L889.6 1442.8 L891.4 1439.2 L893.2 1436.8 L895.1 1432.6 L896.9 1431.5 L898.7 1429.5 L900.5 1430.2 L902.3 1426.7 L904.2 1422.8 L906.0 1421.9 L907.8 1414.1 L909.6 1418.0 L911.4 1416.2 L913.2 1415.2 L915.1 1411.0 L916.9 1412.5 L918.7 1412.1 L920.5 1406.9 L922.3 1400.6 L924.2 1402.9 L926.0 1401.1 L927.8 1398.8 L929.6 1395.2 L931.4 1395.5 L933.2 1393.3 L935.1 1388.7 L936.9 1389.1 L938.7 1387.2 L940.5 1386.0 L942.3 1387.6 L944.2 1386.7 L946.0 1385.3 L947.8 1384.5 L949.6 1381.7 L951.4 1377.0 L953.2 1382.3 L955.1 1382.0 L956.9 1384.3 L958.7 1380.3 L960.5 1382.8 L962.3 1385.3 L964.2 1386.6 L966.0 1384.6 L967.8 1386.2 L969.6 1384.2 L971.4 1386.7 L973.2 1389.4 L975.1 1392.6 L976.9 1394.3 L978.7 1395.1 L980.5 1397.9 L982.3 1399.3 L984.2 1402.7 L986.0 1404.8 L987.8 1405.8 L989.6 1405.4 L991.4 1408.5 L993.3 1414.1 L995.1 1414.7 L996.9 1417.1 L998.7 1424.5 L1000.5 1422.9 L1002.3 1424.5 L1004.2 1431.2 L1006.0 1433.5 L1007.8 1439.0 L1009.6 1440.1 L1011.4 1445.5 L1013.3 1450.6 L1015.1 1453.5 L1016.9 1454.0 L1018.7 1461.8 L1020.5 1465.9 L1022.3 1471.6 L1024.2 1475.5 L1026.0 1475.8 L1027.8 1487.7 L1029.6 1492.0 L1031.4 1497.6 L1033.3 1501.1 L1035.1 1509.2 L1036.9 1512.8 L1038.7 1518.8 L1040.5 1524.2 L1042.3 1527.5 L1044.2 1536.5 L1046.0 1542.2 L1047.8 1548.1 L1049.6 1553.1 L1051.4 1554.9 L1053.3 1563.9 L1055.1 1570.6 L1056.9 1576.8 L1058.7 1584.2 L1060.5 1587.3 L1062.3 1595.4 L1064.2 1602.1 L1066.0 1607.4 L1067.8 1613.8 L1069.6 1619.7 L1071.4 1622.2 L1073.3 1628.4 L1075.1 1636.3 L1076.9 1642.8 L1078.7 1647.7 L1080.5 1658.1 L1082.3 1658.6 L1084.2 1664.5 L1086.0 1672.7 L1087.8 1676.2 L1089.6 1682.2 L1091.4 1686.5 L1093.3 1694.3 L1095.1 1697.5 L1096.9 1703.7 L1098.7 1708.2 L1100.5 1708.5 L1102.4 1714.3 L1104.2 1720.5 L1106.0 1724.9 L1107.8 1726.1 L1109.6 1737.1 L1111.4 1741.3 L1113.3 1746.3 L1115.1 1751.8 L1116.9 1762.2 L1118.7 1762.3 L1120.5 1768.4 L1122.4 1773.4 L1124.2 1781.7 L1126.0 1783.4 L1127.8 1791.3 L1129.6 1795.8 L1131.4 1798.8 L1133.3 1801.0 L1135.1 1812.8 L1136.9 1812.9 L1138.7 1818.1 L1140.5 1823.6 L1142.4 1824.7 L1144.2 1830.6 L1146.0 1833.0 L1147.8 1839.2 L1149.6 1842.0 L1151.4 1849.0 L1153.3 1849.5 L1155.1 1853.4 L1156.9 1854.5 L1158.7 1859.6 L1160.5 1861.4 L1162.4 1862.6 L1164.2 1868.3 L1166.0 1868.2 L1167.8 1871.1 L1169.6 1874.3 L1171.4 1875.4 L1173.3 1879.7 L1175.1 1881.2 L1176.9 1882.5 L1178.7 1886.1 L1180.5 1890.8 L1182.4 1893.2 L1184.2 1894.5 L1186.0 1897.9 L1187.8 1897.1 L1189.6 1904.1 L1191.5 1904.7 L1193.3 1906.5 L1195.1 1910.2 L1196.9 1909.6 L1198.7 1911.6 L1200.5 1916.0 L1202.4 1919.5 L1204.2 1923.7 L1206.0 1923.2 L1207.8 1923.6 L1209.6 1925.6 L1211.5 1924.8 L1213.3 1930.0 L1215.1 1929.4 L1216.9 1935.0 L1218.7 1933.3 L1220.5 1936.6 L1222.4 1940.2 L1224.2 1939.9 L1226.0 1942.2 L1227.8 1943.5 L1229.6 1946.2 L1231.5 1944.9 L1233.3 1949.6 L1235.1 1955.6 L1236.9 1949.4 L1238.7 1951.8 L1240.5 1954.8 L1242.4 1951.4 L1244.2 1952.9 L1246.0 1959.2 L1247.8 1960.4 L1249.6 1962.3 L1251.5 1963.4 L1253.3 1961.5 L1255.1 1964.2 L1256.9 1965.7 L1258.7 1966.9 L1260.5 1970.8 L1262.4 1972.6 L1264.2 1972.7 L1266.0 1971.3 L1267.8 1971.5 L1269.6 1976.3 L1271.5 1979.0 L1273.3 1979.9 L1275.1 1977.8 L1276.9 1984.2 L1278.7 1981.7 L1280.5 1984.5 L1282.4 1986.8 L1284.2 1986.1 L1286.0 1988.7 L1287.8 1991.3 L1289.6 1990.9 L1291.5 1993.5 L1293.3 1994.4 L1295.1 1997.8 L1296.9 2004.0 L1298.7 1999.1 L1300.6 1998.8 L1302.4 2003.2 L1304.2 2005.0 L1306.0 2006.3 L1307.8 2000.9 L1309.6 2009.6 L1311.5 2004.1 L1313.3 2012.0 L1315.1 2010.9 L1316.9 2016.6 L1318.7 2010.7 L1320.6 2013.6 L1322.4 2012.8 L1324.2 2012.4 L1326.0 2011.2 L1327.8 2015.8 L1329.6 2009.7 L1331.5 2014.6 L1333.3 2021.3 L1335.1 2022.3 L1336.9 2016.5 L1338.7 2020.6 L1340.6 2020.8 L1342.4 2019.6 L1344.2 2025.7 L1346.0 2024.8 L1347.8 2023.8 L1349.6 2021.9 L1351.5 2024.6 L1353.3 2027.2 L1355.1 2030.8 L1356.9 2026.4 L1358.7 2027.9 L1360.6 2032.0 L1362.4 2031.1 L1364.2 2030.0 L1366.0 2032.3 L1367.8 2033.9 L1369.6 2034.9 L1371.5 2031.8 L1373.3 2037.2 L1375.1 2034.7 L1376.9 2034.8 L1378.7 2032.9 L1380.6 2035.2 L1382.4 2035.7 L1384.2 2042.5 L1386.0 2041.2 L1387.8 2038.8 L1389.7 2038.8 L1391.5 2044.1 L1393.3 2036.3 L1395.1 2039.6 L1396.9 2039.1 L1398.7 2044.9 L1400.6 2039.9 L1402.4 2039.5 L1404.2 2042.9 L1406.0 2041.8 L1407.8 2043.3 L1409.7 2045.4 L1411.5 2045.2 L1413.3 2045.1 L1415.1 2044.5 L1416.9 2046.1 L1418.7 2045.8 L1420.6 2044.3 L1422.4 2045.2 L1424.2 2048.3 L1426.0 2047.4 L1427.8 2044.5 L1429.7 2049.6 L1431.5 2045.6 L1433.3 2043.6 L1435.1 2050.1 L1436.9 2053.1 L1438.7 2052.7 L1440.6 2050.5 L1442.4 2053.4 L1444.2 2051.1 L1446.0 2048.2 L1447.8 2051.2 L1449.7 2055.4 L1451.5 2052.8 L1453.3 2048.7 L1455.1 2054.2 L1456.9 2052.0 L1458.7 2056.4 L1460.6 2054.1 L1462.4 2053.9 L1464.2 2051.3 L1466.0 2050.7 L1467.8 2053.9" stroke="#00cccc"/>
<path d="M255.6 1060.8 L256.6 1071.6 L258.0 1086.9 L259.1 1095.8 L263.0 1112.2 L264.2 1126.8 L265.7 1149.0 L267.2 1168.6 L269.9 1184.0 L273.3 1202.5 L273.2 1216.5 L276.3 1227.0 L277.2 1226.9 L277.8 1248.6 L281.5 1246.5 L282.3 1259.1 L283.2 1259.2 L287.3 1275.5 L287.8 1272.6 L290.4 1274.4 L291.9 1282.9 L290.2 1293.7 L295.8 1299.6 L298.4 1313.1 L299.3 1316.2 L299.3 1316.7 L303.2 1327.5 L303.6 1334.5 L307.2 1342.4 L309.3 1349.9 L310.8 1354.3 L312.6 1356.1 L313.7 1363.0 L314.8 1374.3 L316.6 1375.2 L318.9 1377.3 L320.7 1384.6 L322.2 1396.4 L323.7 1394.9 L327.4 1390.0 L329.1 1406.4 L329.4 1409.5 L331.4 1411.6 L333.1 1409.9 L335.1 1418.6 L337.5 1411.5 L338.5 1427.3 L340.9 1428.0 L342.6 1433.6 L343.7 1439.6 L345.8 1442.7 L347.7 1443.4 L350.1 1444.0 L351.1 1452.5 L353.1 1451.8 L354.0 1455.3 L358.7 1458.1 L358.5 1465.3 L360.3 1461.5 L361.8 1472.8 L364.1 1465.6 L366.3 1473.1 L367.5 1470.8 L370.0 1476.4 L371.5 1480.1 L372.5 1477.2 L374.8 1485.7 L377.0 1484.7 L378.5 1487.2 L380.4 1484.3 L381.2 1488.3 L383.9 1490.5 L385.9 1491.7 L387.5 1490.4 L389.1 1494.2 L391.3 1502.5 L393.2 1498.4 L394.4 1507.0 L396.8 1507.7 L398.7 1511.2 L400.5 1509.4 L402.4 1510.9 L404.4 1514.7 L406.1 1517.7 L407.5 1517.0 L409.5 1514.7 L411.4 1521.6 L413.3 1514.7 L415.8 1520.2 L417.3 1523.0 L418.6 1524.2 L420.5 1522.2 L422.3 1525.1 L424.1 1522.9 L425.6 1525.5 L427.5 1528.1 L429.6 1527.5 L431.4 1527.9 L433.2 1526.2 L435.0 1529.6 L436.8 1529.4 L438.7 1534.1 L440.5 1531.9 L442.3 1533.3 L444.1 1537.6 L445.9 1539.4 L447.7 1535.0 L449.6 1538.6 L451.4 1541.6 L453.2 1531.5 L455.0 1542.7 L456.8 1541.6 L458.7 1544.3 L460.5 1539.0 L462.3 1542.3 L464.1 1538.7 L465.9 1540.7 L467.7 1548.8 L469.6 1545.4 L471.4 1542.3 L473.2 1546.7 L475.0 1538.7 L476.8 1546.2 L478.7 1549.3 L480.5 1547.2 L482.3 1546.0 L484.1 1542.9 L485.9 1544.4 L487.7 1540.9 L489.6 1543.1 L491.4 1544.2 L493.2 1544.3 L495.0 1543.4 L496.8 1544.5 L498.7 1550.8 L500.5 1547.1 L502.3 1547.6 L504.1 1547.1 L505.9 1545.1 L507.8 1543.3 L509.6 1541.0 L511.4 1550.6 L513.2 1545.0 L515.0 1542.0 L516.8 1547.0 L518.7 1552.1 L520.5 1546.2 L522.3 1545.3 L524.1 1544.7 L525.9 1551.9 L527.8 1552.6 L529.6 1557.2 L531.4 1551.1 L533.2 1550.7 L535.0 1551.2 L536.8 1555.1 L538.7 1556.4 L540.5 1554.3 L542.3 1551.1 L544.1 1551.5 L545.9 1551.0 L547.8 1554.9 L549.6 1557.0 L551.4 1554.6 L553.2 1558.1 L555.0 1558.2 L556.8 1552.3 L558.7 1553.0 L560.5 1561.5 L562.3 1558.1 L564.1 1563.0 L565.9 1558.3 L567.8 1557.3 L569.6 1560.4 L571.4 1557.6 L573.2 1558.7 L575.0 1559.2 L576.8 1565.4 L578.7 1559.5 L580.5 1568.0 L582.3 1561.1 L584.1 1563.1 L585.9 1565.0 L587.8 1570.0 L589.6 1562.7 L591.4 1564.8 L593.2 1565.7 L595.0 1570.4 L596.8 1566.2 L598.7 1567.4 L600.5 1575.6 L602.3 1574.6 L604.1 1573.8 L605.9 1571.9 L607.8 1570.9 L609.6 1571.2 L611.4 1568.8 L613.2 1574.2 L615.0 1575.2 L616.9 1577.5 L618.7 1581.0 L620.5 1574.5 L622.3 1574.2 L624.1 1579.6 L625.9 1581.6 L627.8 1572.8 L629.6 1579.3 L631.4 1581.9 L633.2 1579.1 L635.0 1574.2 L636.9 1584.5 L638.7 1573.4 L640.5 1580.7 L642.3 1584.1 L644.1 1578.7 L645.9 1588.7 L647.8 1586.3 L649.6 1583.6 L651.4 1578.1 L653.2 1586.8 L655.0 1583.3 L656.9 1588.2 L658.7 1579.9 L660.5 1586.0 L662.3 1586.3 L664.1 1581.7 L665.9 1586.2 L667.8 1582.7 L669.6 1579.3 L671.4 1584.6 L673.2 1591.1 L675.0 1579.7 L676.9 1583.8 L678.7 1584.3 L680.5 1581.9 L682.3 1585.5 L684.1 1583.8 L685.9 1583.8 L687.8 1575.8 L689.6 1573.8 L691.4 1572.0 L693.2 1568.9 L695.0 1568.9 L696.9 1571.9 L698.7 1573.2 L700.5 1568.8 L702.3 1568.1 L704.1 1571.9 L706.0 1569.1 L707.8 1563.2 L709.6 1564.9 L711.4 1564.8 L713.2 1565.6 L715.0 1558.8 L716.9 1556.5 L718.7 1563.7 L720.5 1559.2 L722.3 1557.3 L724.1 1557.8 L726.0 1558.6 L727.8 1555.9 L729.6 1551.3 L731.4 1555.5 L733.2 1550.2 L735.0 1555.0 L736.9 1550.2 L738.7 1548.3 L740.5 1547.8 L742.3 1546.8 L744.1 1547.7 L746.0 1548.1 L747.8 1547.9 L749.6 1543.5 L751.4 1545.8 L753.2 1542.4 L755.0 1546.1 L756.9 1543.6 L758.7 1542.3 L760.5 1537.3 L762.3 1544.0 L764.1 1536.8 L766.0 1536.5 L767.8 1536.8 L769.6 1531.6 L771.4 1533.7 L773.2 1532.6 L775.0 1532.5 L776.9 1526.0 L778.7 1529.8 L780.5 1529.6 L782.3 1526.0 L784.1 1526.1 L786.0 1521.4 L787.8 1521.4 L789.6 1512.0 L791.4 1518.2 L793.2 1517.4 L795.0 1511.6 L796.9 1516.8 L798.7 1509.8 L800.5 1508.6 L802.3 1509.1 L804.1 1506.7 L806.0 1509.1 L807.8 1504.6 L809.6 1504.8 L811.4 1506.2 L813.2 1499.4 L815.1 1503.4 L816.9 1498.8 L818.7 1498.8 L820.5 1494.4 L822.3 1499.1 L824.1 1494.2 L826.0 1493.2 L827.8 1493.7 L829.6 1494.2 L831.4 1489.9 L833.2 1489.5 L835.1 1486.6 L836.9 1485.7 L838.7 1484.6 L840.5 1484.4 L842.3 1481.5 L844.1 1484.3 L846.0 1478.4 L847.8 1475.4 L849.6 1472.6 L851.4 1470.2 L853.2 1471.1 L855.1 1468.9 L856.9 1466.1 L858.7 1467.3 L860.5 1460.7 L862.3 1458.4 L864.1 1457.4 L866.0 1454.6 L867.8 1455.3 L869.6 1449.0 L871.4 1443.9 L873.2 1444.6 L875.1 1444.3 L876.9 1441.1 L878.7 1433.6 L880.5 1434.9 L882.3 1432.2 L884.1 1430.2 L886.0 1430.9 L887.8 1425.0 L889.6 1425.2 L891.4 1426.0 L893.2 1422.7 L895.1 1417.5 L896.9 1413.6 L898.7 1416.6 L900.5 1415.2 L902.3 1412.7 L904.2 1410.8 L906.0 1407.6 L907.8 1406.1 L909.6 1400.0 L911.4 1401.3 L913.2 1398.1 L915.1 1395.8 L916.9 1398.8 L918.7 1392.4 L920.5 1390.2 L922.3 1388.7 L924.2 1386.5 L926.0 1387.2 L927.8 1384.4 L929.6 1384.0 L931.4 1379.7 L933.2 1380.8 L935.1 1380.4 L936.9 1378.2 L938.7 1374.5 L940.5 1374.6 L942.3 1374.0 L944.2 1371.8 L946.0 1368.2 L947.8 1370.1 L949.6 1365.7 L951.4 1367.4 L953.2 1362.8 L955.1 1364.7 L956.9 1367.4 L958.7 1365.1 L960.5 1372.0 L962.3 1369.5 L964.2 1369.7 L966.0 1366.4 L967.8 1369.7 L969.6 1369.8 L971.4 1367.9 L973.2 1372.3 L975.1 1376.4 L976.9 1382.3 L978.7 1381.3 L980.5 1384.3 L982.3 1385.8 L984.2 1388.7 L986.0 1389.8 L987.8 1392.4 L989.6 1393.7 L991.4 1392.2 L993.3 1398.1 L995.1 1399.2 L996.9 1402.7 L998.7 1403.1 L1000.5 1408.2 L1002.3 1412.2 L1004.2 1415.0 L1006.0 1420.6 L1007.8 1422.2 L1009.6 1425.2 L1011.4 1430.0 L1013.3 1435.0 L1015.1 1441.5 L1016.9 1443.8 L1018.7 1451.0 L1020.5 1454.7 L1022.3 1459.0 L1024.2 1466.8 L1026.0 1467.1 L1027.8 1475.8 L1029.6 1478.8 L1031.4 1483.1 L1033.3 1490.3 L1035.1 1503.1 L1036.9 1501.7 L1038.7 1508.6 L1040.5 1515.2 L1042.3 1518.7 L1044.2 1523.0 L1046.0 1526.6 L1047.8 1535.3 L1049.6 1542.6 L1051.4 1545.5 L1053.3 1554.3 L1055.1 1558.1 L1056.9 1564.7 L1058.7 1571.1 L1060.5 1576.6 L1062.3 1584.1 L1064.2 1586.1 L1066.0 1595.4 L1067.8 1601.6 L1069.6 1608.2 L1071.4 1616.5 L1073.3 1620.5 L1075.1 1630.4 L1076.9 1636.4 L1078.7 1640.7 L1080.5 1649.9 L1082.3 1657.3 L1084.2 1662.1 L1086.0 1668.4 L1087.8 1670.1 L1089.6 1675.8 L1091.4 1682.1 L1093.3 1688.8 L1095.1 1696.2 L1096.9 1696.8 L1098.7 1699.3 L1100.5 1703.7 L1102.4 1712.8 L1104.2 1713.7 L1106.0 1720.6 L1107.8 1725.7 L1109.6 1732.3 L1111.4 1737.2 L1113.3 1743.5 L1115.1 1745.1 L1116.9 1753.1 L1118.7 1756.0 L1120.5 1762.0 L1122.4 1770.3 L1124.2 1771.9 L1126.0 1779.2 L1127.8 1782.4 L1129.6 1792.7 L1131.4 1799.1 L1133.3 1802.0 L1135.1 1809.2 L1136.9 1812.1 L1138.7 1818.2 L1140.5 1816.9 L1142.4 1824.5 L1144.2 1828.3 L1146.0 1832.3 L1147.8 1835.2 L1149.6 1839.8 L1151.4 1841.8 L1153.3 1845.7 L1155.1 1849.7 L1156.9 1850.2 L1158.7 1855.8 L1160.5 1859.3 L1162.4 1861.8 L1164.2 1861.1 L1166.0 1866.4 L1167.8 1867.0 L1169.6 1868.5 L1171.4 1875.1 L1173.3 1875.8 L1175.1 1875.7 L1176.9 1882.5 L1178.7 1883.0 L1180.5 1885.3 L1182.4 1890.8 L1184.2 1890.4 L1186.0 1896.5 L1187.8 1896.1 L1189.6 1900.4 L1191.5 1901.2 L1193.3 1900.4 L1195.1 1905.4 L1196.9 1907.1 L1198.7 1913.1 L1200.5 1910.6 L1202.4 1913.9 L1204.2 1917.2 L1206.0 1916.0 L1207.8 1922.1 L1209.6 1921.4 L1211.5 1925.3 L1213.3 1929.6 L1215.1 1926.4 L1216.9 1929.9 L1218.7 1931.0 L1220.5 1934.9 L1222.4 1936.0 L1224.2 1936.6 L1226.0 1937.2 L1227.8 1940.3 L1229.6 1941.4 L1231.5 1941.9 L1233.3 1944.3 L1235.1 1944.5 L1236.9 1949.4 L1238.7 1948.3 L1240.5 1949.3 L1242.4 1952.9 L1244.2 1951.3 L1246.0 1955.9 L1247.8 1958.3 L1249.6 1959.2 L1251.5 1957.1 L1253.3 1962.2 L1255.1 1964.1 L1256.9 1963.0 L1258.7 1966.7 L1260.5 1963.4 L1262.4 1963.8 L1264.2 1966.1 L1266.0 1970.8 L1267.8 1970.9 L1269.6 1976.0 L1271.5 1975.3 L1273.3 1975.4 L1275.1 1978.1 L1276.9 1977.4 L1278.7 1977.4 L1280.5 1979.6 L1282.4 1981.1 L1284.2 1981.9 L1286.0 1983.1 L1287.8 1990.6 L1289.6 1989.3 L1291.5 1988.2 L1293.3 1992.6 L1295.1 1994.3 L1296.9 2000.8 L1298.7 1998.0 L1300.6 1995.6 L1302.4 2001.2 L1304.2 1995.8 L1306.0 2006.5 L1307.8 2002.1 L1309.6 2005.0 L1311.5 2006.6 L1313.3 2001.9 L1315.1 2005.4 L1316.9 2009.0 L1318.7 2009.0 L1320.6 2008.8 L1322.4 2010.1 L1324.2 2008.9 L1326.0 2009.5 L1327.8 2011.1 L1329.6 2008.6 L1331.5 2016.4 L1333.3 2018.4 L1335.1 2018.9 L1336.9 2016.1 L1338.7 2016.2 L1340.6 2016.8 L1342.4 2021.3 L1344.2 2019.7 L1346.0 2021.6 L1347.8 2021.2 L1349.6 2021.4 L1351.5 2020.9 L1353.3 2020.5 L1355.1 2023.8 L1356.9 2029.0 L1358.7 2027.4 L1360.6 2025.2 L1362.4 2024.3 L1364.2 2025.3 L1366.0 2028.7 L1367.8 2028.8 L1369.6 2031.8 L1371.5 2031.1 L1373.3 2029.5 L1375.1 2027.8 L1376.9 2031.6 L1378.7 2035.6 L1380.6 2035.9 L1382.4 2034.7 L1384.2 2031.6 L1386.0 2035.6 L1387.8 2033.9 L1389.7 2031.7 L1391.5 2038.0 L1393.3 2037.1 L1395.1 2035.4 L1396.9 2035.9 L1398.7 2041.9 L1400.6 2038.7 L1402.4 2036.6 L1404.2 2041.0 L1406.0 2039.1 L1407.8 2041.6 L1409.7 2039.6 L1411.5 2048.1 L1413.3 2045.7 L1415.1 2041.9 L1416.9 2046.4 L1418.7 2043.0 L1420.6 2043.1 L1422.4 2044.9 L1424.2 2045.1 L1426.0 2049.8 L1427.8 2044.7 L1429.7 2047.8 L1431.5 2047.0 L1433.3 2045.7 L1435.1 2044.8 L1436.9 2047.8 L1438.7 2051.1 L1440.6 2047.6 L1442.4 2052.5 L1444.2 2049.8 L1446.0 2048.2 L1447.8 2046.7 L1449.7 2052.7 L1451.5 2049.6 L1453.3 2048.3 L1455.1 2049.7 L1456.9 2047.4 L1458.7 2053.4 L1460.6 2049.6 L1462.4 2046.5 L1464.2 2049.0 L1466.0 2052.1 L1467.8 2051.2" stroke="#0000ff"/>
<path d="M254.4 1062.6 L255.8 1082.4 L257.8 1109.0 L260.3 1124.2 L263.4 1144.4 L265.0 1167.3 L265.2 1188.7 L267.0 1203.9 L269.2 1224.2 L272.6 1235.3 L273.8 1241.6 L274.7 1245.2 L278.5 1254.8 L278.1 1263.3 L280.7 1269.6 L281.7 1282.6 L282.8 1278.5 L286.8 1289.6 L288.6 1295.2 L287.9 1300.3 L292.7 1313.2 L291.9 1315.0 L294.1 1324.0 L297.3 1332.8 L298.2 1333.2 L298.3 1345.6 L302.5 1352.8 L304.2 1356.9 L306.5 1357.8 L307.1 1366.5 L309.4 1381.7 L311.5 1377.6 L314.8 1380.8 L312.8 1393.6 L316.3 1398.3 L318.4 1398.1 L319.7 1401.8 L322.5 1406.6 L323.6 1404.6 L326.1 1413.3 L327.1 1425.4 L330.3 1427.5 L331.4 1432.7 L333.3 1434.9 L335.7 1440.0 L336.7 1446.1 L338.1 1444.8 L341.5 1452.4 L342.3 1456.9 L343.9 1452.9 L345.9 1460.7 L347.8 1463.1 L350.5 1464.6 L351.3 1472.3 L353.8 1471.9 L355.0 1469.1 L357.3 1473.6 L358.7 1475.5 L361.9 1482.1 L362.4 1486.2 L362.8 1489.1 L365.9 1496.8 L368.0 1495.1 L369.4 1492.4 L370.9 1500.0 L372.9 1498.4 L375.0 1498.3 L377.9 1499.1 L378.4 1507.5 L380.5 1506.6 L382.1 1506.7 L384.7 1510.4 L386.2 1513.5 L387.6 1512.7 L389.6 1517.0 L391.2 1514.9 L393.5 1519.1 L395.0 1522.1 L396.7 1528.0 L399.2 1527.1 L400.4 1531.8 L402.1 1530.2 L403.2 1529.8 L407.5 1534.4 L407.6 1538.9 L409.6 1537.4 L411.4 1538.2 L413.0 1535.3 L414.4 1542.1 L416.9 1545.9 L419.0 1543.8 L420.3 1535.0 L422.6 1546.7 L424.1 1545.7 L425.9 1547.8 L428.1 1542.9 L429.9 1543.1 L431.4 1547.1 L433.2 1542.7 L435.0 1547.0 L436.8 1547.2 L438.7 1552.5 L440.5 1551.1 L442.3 1549.6 L444.1 1551.2 L445.9 1553.4 L447.7 1552.6 L449.6 1547.5 L451.4 1552.6 L453.2 1552.0 L455.0 1557.8 L456.8 1556.5 L458.7 1557.5 L460.5 1559.6 L462.3 1558.0 L464.1 1555.8 L465.9 1559.5 L467.7 1562.8 L469.6 1555.1 L471.4 1558.0 L473.2 1556.7 L475.0 1555.9 L476.8 1557.5 L478.7 1561.4 L480.5 1563.1 L482.3 1564.6 L484.1 1562.0 L485.9 1560.2 L487.7 1555.7 L489.6 1564.1 L491.4 1556.1 L493.2 1559.1 L495.0 1555.8 L496.8 1561.8 L498.7 1552.6 L500.5 1553.7 L502.3 1558.5 L504.1 1563.2 L505.9 1559.4 L507.8 1560.0 L509.6 1556.8 L511.4 1563.9 L513.2 1563.0 L515.0 1563.3 L516.8 1560.1 L518.7 1565.7 L520.5 1564.7 L522.3 1566.0 L524.1 1562.6 L525.9 1561.6 L527.8 1564.2 L529.6 1567.8 L531.4 1565.4 L533.2 1566.2 L535.0 1568.5 L536.8 1568.3 L538.7 1567.9 L540.5 1568.1 L542.3 1571.8 L544.1 1573.0 L545.9 1569.4 L547.8 1564.1 L549.6 1570.2 L551.4 1567.9 L553.2 1568.5 L555.0 1566.3 L556.8 1570.5 L558.7 1565.5 L560.5 1566.1 L562.3 1573.6 L564.1 1570.8 L565.9 1574.3 L567.8 1572.8 L569.6 1570.0 L571.4 1573.5 L573.2 1574.4 L575.0 1574.4 L576.8 1575.8 L578.7 1574.1 L580.5 1576.0 L582.3 1578.4 L584.1 1581.3 L585.9 1582.8 L587.8 1576.7 L589.6 1577.2 L591.4 1579.9 L593.2 1582.2 L595.0 1585.1 L596.8 1587.7 L598.7 1583.2 L600.5 1582.6 L602.3 1582.9 L604.1 1584.2 L605.9 1588.1 L607.8 1587.3 L609.6 1588.6 L611.4 1592.0 L613.2 1593.4 L615.0 1583.5 L616.9 1590.5 L618.7 1591.6 L620.5 1589.4 L622.3 1594.7 L624.1 1593.5 L625.9 1590.2 L627.8 1591.9 L629.6 1592.5 L631.4 1594.5 L633.2 1591.4 L635.0 1592.3 L636.9 1604.1 L638.7 1594.5 L640.5 1593.2 L642.3 1598.0 L644.1 1596.5 L645.9 1599.6 L647.8 1596.1 L649.6 1594.8 L651.4 1602.4 L653.2 1597.6 L655.0 1589.7 L656.9 1596.9 L658.7 1602.6 L660.5 1600.8 L662.3 1598.1 L664.1 1596.1 L665.9 1601.1 L667.8 1595.3 L669.6 1597.5 L671.4 1601.1 L673.2 1602.2 L675.0 1599.4 L676.9 1600.5 L678.7 1602.4 L680.5 1596.2 L682.3 1596.5 L684.1 1603.9 L685.9 1593.7 L687.8 1591.4 L689.6 1591.5 L691.4 1587.1 L693.2 1589.6 L695.0 1589.4 L696.9 1588.9 L698.7 1595.1 L700.5 1592.7 L702.3 1591.6 L704.1 1586.0 L706.0 1585.2 L707.8 1593.3 L709.6 1589.7 L711.4 1588.0 L713.2 1587.4 L715.0 1588.0 L716.9 1588.3 L718.7 1587.5 L720.5 1590.5 L722.3 1584.6 L724.1 1586.8 L726.0 1576.0 L727.8 1579.1 L729.6 1583.5 L731.4 1576.9 L733.2 1574.3 L735.0 1572.8 L736.9 1572.2 L738.7 1569.6 L740.5 1567.3 L742.3 1571.4 L744.1 1572.2 L746.0 1572.8 L747.8 1567.5 L749.6 1565.0 L751.4 1566.9 L753.2 1563.6 L755.0 1567.2 L756.9 1559.0 L758.7 1561.4 L760.5 1560.3 L762.3 1559.3 L764.1 1554.8 L766.0 1553.2 L767.8 1554.6 L769.6 1549.3 L771.4 1552.9 L773.2 1550.6 L775.0 1548.7 L776.9 1541.3 L778.7 1544.3 L780.5 1541.1 L782.3 1538.3 L784.1 1536.2 L786.0 1534.7 L787.8 1536.2 L789.6 1529.6 L791.4 1535.6 L793.2 1527.6 L795.0 1523.0 L796.9 1528.7 L798.7 1520.7 L800.5 1519.1 L802.3 1518.2 L804.1 1520.6 L806.0 1520.0 L807.8 1516.2 L809.6 1515.8 L811.4 1512.0 L813.2 1515.5 L815.1 1511.2 L816.9 1511.0 L818.7 1510.1 L820.5 1508.7 L822.3 1510.5 L824.1 1505.0 L826.0 1504.3 L827.8 1507.2 L829.6 1500.7 L831.4 1499.4 L833.2 1497.9 L835.1 1497.0 L836.9 1495.9 L838.7 1495.5 L840.5 1493.6 L842.3 1491.5 L844.1 1488.5 L846.0 1487.4 L847.8 1485.2 L849.6 1486.7 L851.4 1481.3 L853.2 1481.3 L855.1 1479.0 L856.9 1476.8 L858.7 1474.6 L860.5 1471.7 L862.3 1471.1 L864.1 1466.3 L866.0 1462.3 L867.8 1463.9 L869.6 1460.4 L871.4 1456.3 L873.2 1453.5 L875.1 1452.8 L876.9 1448.3 L878.7 1448.5 L880.5 1445.5 L882.3 1441.8 L884.1 1439.8 L886.0 1438.3 L887.8 1435.8 L889.6 1436.9 L891.4 1436.2 L893.2 1430.7 L895.1 1426.3 L896.9 1423.8 L898.7 1424.4 L900.5 1421.1 L902.3 1421.7 L904.2 1418.6 L906.0 1416.1 L907.8 1417.2 L909.6 1407.3 L911.4 1411.0 L913.2 1406.3 L915.1 1410.1 L916.9 1403.4 L918.7 1401.5 L920.5 1396.4 L922.3 1400.0 L924.2 1394.0 L926.0 1392.6 L927.8 1392.4 L929.6 1391.5 L931.4 1388.9 L933.2 1388.3 L935.1 1388.0 L936.9 1386.3 L938.7 1386.2 L940.5 1380.9 L942.3 1381.5 L944.2 1379.1 L946.0 1375.1 L947.8 1374.7 L949.6 1372.9 L951.4 1374.0 L953.2 1375.1 L955.1 1371.6 L956.9 1375.6 L958.7 1374.4 L960.5 1375.3 L962.3 1376.1 L964.2 1379.3 L966.0 1378.4 L967.8 1377.8 L969.6 1378.4 L971.4 1380.0 L973.2 1381.3 L975.1 1381.5 L976.9 1388.3 L978.7 1387.6 L980.5 1390.4 L982.3 1395.5 L984.2 1394.6 L986.0 1395.0 L987.8 1400.3 L989.6 1400.2 L991.4 1401.4 L993.3 1405.0 L995.1 1410.5 L996.9 1410.8 L998.7 1408.7 L1000.5 1414.7 L1002.3 1418.6 L1004.2 1423.1 L1006.0 1423.4 L1007.8 1430.0 L1009.6 1434.1 L1011.4 1436.6 L1013.3 1440.7 L1015.1 1445.1 L1016.9 1450.6 L1018.7 1453.5 L1020.5 1459.0 L1022.3 1465.4 L1024.2 1466.9 L1026.0 1475.1 L1027.8 1481.1 L1029.6 1486.8 L1031.4 1491.1 L1033.3 1498.9 L1035.1 1505.1 L1036.9 1507.9 L1038.7 1515.0 L1040.5 1518.3 L1042.3 1523.5 L1044.2 1530.6 L1046.0 1537.6 L1047.8 1542.6 L1049.6 1547.4 L1051.4 1550.3 L1053.3 1559.6 L1055.1 1564.7 L1056.9 1571.6 L1058.7 1576.5 L1060.5 1580.7 L1062.3 1587.8 L1064.2 1596.9 L1066.0 1602.6 L1067.8 1604.9 L1069.6 1612.8 L1071.4 1618.1 L1073.3 1628.5 L1075.1 1631.4 L1076.9 1640.4 L1078.7 1645.3 L1080.5 1652.6 L1082.3 1659.9 L1084.2 1666.1 L1086.0 1667.3 L1087.8 1674.2 L1089.6 1679.9 L1091.4 1687.2 L1093.3 1690.8 L1095.1 1696.0 L1096.9 1702.3 L1098.7 1703.2 L1100.5 1709.3 L1102.4 1715.5 L1104.2 1718.6 L1106.0 1719.3 L1107.8 1726.0 L1109.6 1732.1 L1111.4 1737.4 L1113.3 1746.7 L1115.1 1749.4 L1116.9 1756.4 L1118.7 1761.5 L1120.5 1765.4 L1122.4 1770.3 L1124.2 1778.2 L1126.0 1783.3 L1127.8 1786.7 L1129.6 1792.5 L1131.4 1798.9 L1133.3 1804.3 L1135.1 1807.3 L1136.9 1813.5 L1138.7 1818.1 L1140.5 1821.9 L1142.4 1826.6 L1144.2 1829.7 L1146.0 1832.1 L1147.8 1839.3 L1149.6 1841.5 L1151.4 1849.0 L1153.3 1847.8 L1155.1 1854.6 L1156.9 1852.0 L1158.7 1860.8 L1160.5 1861.2 L1162.4 1861.8 L1164.2 1865.1 L1166.0 1867.1 L1167.8 1868.9 L1169.6 1870.0 L1171.4 1874.3 L1173.3 1877.7 L1175.1 1877.2 L1176.9 1887.1 L1178.7 1884.6 L1180.5 1891.7 L1182.4 1889.7 L1184.2 1893.6 L1186.0 1897.0 L1187.8 1899.7 L1189.6 1903.0 L1191.5 1898.1 L1193.3 1904.7 L1195.1 1907.7 L1196.9 1911.6 L1198.7 1911.6 L1200.5 1912.9 L1202.4 1915.8 L1204.2 1920.8 L1206.0 1923.9 L1207.8 1925.1 L1209.6 1925.4 L1211.5 1925.8 L1213.3 1927.8 L1215.1 1931.2 L1216.9 1933.7 L1218.7 1933.9 L1220.5 1935.5 L1222.4 1940.5 L1224.2 1940.0 L1226.0 1940.5 L1227.8 1941.6 L1229.6 1944.4 L1231.5 1945.4 L1233.3 1944.9 L1235.1 1947.9 L1236.9 1948.0 L1238.7 1950.9 L1240.5 1953.1 L1242.4 1953.2 L1244.2 1952.7 L1246.0 1957.5 L1247.8 1954.0 L1249.6 1962.7 L1251.5 1960.7 L1253.3 1961.9 L1255.1 1963.1 L1256.9 1966.0 L1258.7 1968.1 L1260.5 1968.4 L1262.4 1965.6 L1264.2 1971.9 L1266.0 1967.4 L1267.8 1973.4 L1269.6 1973.3 L1271.5 1973.8 L1273.3 1977.2 L1275.1 1977.9 L1276.9 1978.8 L1278.7 1982.6 L1280.5 1983.2 L1282.4 1982.8 L1284.2 1988.0 L1286.0 1989.3 L1287.8 1989.6 L1289.6 1987.2 L1291.5 1992.1 L1293.3 1994.8 L1295.1 1994.7 L1296.9 1996.8 L1298.7 1996.4 L1300.6 2003.1 L1302.4 2002.9 L1304.2 2000.6 L1306.0 2004.3 L1307.8 2003.8 L1309.6 2007.0 L1311.5 2005.7 L1313.3 2008.3 L1315.1 2011.1 L1316.9 2006.0 L1318.7 2010.5 L1320.6 2015.8 L1322.4 2015.0 L1324.2 2010.5 L1326.0 2015.8 L1327.8 2015.8 L1329.6 2014.6 L1331.5 2014.0 L1333.3 2019.7 L1335.1 2020.7 L1336.9 2016.9 L1338.7 2023.6 L1340.6 2019.9 L1342.4 2020.1 L1344.2 2023.3 L1346.0 2023.2 L1347.8 2016.2 L1349.6 2023.0 L1351.5 2017.2 L1353.3 2024.8 L1355.1 2028.2 L1356.9 2028.4 L1358.7 2023.5 L1360.6 2031.0 L1362.4 2030.7 L1364.2 2027.8 L1366.0 2031.2 L1367.8 2033.8 L1369.6 2031.9 L1371.5 2034.2 L1373.3 2033.1 L1375.1 2029.3 L1376.9 2032.5 L1378.7 2035.0 L1380.6 2038.2 L1382.4 2031.3 L1384.2 2036.9 L1386.0 2040.1 L1387.8 2038.9 L1389.7 2035.8 L1391.5 2036.4 L1393.3 2037.9 L1395.1 2040.2 L1396.9 2037.8 L1398.7 2042.0 L1400.6 2039.3 L1402.4 2040.9 L1404.2 2040.8 L1406.0 2043.6 L1407.8 2042.4 L1409.7 2042.6 L1411.5 2044.9 L1413.3 2041.5 L1415.1 2043.6 L1416.9 2045.7 L1418.7 2046.8 L1420.6 2046.1 L1422.4 2045.3 L1424.2 2053.1 L1426.0 2044.1 L1427.8 2045.5 L1429.7 2051.1 L1431.5 2043.0 L1433.3 2049.3 L1435.1 2046.7 L1436.9 2045.4 L1438.7 2053.0 L1440.6 2044.8 L1442.4 2050.4 L1444.2 2054.0 L1446.0 2054.4 L1447.8 2048.4 L1449.7 2050.9 L1451.5 2051.1 L1453.3 2048.2 L1455.1 2053.2 L1456.9 2051.3 L1458.7 2050.9 L1460.6 2053.9 L1462.4 2050.4 L1464.2 2047.6 L1466.0 2056.0 L1467.8 2052.0" stroke="#6600e8"/>
</g>
<line x1="192.0" y1="1120.5" x2="192.0" y2="2061.5" stroke="#000" stroke-width="3.6"/>
<line x1="190.2" y1="2059.5" x2="1470.7" y2="2059.5" stroke="#000" stroke-width="3.6"/>
<line x1="192.0" y1="2056.0" x2="218" y2="2056.0" stroke="#000" stroke-width="3.6"/>
<line x1="192.0" y1="1869.3" x2="218" y2="1869.3" stroke="#000" stroke-width="3.6"/>
<line x1="192.0" y1="1682.6" x2="218" y2="1682.6" stroke="#000" stroke-width="3.6"/>
<line x1="192.0" y1="1495.9" x2="218" y2="1495.9" stroke="#000" stroke-width="3.6"/>
<line x1="192.0" y1="1309.2" x2="218" y2="1309.2" stroke="#000" stroke-width="3.6"/>
<line x1="192.0" y1="1122.5" x2="218" y2="1122.5" stroke="#000" stroke-width="3.6"/>
<rect x="190.2" y="2034.2" width="7.8" height="25.299999999999955" fill="#000"/>
<line x1="378.0" y1="2034.2" x2="378.0" y2="2059.5" stroke="#000" stroke-width="3.6"/>
<line x1="559.8" y1="2034.2" x2="559.8" y2="2059.5" stroke="#000" stroke-width="3.6"/>
<line x1="741.7" y1="2034.2" x2="741.7" y2="2059.5" stroke="#000" stroke-width="3.6"/>
<line x1="923.5" y1="2034.2" x2="923.5" y2="2059.5" stroke="#000" stroke-width="3.6"/>
<line x1="1105.3" y1="2034.2" x2="1105.3" y2="2059.5" stroke="#000" stroke-width="3.6"/>
<line x1="1287.2" y1="2034.2" x2="1287.2" y2="2059.5" stroke="#000" stroke-width="3.6"/>
<line x1="1469.0" y1="2034.2" x2="1469.0" y2="2059.5" stroke="#000" stroke-width="3.6"/>
<text x="179.3" y="2066.3" font-size="40" text-anchor="end">0</text>
<text x="179.3" y="1879.6" font-size="40" text-anchor="end">10</text>
<text x="179.3" y="1692.9" font-size="40" text-anchor="end">20</text>
<text x="179.3" y="1506.2" font-size="40" text-anchor="end">30</text>
<text x="179.3" y="1319.5" font-size="40" text-anchor="end">40</text>
<text x="41" y="1157.5" font-size="40">50x10</text>
<text x="153.8" y="1135.5" font-size="29">-3</text>
<text x="196.2" y="2105.3" font-size="40.5" text-anchor="middle">350</text>
<text x="378.0" y="2105.3" font-size="40.5" text-anchor="middle">400</text>
<text x="559.8" y="2105.3" font-size="40.5" text-anchor="middle">450</text>
<text x="741.7" y="2105.3" font-size="40.5" text-anchor="middle">500</text>
<text x="923.5" y="2105.3" font-size="40.5" text-anchor="middle">550</text>
<text x="1105.3" y="2105.3" font-size="40.5" text-anchor="middle">600</text>
<text x="1287.2" y="2105.3" font-size="40.5" text-anchor="middle">650</text>
<text x="1469.0" y="2105.3" font-size="40.5" text-anchor="middle">700</text>
<text x="854.2" y="2180.8" font-size="52" text-anchor="middle">Wavelength (nm)</text>
<text transform="translate(89.6,1555.7) rotate(-90)" x="0" y="0" font-size="52" text-anchor="middle">Absorbance</text>
<text x="36" y="1257.6" font-size="70.5" textLength="90.8" lengthAdjust="spacingAndGlyphs">(B)</text>
<rect x="1227.3" y="1260.4" width="188.1" height="256.5" fill="#fff" stroke="#000" stroke-width="4.5"/>
<line x1="1237.5" y1="1284.6" x2="1292.3" y2="1284.6" stroke="#ff0000" stroke-width="3.8"/>
<text x="1305.5" y="1294.5" font-size="35.5">12 min</text>
<line x1="1237.5" y1="1319.2" x2="1292.3" y2="1319.2" stroke="#ffa500" stroke-width="3.8"/>
<text x="1305.5" y="1329.1" font-size="35.5">15 min</text>
<line x1="1237.5" y1="1353.8" x2="1292.3" y2="1353.8" stroke="#ffff00" stroke-width="3.8"/>
<text x="1305.5" y="1363.7" font-size="35.5">18 min</text>
<line x1="1237.5" y1="1388.4" x2="1292.3" y2="1388.4" stroke="#009900" stroke-width="3.8"/>
<text x="1305.5" y="1398.3" font-size="35.5">21 min</text>
<line x1="1237.5" y1="1423.0" x2="1292.3" y2="1423.0" stroke="#00cccc" stroke-width="3.8"/>
<text x="1305.5" y="1432.9" font-size="35.5">24 min</text>
<line x1="1237.5" y1="1457.6" x2="1292.3" y2="1457.6" stroke="#0000ff" stroke-width="3.8"/>
<text x="1305.5" y="1467.5" font-size="35.5">27 min</text>
<line x1="1237.5" y1="1492.2" x2="1292.3" y2="1492.2" stroke="#6600e8" stroke-width="3.8"/>
<text x="1305.5" y="1502.1" font-size="35.5">30 min</text>
</svg>
</body></html>
